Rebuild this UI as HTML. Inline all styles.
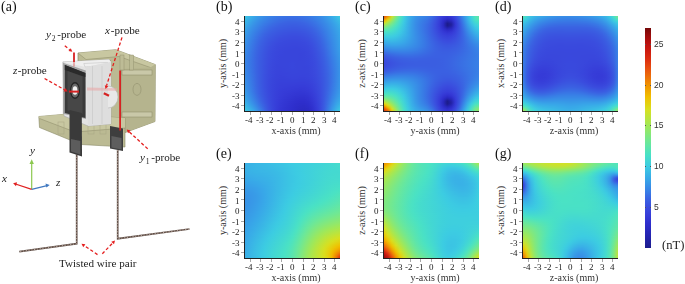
<!DOCTYPE html>
<html><head><meta charset="utf-8">
<style>
*{margin:0;padding:0;box-sizing:border-box}
html,body{width:685px;height:284px;background:#fff;overflow:hidden}
body{position:relative;font-family:"Liberation Serif",serif;color:#222}
.a{position:absolute}
.pl,.tl,.tt,.cbl,.tx{will-change:transform}
.hm{position:absolute;width:95px;height:95px;overflow:hidden}
.hm i{display:block;height:1px}
.pl{position:absolute;font-size:14px;line-height:14px;color:#111}
.axl{position:absolute;width:1px;background:#222}
.axb{position:absolute;height:1px;background:#222}
.tl{position:absolute;font-size:9px;line-height:9px;color:#222;white-space:nowrap}
.tt{position:absolute;font-size:10px;line-height:10px;color:#333;white-space:nowrap}
.tv{position:absolute;width:60px;height:11px;font-size:10px;line-height:11px;color:#333;white-space:nowrap;text-align:center;transform:rotate(-90deg)}
.cb{position:absolute;left:645px;top:28px;width:6px;height:220px}
.cbl{position:absolute;font-family:"Liberation Sans",sans-serif;font-size:8.5px;line-height:9px;color:#333}
</style></head><body>
<!-- panel labels -->
<div class="pl" style="left:0.5px;top:0px">(a)</div>
<div class="pl" style="left:215.5px;top:0px">(b)</div>
<div class="pl" style="left:355px;top:0px">(c)</div>
<div class="pl" style="left:494.5px;top:0px">(d)</div>
<div class="pl" style="left:215.5px;top:147px">(e)</div>
<div class="pl" style="left:355px;top:147px">(f)</div>
<div class="pl" style="left:494.5px;top:147px">(g)</div>

<div class="hm" style="left:245px;top:16px"><i style="background:linear-gradient(90deg,#3bc5e3,#3ab7e6,#38aae8,#389ee8,#3894e7,#388be7,#3884e6,#387ee6,#3879e5,#3975e5,#3972e4,#3970e4,#3970e4,#3970e4,#3972e4,#3975e5,#3879e5,#387ee6,#3884e6,#388be7,#3894e7,#389fe8,#38ace7,#3abae5,#3ccae2)"></i><i style="background:linear-gradient(90deg,#3bc2e4,#39b4e6,#38a7e8,#389be7,#3891e7,#3889e6,#3882e6,#387ce5,#3976e5,#3972e4,#3970e4,#396ee4,#396de4,#396ee4,#3970e4,#3972e4,#3976e5,#387ce5,#3882e6,#3889e6,#3892e7,#389de7,#38a9e8,#3ab7e6,#3bc6e3)"></i><i style="background:linear-gradient(90deg,#3bbfe4,#39b1e7,#38a4e8,#3899e7,#388fe7,#3886e6,#387fe6,#3879e5,#3974e4,#3970e4,#396de4,#396ce3,#396be3,#396be3,#396de3,#3970e4,#3974e4,#3879e5,#3880e6,#3887e6,#3890e7,#389be7,#38a7e8,#39b4e6,#3bc3e4)"></i><i style="background:linear-gradient(90deg,#3abce5,#39aee7,#38a1e8,#3896e7,#388ce7,#3884e6,#387de6,#3977e5,#3972e4,#396ee4,#396be3,#3a69e3,#3a69e3,#3a69e3,#396be3,#396ee4,#3972e4,#3977e5,#387ee6,#3885e6,#388ee7,#3899e7,#38a5e8,#39b1e6,#3bbfe4)"></i><i style="background:linear-gradient(90deg,#3ab9e5,#38abe7,#389fe8,#3893e7,#388ae6,#3882e6,#387ae5,#3974e4,#396fe4,#396be3,#3a69e3,#3a67e3,#3a66e3,#3a67e3,#3a68e3,#396be3,#396fe4,#3975e4,#387ce5,#3883e6,#388ce7,#3897e7,#38a2e8,#39afe7,#3abce5)"></i><i style="background:linear-gradient(90deg,#3ab6e6,#38a9e8,#389ce7,#3891e7,#3887e6,#387fe6,#3978e5,#3972e4,#396de3,#3a69e3,#3a66e3,#3a64e2,#3a64e2,#3a64e2,#3a66e3,#3a69e3,#396de3,#3972e4,#3879e5,#3882e6,#388ae7,#3895e7,#38a0e8,#39ade7,#3ab9e5)"></i><i style="background:linear-gradient(90deg,#39b4e6,#38a6e8,#3899e7,#388ee7,#3885e6,#387de6,#3976e5,#3970e4,#396be3,#3a67e3,#3a64e2,#3a62e2,#3a62e2,#3a62e2,#3a63e2,#3a66e3,#396be3,#3970e4,#3977e5,#3880e6,#3889e6,#3893e7,#389ee8,#38aae8,#3ab7e6)"></i><i style="background:linear-gradient(90deg,#39b1e6,#38a4e8,#3897e7,#388ce7,#3883e6,#387ae5,#3973e4,#396de3,#3a68e3,#3a64e2,#3a62e2,#3a60e2,#3a60e2,#3a60e2,#3a61e2,#3a64e2,#3a68e3,#396ee4,#3975e5,#387ee6,#3887e6,#3891e7,#389ce7,#38a9e8,#39b5e6)"></i><i style="background:linear-gradient(90deg,#39afe7,#38a1e8,#3895e7,#388ae6,#3881e6,#3978e5,#3971e4,#396be3,#3a66e3,#3a62e2,#3a60e2,#3a5fe1,#3a5ee1,#3a5ee1,#3a60e2,#3a62e2,#3a66e3,#396ce3,#3973e4,#387ce5,#3885e6,#388fe7,#389ae7,#38a7e8,#39b2e6)"></i><i style="background:linear-gradient(90deg,#39ade7,#389fe8,#3892e7,#3888e6,#387ee6,#3976e5,#396ee4,#3a69e3,#3a64e2,#3a60e2,#3a5ee1,#3a5de1,#3a5ce1,#3a5de1,#3a5ee1,#3a60e2,#3a64e2,#396ae3,#3971e4,#387ae5,#3884e6,#388ee7,#3899e7,#38a5e8,#39b0e7)"></i><i style="background:linear-gradient(90deg,#38aae8,#389de7,#3890e7,#3886e6,#387ce5,#3973e4,#396ce3,#3a66e3,#3a62e2,#3a5fe1,#3a5de1,#3a5be1,#3a5be1,#3a5be1,#3a5ce1,#3a5ee1,#3a62e2,#3a67e3,#396fe4,#3978e5,#3882e6,#388ce7,#3897e7,#38a3e8,#39afe7)"></i><i style="background:linear-gradient(90deg,#38a8e8,#389ae7,#388ee7,#3884e6,#387ae5,#3971e4,#396ae3,#3a64e2,#3a60e2,#3a5de1,#3a5be1,#3a5ae1,#3a59e0,#3a59e0,#3a5be1,#3a5de1,#3a60e2,#3a65e2,#396de3,#3976e5,#3881e6,#388be7,#3896e7,#38a2e8,#39ade7)"></i><i style="background:linear-gradient(90deg,#38a6e8,#3898e7,#388ce7,#3882e6,#3978e5,#396fe4,#3a68e3,#3a62e2,#3a5ee1,#3a5ce1,#3a5ae0,#3a58e0,#3a58e0,#3a58e0,#3a59e0,#3a5be1,#3a5ee1,#3a63e2,#396be3,#3974e4,#387fe6,#3889e6,#3895e7,#38a0e8,#38ace7)"></i><i style="background:linear-gradient(90deg,#38a4e8,#3896e7,#388ae7,#3880e6,#3976e5,#396de3,#3a66e2,#3a60e2,#3a5de1,#3a5ae1,#3a58e0,#3a57e0,#3a56e0,#3a56e0,#3a57e0,#3a59e0,#3a5de1,#3a61e2,#3a69e3,#3973e4,#387de6,#3888e6,#3893e7,#389fe8,#38aae8)"></i><i style="background:linear-gradient(90deg,#38a2e8,#3895e7,#3889e6,#387ee6,#3974e4,#396be3,#3a64e2,#3a5fe1,#3a5be1,#3a58e0,#3a56e0,#3a55e0,#3a55e0,#3a55e0,#3a56e0,#3a58e0,#3a5be1,#3a60e2,#3a67e3,#3971e4,#387ce5,#3887e6,#3892e7,#389ee7,#38a9e8)"></i><i style="background:linear-gradient(90deg,#38a1e8,#3893e7,#3887e6,#387ce5,#3972e4,#3a69e3,#3a62e2,#3a5de1,#3a5ae0,#3a57e0,#3a55e0,#3a54df,#3a53df,#3a53df,#3a54df,#3a56e0,#3a5ae0,#3a5fe1,#3a66e2,#396fe4,#387ae5,#3886e6,#3891e7,#389de7,#38a8e8)"></i><i style="background:linear-gradient(90deg,#389fe8,#3891e7,#3885e6,#387ae5,#3970e4,#3a67e3,#3a60e2,#3a5ce1,#3a58e0,#3a55e0,#3a53df,#3a52df,#3a52df,#3a52df,#3a53df,#3a55e0,#3a58e0,#3a5de1,#3a64e2,#396ee4,#3879e5,#3885e6,#3890e7,#389ce7,#38a7e8)"></i><i style="background:linear-gradient(90deg,#389de7,#3890e7,#3884e6,#3978e5,#396ee4,#3a65e2,#3a5fe1,#3a5ae1,#3a57e0,#3a54df,#3a52df,#3a51df,#3a50df,#3a50df,#3a51df,#3a53df,#3a57e0,#3a5ce1,#3a62e2,#396ce3,#3978e5,#3884e6,#388fe7,#389be7,#38a7e8)"></i><i style="background:linear-gradient(90deg,#389ce7,#388ee7,#3882e6,#3977e5,#396ce3,#3a63e2,#3a5de1,#3a59e0,#3a55e0,#3a53df,#3a51df,#3a4fdf,#3a4fdf,#3a4fdf,#3a50df,#3a52df,#3a55e0,#3a5ae1,#3a61e2,#396be3,#3976e5,#3883e6,#388ee7,#389ae7,#38a6e8)"></i><i style="background:linear-gradient(90deg,#389ae7,#388de7,#3881e6,#3975e5,#396be3,#3a62e2,#3a5ce1,#3a58e0,#3a54df,#3a51df,#3a4fdf,#3a4ede,#3a4ede,#3a4ede,#3a4fde,#3a51df,#3a54df,#3a59e0,#3a60e2,#3a69e3,#3975e5,#3882e6,#388de7,#3899e7,#38a5e8)"></i><i style="background:linear-gradient(90deg,#3899e7,#388ce7,#387fe6,#3973e4,#3a69e3,#3a60e2,#3a5be1,#3a56e0,#3a53df,#3a50df,#3a4ede,#3a4dde,#3a4cde,#3a4cde,#3a4dde,#3a4fdf,#3a53df,#3a58e0,#3a5ee1,#3a68e3,#3974e4,#3881e6,#388de7,#3899e7,#38a5e8)"></i><i style="background:linear-gradient(90deg,#3898e7,#388ae7,#387ee6,#3972e4,#3a67e3,#3a5fe2,#3a5ae0,#3a55e0,#3a51df,#3a4fde,#3a4dde,#3a4cde,#3a4bde,#3a4bde,#3a4cde,#3a4ede,#3a51df,#3a57e0,#3a5de1,#3a66e3,#3973e4,#3880e6,#388ce7,#3898e7,#38a4e8)"></i><i style="background:linear-gradient(90deg,#3896e7,#3889e6,#387de6,#3971e4,#3a66e3,#3a5ee1,#3a58e0,#3a54df,#3a50df,#3a4dde,#3a4cde,#3a4bde,#3a4bdd,#3a4bdd,#3a4bde,#3a4dde,#3a50df,#3a55e0,#3a5ce1,#3a65e2,#3971e4,#387fe6,#388be7,#3897e7,#38a4e8)"></i><i style="background:linear-gradient(90deg,#3895e7,#3888e6,#387be5,#396fe4,#3a65e2,#3a5de1,#3a57e0,#3a53df,#3a4fdf,#3a4cde,#3a4bde,#3a4add,#394add,#394add,#3a4add,#3a4cde,#3a4fdf,#3a54e0,#3a5be1,#3a64e2,#3970e4,#387ee6,#388ae7,#3897e7,#38a3e8)"></i><i style="background:linear-gradient(90deg,#3894e7,#3887e6,#387ae5,#396ee4,#3a63e2,#3a5ce1,#3a56e0,#3a52df,#3a4ede,#3a4bde,#3a4add,#3949dd,#3949dd,#3949dd,#394add,#3a4bde,#3a4ede,#3a53df,#3a5ae1,#3a62e2,#396fe4,#387de6,#388ae6,#3896e7,#38a3e8)"></i><i style="background:linear-gradient(90deg,#3893e7,#3886e6,#3879e5,#396de3,#3a62e2,#3a5be1,#3a55e0,#3a50df,#3a4dde,#3a4bde,#3949dd,#3949dd,#3948dd,#3948dd,#3949dd,#3a4add,#3a4dde,#3a52df,#3a59e0,#3a61e2,#396ee4,#387ce5,#3889e6,#3896e7,#38a2e8)"></i><i style="background:linear-gradient(90deg,#3892e7,#3885e6,#3978e5,#396ce3,#3a61e2,#3a5ae1,#3a54e0,#3a4fdf,#3a4cde,#394add,#3949dd,#3948dd,#3948dc,#3948dc,#3948dd,#3949dd,#3a4cde,#3a51df,#3a58e0,#3a61e2,#396de3,#387be5,#3888e6,#3895e7,#38a2e8)"></i><i style="background:linear-gradient(90deg,#3891e7,#3884e6,#3977e5,#396be3,#3a60e2,#3a59e0,#3a53df,#3a4fde,#3a4bde,#3949dd,#3948dd,#3948dc,#3947dc,#3947dc,#3948dc,#3949dd,#3a4bde,#3a50df,#3a57e0,#3a60e2,#396ce3,#387ae5,#3888e6,#3895e7,#38a2e8)"></i><i style="background:linear-gradient(90deg,#3890e7,#3883e6,#3976e5,#396ae3,#3a60e2,#3a59e0,#3a53df,#3a4ede,#3a4add,#3949dd,#3948dc,#3947dc,#3947dc,#3947dc,#3947dc,#3948dd,#3a4bdd,#3a4fdf,#3a56e0,#3a5fe1,#396be3,#3879e5,#3887e6,#3894e7,#38a1e8)"></i><i style="background:linear-gradient(90deg,#388fe7,#3882e6,#3975e5,#3a69e3,#3a5fe1,#3a58e0,#3a52df,#3a4dde,#394add,#3948dd,#3947dc,#3947dc,#3946dc,#3946dc,#3947dc,#3948dc,#394add,#3a4ede,#3a56e0,#3a5ee1,#396ae3,#3978e5,#3887e6,#3894e7,#38a1e8)"></i><i style="background:linear-gradient(90deg,#388ee7,#3882e6,#3974e4,#3a68e3,#3a5ee1,#3a57e0,#3a51df,#3a4cde,#3949dd,#3948dc,#3947dc,#3946dc,#3846dc,#3846dc,#3946dc,#3947dc,#3949dd,#3a4ede,#3a55e0,#3a5de1,#3a69e3,#3978e5,#3886e6,#3893e7,#38a1e8)"></i><i style="background:linear-gradient(90deg,#388de7,#3881e6,#3974e4,#3a67e3,#3a5ee1,#3a56e0,#3a50df,#3a4cde,#3949dd,#3947dc,#3946dc,#3846dc,#3846dc,#3845dc,#3846dc,#3947dc,#3949dd,#3a4dde,#3a54df,#3a5de1,#3a68e3,#3977e5,#3885e6,#3893e7,#38a0e8)"></i><i style="background:linear-gradient(90deg,#388de7,#3880e6,#3973e4,#3a67e3,#3a5de1,#3a56e0,#3a50df,#3a4bde,#3948dd,#3947dc,#3846dc,#3846dc,#3845dc,#3845db,#3845dc,#3946dc,#3948dd,#3a4cde,#3a53df,#3a5ce1,#3a67e3,#3976e5,#3885e6,#3892e7,#38a0e8)"></i><i style="background:linear-gradient(90deg,#388ce7,#387fe6,#3972e4,#3a66e3,#3a5de1,#3a55e0,#3a4fdf,#3a4bde,#3948dd,#3946dc,#3846dc,#3845dc,#3845db,#3845db,#3845db,#3846dc,#3948dd,#3a4cde,#3a53df,#3a5be1,#3a66e3,#3975e5,#3884e6,#3892e7,#389fe8)"></i><i style="background:linear-gradient(90deg,#388be7,#387fe6,#3972e4,#3a65e2,#3a5ce1,#3a55e0,#3a4fde,#3a4add,#3948dc,#3946dc,#3845dc,#3845db,#3845db,#3845db,#3845db,#3846dc,#3948dc,#3a4bde,#3a52df,#3a5be1,#3a65e2,#3974e4,#3883e6,#3891e7,#389ee8)"></i><i style="background:linear-gradient(90deg,#388ae7,#387ee6,#3971e4,#3a65e2,#3a5ce1,#3a54e0,#3a4ede,#394add,#3947dc,#3846dc,#3845db,#3845db,#3845db,#3845db,#3845db,#3845dc,#3947dc,#3a4bde,#3a51df,#3a5ae1,#3a65e2,#3973e4,#3882e6,#3890e7,#389ee7)"></i><i style="background:linear-gradient(90deg,#388ae6,#387de6,#3970e4,#3a64e2,#3a5be1,#3a54df,#3a4ede,#394add,#3947dc,#3846dc,#3845db,#3845db,#3845db,#3845db,#3845db,#3845db,#3947dc,#3a4bdd,#3a51df,#3a59e0,#3a64e2,#3972e4,#3882e6,#388fe7,#389de7)"></i><i style="background:linear-gradient(90deg,#3889e6,#387de6,#3970e4,#3a64e2,#3a5be1,#3a54df,#3a4dde,#3949dd,#3947dc,#3846dc,#3845db,#3845db,#3845db,#3845db,#3844db,#3845db,#3947dc,#3a4add,#3a50df,#3a59e0,#3a63e2,#3972e4,#3881e6,#388fe7,#389ce7)"></i><i style="background:linear-gradient(90deg,#3888e6,#387ce5,#396fe4,#3a63e2,#3a5be1,#3a53df,#3a4dde,#3949dd,#3947dc,#3845dc,#3845db,#3845db,#3845db,#3845db,#3844db,#3845db,#3947dc,#394add,#3a50df,#3a58e0,#3a62e2,#3971e4,#3880e6,#388ee7,#389be7)"></i><i style="background:linear-gradient(90deg,#3888e6,#387ce5,#396fe4,#3a63e2,#3a5ae1,#3a53df,#3a4dde,#3949dd,#3947dc,#3845dc,#3845db,#3845db,#3845db,#3845db,#3844db,#3845db,#3946dc,#394add,#3a50df,#3a58e0,#3a62e2,#3970e4,#387fe6,#388de7,#389be7)"></i><i style="background:linear-gradient(90deg,#3887e6,#387be5,#396fe4,#3a63e2,#3a5ae1,#3a53df,#3a4dde,#3949dd,#3946dc,#3845db,#3845db,#3845db,#3845db,#3845db,#3844db,#3845db,#3946dc,#3949dd,#3a4fdf,#3a57e0,#3a61e2,#396fe4,#387ee6,#388ce7,#389ae7)"></i><i style="background:linear-gradient(90deg,#3887e6,#387be5,#396ee4,#3a62e2,#3a5ae1,#3a53df,#3a4cde,#3949dd,#3946dc,#3845db,#3845db,#3845db,#3845db,#3845db,#3844db,#3845db,#3946dc,#3949dd,#3a4fde,#3a57e0,#3a60e2,#396ee4,#387de6,#388be7,#3899e7)"></i><i style="background:linear-gradient(90deg,#3886e6,#387be5,#396ee4,#3a62e2,#3a5ae1,#3a52df,#3a4cde,#3949dd,#3946dc,#3845db,#3845db,#3845db,#3845db,#3845db,#3844db,#3845db,#3846dc,#3949dd,#3a4ede,#3a56e0,#3a60e2,#396de4,#387de6,#388be7,#3898e7)"></i><i style="background:linear-gradient(90deg,#3886e6,#387ae5,#396ee4,#3a62e2,#3a5ae0,#3a52df,#3a4cde,#3948dd,#3946dc,#3845db,#3845db,#3845db,#3845db,#3845db,#3844db,#3845db,#3846dc,#3949dd,#3a4ede,#3a56e0,#3a5fe2,#396de3,#387ce5,#388ae7,#3898e7)"></i><i style="background:linear-gradient(90deg,#3886e6,#387ae5,#396ee4,#3a62e2,#3a59e0,#3a52df,#3a4cde,#3948dd,#3846dc,#3845db,#3845db,#3845db,#3845dc,#3845db,#3844db,#3845db,#3846dc,#3949dd,#3a4ede,#3a56e0,#3a5fe1,#396ce3,#387be5,#3889e6,#3897e7)"></i><i style="background:linear-gradient(90deg,#3885e6,#387ae5,#396ee4,#3a62e2,#3a59e0,#3a52df,#3a4cde,#3948dd,#3846dc,#3845db,#3845db,#3845db,#3845dc,#3845db,#3845db,#3845db,#3846dc,#3949dd,#3a4dde,#3a55e0,#3a5ee1,#396be3,#387ae5,#3889e6,#3896e7)"></i><i style="background:linear-gradient(90deg,#3885e6,#387ae5,#396ee4,#3a62e2,#3a59e0,#3a52df,#3a4cde,#3948dc,#3846dc,#3845db,#3845db,#3845db,#3846dc,#3845db,#3845db,#3845db,#3846dc,#3948dd,#3a4dde,#3a55e0,#3a5ee1,#396be3,#387ae5,#3888e6,#3896e7)"></i><i style="background:linear-gradient(90deg,#3885e6,#387ae5,#396ee4,#3a62e2,#3a59e0,#3a52df,#3a4bde,#3948dc,#3846dc,#3845db,#3845db,#3845dc,#3846dc,#3845db,#3845db,#3845db,#3846dc,#3948dd,#3a4dde,#3a54e0,#3a5ee1,#396ae3,#3879e5,#3887e6,#3895e7)"></i><i style="background:linear-gradient(90deg,#3885e6,#387ae5,#396ee4,#3a62e2,#3a59e0,#3a52df,#3a4bde,#3948dc,#3845dc,#3845db,#3845db,#3845dc,#3846dc,#3845db,#3845db,#3845db,#3846dc,#3948dd,#3a4dde,#3a54df,#3a5de1,#3a69e3,#3978e5,#3887e6,#3895e7)"></i><i style="background:linear-gradient(90deg,#3886e6,#387ae5,#396ee4,#3a62e2,#3a59e0,#3a51df,#3a4bde,#3948dc,#3845db,#3845db,#3845db,#3845dc,#3846dc,#3845db,#3845db,#3845db,#3845dc,#3948dd,#3a4cde,#3a54df,#3a5de1,#3a69e3,#3978e5,#3887e6,#3895e7)"></i><i style="background:linear-gradient(90deg,#3886e6,#387ae5,#396ee4,#3a62e2,#3a59e0,#3a51df,#3a4bde,#3947dc,#3845db,#3844db,#3845db,#3845db,#3846dc,#3845db,#3845db,#3844db,#3845dc,#3948dc,#3a4cde,#3a53df,#3a5ce1,#3a68e3,#3977e5,#3886e6,#3894e7)"></i><i style="background:linear-gradient(90deg,#3886e6,#387be5,#396ee4,#3a62e2,#3a59e0,#3a51df,#3a4bde,#3947dc,#3845db,#3844db,#3845db,#3845db,#3846dc,#3845db,#3845db,#3844db,#3845db,#3948dc,#3a4cde,#3a53df,#3a5ce1,#3a68e3,#3977e5,#3886e6,#3894e7)"></i><i style="background:linear-gradient(90deg,#3886e6,#387be5,#396ee4,#3a62e2,#3a59e0,#3a51df,#3a4bde,#3947dc,#3845db,#3844db,#3844db,#3845db,#3846dc,#3845db,#3845db,#3844db,#3845db,#3948dc,#3a4cde,#3a53df,#3a5ce1,#3a67e3,#3976e5,#3885e6,#3894e7)"></i><i style="background:linear-gradient(90deg,#3887e6,#387be5,#396fe4,#3a62e2,#3a59e0,#3a51df,#3a4bdd,#3947dc,#3845db,#3844db,#3844db,#3845db,#3845dc,#3845db,#3845db,#3844db,#3845db,#3948dc,#3a4bde,#3a53df,#3a5be1,#3a67e3,#3976e5,#3885e6,#3894e7)"></i><i style="background:linear-gradient(90deg,#3887e6,#387ce5,#396fe4,#3a62e2,#3a59e0,#3a51df,#3a4add,#3947dc,#3844db,#3844db,#3844db,#3845db,#3845dc,#3845db,#3844db,#3844db,#3845db,#3947dc,#3a4bde,#3a52df,#3a5be1,#3a66e3,#3976e5,#3885e6,#3894e7)"></i><i style="background:linear-gradient(90deg,#3888e6,#387ce5,#396fe4,#3a62e2,#3a59e0,#3a51df,#3a4add,#3946dc,#3844db,#3843db,#3844db,#3845db,#3845db,#3845db,#3844db,#3844db,#3845db,#3947dc,#3a4bde,#3a52df,#3a5be1,#3a66e3,#3975e5,#3885e6,#3894e7)"></i><i style="background:linear-gradient(90deg,#3888e6,#387de6,#396fe4,#3a62e2,#3a59e0,#3a51df,#3a4add,#3946dc,#3844db,#3843db,#3844db,#3844db,#3845db,#3845db,#3844db,#3844db,#3845db,#3947dc,#3a4bde,#3a52df,#3a5be1,#3a66e2,#3975e5,#3885e6,#3894e7)"></i><i style="background:linear-gradient(90deg,#3889e6,#387de6,#3970e4,#3a62e2,#3a59e0,#3a51df,#3a4add,#3946dc,#3844db,#3843db,#3843db,#3844db,#3845db,#3844db,#3844db,#3844db,#3844db,#3947dc,#3a4bde,#3a51df,#3a5ae1,#3a65e2,#3975e5,#3885e6,#3894e7)"></i><i style="background:linear-gradient(90deg,#388ae6,#387ee6,#3970e4,#3a63e2,#3a59e0,#3a50df,#394add,#3846dc,#3843db,#3843db,#3843db,#3844db,#3844db,#3844db,#3844db,#3843db,#3844db,#3947dc,#3a4add,#3a51df,#3a5ae1,#3a65e2,#3975e4,#3885e6,#3894e7)"></i><i style="background:linear-gradient(90deg,#388ae7,#387ee6,#3971e4,#3a63e2,#3a59e0,#3a50df,#394add,#3846dc,#3843db,#3842da,#3843db,#3844db,#3844db,#3844db,#3843db,#3843db,#3844db,#3946dc,#3a4add,#3a51df,#3a5ae1,#3a65e2,#3975e4,#3885e6,#3894e7)"></i><i style="background:linear-gradient(90deg,#388be7,#387fe6,#3971e4,#3a63e2,#3a59e0,#3a50df,#394add,#3846dc,#3843db,#3842da,#3842da,#3843db,#3844db,#3843db,#3843db,#3843db,#3844db,#3946dc,#3a4add,#3a51df,#3a5ae0,#3a65e2,#3975e4,#3885e6,#3895e7)"></i><i style="background:linear-gradient(90deg,#388ce7,#3880e6,#3971e4,#3a63e2,#3a59e0,#3a50df,#394add,#3845dc,#3843db,#3742da,#3842da,#3843db,#3843db,#3843db,#3842da,#3842da,#3843db,#3846dc,#394add,#3a50df,#3a59e0,#3a65e2,#3975e4,#3885e6,#3895e7)"></i><i style="background:linear-gradient(90deg,#388de7,#3880e6,#3972e4,#3a63e2,#3a59e0,#3a50df,#394add,#3845db,#3843da,#3742da,#3742da,#3842da,#3843db,#3843da,#3742da,#3742da,#3843db,#3845dc,#3949dd,#3a50df,#3a59e0,#3a65e2,#3975e4,#3885e6,#3895e7)"></i><i style="background:linear-gradient(90deg,#388de7,#3881e6,#3972e4,#3a64e2,#3a59e0,#3a50df,#3949dd,#3845db,#3842da,#3741da,#3741da,#3742da,#3842da,#3742da,#3741da,#3741da,#3842da,#3845db,#3949dd,#3a50df,#3a59e0,#3a65e2,#3975e4,#3885e6,#3895e7)"></i><i style="background:linear-gradient(90deg,#388ee7,#3881e6,#3972e4,#3a64e2,#3a59e0,#3a50df,#3949dd,#3845db,#3842da,#3741da,#3741da,#3741da,#3742da,#3741da,#3741da,#3741da,#3742da,#3845db,#3949dd,#3a50df,#3a59e0,#3a65e2,#3975e5,#3886e6,#3896e7)"></i><i style="background:linear-gradient(90deg,#388fe7,#3882e6,#3973e4,#3a64e2,#3a59e0,#3a50df,#3949dd,#3845db,#3742da,#3741da,#3741da,#3741da,#3741da,#3741da,#3740da,#3740da,#3741da,#3844db,#3949dd,#3a4fdf,#3a59e0,#3a65e2,#3975e5,#3886e6,#3896e7)"></i><i style="background:linear-gradient(90deg,#3890e7,#3882e6,#3973e4,#3a64e2,#3a59e0,#3a50df,#3949dd,#3845db,#3742da,#3740da,#3740da,#3740da,#3740da,#3740d9,#373fd9,#373fd9,#3741da,#3844db,#3948dd,#3a4fdf,#3a59e0,#3a65e2,#3975e5,#3886e6,#3896e7)"></i><i style="background:linear-gradient(90deg,#3891e7,#3883e6,#3974e4,#3a65e2,#3a59e0,#3a50df,#3949dd,#3845db,#3742da,#3740d9,#3740d9,#3740d9,#3740d9,#373fd9,#373fd9,#373fd9,#3740d9,#3843db,#3948dc,#3a4fde,#3a59e0,#3a65e2,#3976e5,#3887e6,#3897e7)"></i><i style="background:linear-gradient(90deg,#3892e7,#3884e6,#3974e4,#3a65e2,#3a5ae0,#3a50df,#3949dd,#3844db,#3741da,#3740d9,#373fd9,#373fd9,#373fd9,#373ed9,#363ed9,#363ed9,#373fd9,#3842da,#3947dc,#3a4ede,#3a59e0,#3a65e2,#3976e5,#3887e6,#3897e7)"></i><i style="background:linear-gradient(90deg,#3893e7,#3884e6,#3975e4,#3a65e2,#3a5ae0,#3a50df,#3949dd,#3844db,#3741da,#373fd9,#373fd9,#373ed9,#373ed9,#363dd9,#363dd8,#363dd8,#373ed9,#3742da,#3947dc,#3a4ede,#3a59e0,#3a65e2,#3977e5,#3888e6,#3897e7)"></i><i style="background:linear-gradient(90deg,#3894e7,#3885e6,#3975e5,#3a65e2,#3a5ae1,#3a50df,#3949dd,#3844db,#3741da,#373fd9,#373ed9,#363ed9,#363dd8,#363dd8,#363cd8,#363cd8,#363ed9,#3741da,#3946dc,#3a4ede,#3a59e0,#3a66e2,#3977e5,#3888e6,#3898e7)"></i><i style="background:linear-gradient(90deg,#3895e7,#3886e6,#3976e5,#3a66e3,#3a5ae1,#3a50df,#3949dd,#3844db,#3741da,#373fd9,#363ed9,#363dd8,#363cd8,#363cd8,#353bd7,#363bd7,#363dd8,#3741da,#3946dc,#3a4dde,#3a59e0,#3a66e3,#3978e5,#3889e6,#3898e7)"></i><i style="background:linear-gradient(90deg,#3896e7,#3887e6,#3976e5,#3a66e3,#3a5ae1,#3a51df,#3949dd,#3844db,#3740da,#373ed9,#363dd8,#363cd8,#363cd8,#353bd7,#353ad6,#353ad7,#363cd8,#3740d9,#3846dc,#3a4dde,#3a59e0,#3a66e3,#3978e5,#3889e6,#3899e7)"></i><i style="background:linear-gradient(90deg,#3897e7,#3887e6,#3977e5,#3a67e3,#3a5be1,#3a51df,#3949dd,#3844db,#3740da,#363ed9,#363cd8,#363cd8,#353bd7,#353ad6,#3439d6,#353ad6,#363bd7,#373fd9,#3845db,#3a4dde,#3a59e0,#3a67e3,#3879e5,#388ae7,#389ae7)"></i><i style="background:linear-gradient(90deg,#3899e7,#3889e6,#3978e5,#3a68e3,#3a5be1,#3a51df,#3949dd,#3844db,#3740da,#363dd9,#363cd8,#353bd7,#353ad6,#3439d6,#3438d5,#3439d5,#353ad7,#373ed9,#3845db,#3a4cde,#3a59e0,#3a67e3,#387ae5,#388be7,#389be7)"></i><i style="background:linear-gradient(90deg,#389ae7,#388ae6,#3879e5,#3a68e3,#3a5be1,#3a51df,#3949dd,#3844db,#3740d9,#363dd8,#363bd7,#353ad7,#3439d6,#3438d5,#3337d4,#3438d4,#353ad6,#363ed9,#3844db,#3a4cde,#3a59e0,#3a68e3,#387be5,#388ce7,#389ce7)"></i><i style="background:linear-gradient(90deg,#389ce7,#388be7,#387ae5,#3a69e3,#3a5ce1,#3a52df,#3949dd,#3844db,#3740d9,#363dd8,#353bd7,#353ad6,#3438d5,#3337d4,#3337d3,#3337d4,#3439d5,#363dd8,#3844db,#3a4cde,#3a59e0,#3a69e3,#387ce5,#388de7,#389de7)"></i><i style="background:linear-gradient(90deg,#389de7,#388ce7,#387ce5,#396ae3,#3a5ce1,#3a52df,#394add,#3844db,#3740d9,#363cd8,#353ad7,#3439d5,#3438d4,#3336d3,#3236d3,#3236d3,#3438d4,#363cd8,#3843db,#3a4cde,#3a59e0,#3a69e3,#387de6,#388ee7,#389ee7)"></i><i style="background:linear-gradient(90deg,#389fe8,#388ee7,#387de6,#396ce3,#3a5de1,#3a52df,#394add,#3844db,#373fd9,#363cd8,#353ad6,#3438d5,#3337d4,#3236d2,#3235d2,#3235d2,#3337d4,#363bd7,#3842da,#3a4bde,#3a59e0,#396ae3,#387ee6,#3890e7,#389fe8)"></i><i style="background:linear-gradient(90deg,#38a1e8,#388fe7,#387fe6,#396de3,#3a5ee1,#3a53df,#394add,#3844db,#373fd9,#363cd8,#3539d6,#3438d4,#3336d3,#3235d2,#3134d1,#3134d1,#3336d3,#353bd7,#3742da,#3a4bde,#3a59e0,#396be3,#387fe6,#3891e7,#38a1e8)"></i><i style="background:linear-gradient(90deg,#38a3e8,#3891e7,#3880e6,#396ee4,#3a5fe1,#3a53df,#3a4add,#3844db,#373fd9,#363bd7,#3439d5,#3337d4,#3235d2,#3134d1,#3133d0,#3133d0,#3235d2,#353ad6,#3741da,#3a4bde,#3a59e0,#396ce3,#3881e6,#3892e7,#38a2e8)"></i><i style="background:linear-gradient(90deg,#38a5e8,#3893e7,#3882e6,#3970e4,#3a60e2,#3a54df,#3a4add,#3844db,#373fd9,#353bd7,#3438d5,#3336d3,#3235d2,#3133d0,#3032cf,#3032cf,#3234d1,#3439d6,#3741da,#3a4bde,#3a5ae0,#396ce3,#3882e6,#3894e7,#38a4e8)"></i><i style="background:linear-gradient(90deg,#38a7e8,#3895e7,#3884e6,#3972e4,#3a61e2,#3a55e0,#3a4bdd,#3844db,#373fd9,#353bd7,#3438d5,#3236d3,#3134d1,#3032cf,#3031ce,#3031cf,#3133d1,#3438d5,#3740da,#3a4add,#3a5ae1,#396de4,#3883e6,#3896e7,#38a6e8)"></i><i style="background:linear-gradient(90deg,#38a9e8,#3897e7,#3886e6,#3974e4,#3a62e2,#3a55e0,#3a4bde,#3844db,#373ed9,#353ad7,#3337d4,#3235d2,#3133d0,#3031cf,#2f30ce,#2f30ce,#3132d0,#3438d4,#3740d9,#3a4add,#3a5ae1,#396ee4,#3885e6,#3898e7,#38a8e8)"></i><i style="background:linear-gradient(90deg,#38abe7,#389ae7,#3888e6,#3976e5,#3a63e2,#3a56e0,#3a4bde,#3844db,#373ed9,#353ad6,#3337d4,#3235d2,#3133d0,#2f30ce,#2f2fcd,#2f2fcd,#3032cf,#3337d4,#373fd9,#3a4add,#3a5ae1,#396fe4,#3886e6,#389ae7,#38aae8)"></i><i style="background:linear-gradient(90deg,#39aee7,#389ce7,#388be7,#3978e5,#3a65e2,#3a57e0,#3a4cde,#3844db,#363ed9,#353ad6,#3337d3,#3134d1,#3032cf,#2f30cd,#2e2ecc,#2e2ecc,#2f31ce,#3336d3,#373ed9,#394add,#3a5ae1,#3971e4,#3888e6,#389ce7,#38ace7)"></i><i style="background:linear-gradient(90deg,#39b0e7,#389fe8,#388de7,#387be5,#3a67e3,#3a58e0,#3a4cde,#3844db,#363ed9,#3439d6,#3336d3,#3134d1,#3031cf,#2f2fcd,#2e2ecb,#2e2ecb,#2f30cd,#3235d2,#363ed9,#394add,#3a5be1,#3972e4,#388ae6,#389ee8,#39afe7)"></i><i style="background:linear-gradient(90deg,#39b3e6,#38a2e8,#3890e7,#387de6,#3a69e3,#3a59e0,#3a4dde,#3844db,#363ed9,#3439d5,#3236d3,#3133d0,#3031ce,#2e2ecc,#2d2dca,#2d2dca,#2e2fcd,#3235d2,#363dd8,#3949dd,#3a5be1,#3973e4,#388be7,#38a1e8,#39b1e6)"></i><i style="background:linear-gradient(90deg,#3ab6e6,#38a6e8,#3893e7,#3880e6,#396ce3,#3a5be1,#3a4dde,#3844db,#363dd9,#3439d5,#3235d2,#3133d0,#2f30ce,#2e2ecb,#2d2dc9,#2d2dc9,#2e2ecc,#3134d1,#363dd8,#3949dd,#3a5be1,#3974e4,#388de7,#38a3e8,#39b4e6)"></i><i style="background:linear-gradient(90deg,#3ab9e5,#38a9e8,#3897e7,#3883e6,#396ee4,#3a5ce1,#3a4ede,#3844db,#363dd8,#3438d5,#3235d2,#3032d0,#2f30cd,#2e2ecb,#2d2dc8,#2c2cc7,#2e2ecb,#3133d0,#363cd8,#3949dd,#3a5ce1,#3976e5,#388fe7,#38a6e8,#3ab7e5)"></i><i style="background:linear-gradient(90deg,#3abce5,#38ace7,#389ae7,#3886e6,#3971e4,#3a5de1,#3a4fde,#3845db,#363dd8,#3438d5,#3235d2,#3032cf,#2f2fcd,#2d2dca,#2c2cc7,#2c2cc6,#2d2dca,#3032d0,#363cd8,#3949dd,#3a5ce1,#3977e5,#3891e7,#38a9e8,#3abae5)"></i><i style="background:linear-gradient(90deg,#3bbfe4,#39b0e7,#389ee7,#388ae6,#3974e4,#3a5fe1,#3a4fdf,#3845db,#363dd8,#3438d4,#3234d1,#3032cf,#2e2fcd,#2d2dc9,#2c2cc6,#2c2cc5,#2d2dc8,#3031cf,#353bd7,#3948dd,#3a5ce1,#3978e5,#3894e7,#38abe7,#3abee4)"></i><i style="background:linear-gradient(90deg,#3bc2e4,#39b4e6,#38a2e8,#388de7,#3977e5,#3a60e2,#3a50df,#3845db,#363dd8,#3337d4,#3134d1,#3031cf,#2e2fcc,#2d2dc9,#2c2cc5,#2b2bc4,#2c2cc7,#3031ce,#353ad7,#3948dd,#3a5de1,#387ae5,#3896e7,#39aee7,#3bc2e4)"></i><i style="background:linear-gradient(90deg,#3bc6e3,#3ab8e5,#38a6e8,#3891e7,#387ae5,#3a62e2,#3a51df,#3845db,#363cd8,#3337d4,#3134d1,#3031cf,#2e2ecc,#2d2dc8,#2b2bc4,#2b2bc3,#2c2cc6,#2f30ce,#353ad6,#3948dd,#3a5de1,#387be5,#3898e7,#39b1e6,#3bc6e3)"></i><i style="background:linear-gradient(90deg,#3ccae2,#3abce5,#38abe8,#3895e7,#387ee6,#3a64e2,#3a52df,#3845db,#363cd8,#3337d4,#3133d1,#3031ce,#2e2ecc,#2c2cc8,#2b2bc4,#2b2bc2,#2c2cc5,#2f2fcd,#3539d6,#3948dc,#3a5de1,#387de6,#389be7,#39b5e6,#3ccae2)"></i></div>
<div class="hm" style="left:384px;top:16px"><i style="background:linear-gradient(90deg,#e8530f,#f09400,#d1e127,#86e877,#54e4b7,#40d2da,#3ab9e5,#38a4e8,#3895e7,#388be7,#3885e6,#387de6,#396fe4,#3a5be1,#3949dd,#363bd7,#3235d2,#3439d6,#3949dd,#3a65e2,#388ce7,#39b0e7,#3ecfdd,#4fe3be,#5ee6aa)"></i><i style="background:linear-gradient(90deg,#ea600d,#f0aa00,#c2e336,#7fe881,#51e3bb,#3fd1dc,#3ab8e5,#38a3e8,#3893e7,#3889e6,#3882e6,#387ae5,#396be3,#3a58e0,#3946dc,#3438d5,#2f30ce,#3235d2,#3946dc,#3a61e2,#388ae6,#39aee7,#3ecfde,#4ee3bf,#5ee6aa)"></i><i style="background:linear-gradient(90deg,#ed7509,#efc101,#b3e545,#77e88b,#4de3c0,#3ecfdd,#3ab7e6,#38a2e8,#3891e7,#3887e6,#3880e6,#3977e5,#3a68e3,#3a56e0,#3844db,#3235d2,#2d2dc9,#3031ce,#3843db,#3a5fe1,#3887e6,#38ace7,#3dcedf,#4ce2c2,#5be5ae)"></i><i style="background:linear-gradient(90deg,#f09100,#e3d212,#a5e753,#6fe894,#4ae2c4,#3dcedf,#3ab6e6,#38a0e8,#3890e7,#3885e6,#387de6,#3974e4,#3a65e2,#3a53df,#3842da,#3032d0,#2a2ac1,#2d2dc9,#3740da,#3a5ce1,#3884e6,#38aae8,#3ccce1,#49e1c6,#56e4b4)"></i><i style="background:linear-gradient(90deg,#f0ad00,#d5e023,#98e862,#69e79d,#48e0c7,#3dcde0,#39b5e6,#38a0e8,#388fe7,#3884e6,#387be5,#3971e4,#3a62e2,#3a52df,#3740da,#2f2fcd,#2626b7,#2a2ac1,#363dd9,#3a5ae1,#3882e6,#38a8e8,#3ccae2,#47deca,#50e3bc)"></i><i style="background:linear-gradient(90deg,#ebc707,#c1e337,#8ce871,#63e6a4,#47deca,#3ccce2,#39b4e6,#389fe8,#388ee7,#3883e6,#3879e5,#396fe4,#3a61e2,#3a50df,#373fd9,#2d2dca,#2323aa,#2727b7,#353bd7,#3a58e0,#387fe6,#38a5e8,#3bc6e3,#45dace,#4ae2c4)"></i><i style="background:linear-gradient(90deg,#dcda1a,#afe649,#81e87e,#5de5ab,#46dccd,#3ccae2,#39b3e6,#389ee8,#388de7,#3882e6,#3978e5,#396ee4,#3a5fe2,#3a4fde,#363ed9,#2c2cc6,#1f1f9b,#2323ad,#3439d5,#3a56e0,#387ce6,#38a2e8,#3bc3e4,#43d7d3,#48dfc9)"></i><i style="background:linear-gradient(90deg,#c7e231,#9ee85b,#77e88a,#58e4b2,#45dacf,#3cc9e3,#39b2e6,#389ee7,#388de7,#3881e6,#3977e5,#396ce3,#3a5ee1,#3a4ede,#363dd8,#2b2bc4,#1c1c8d,#2121a3,#3337d4,#3a54df,#387ae5,#389fe8,#3bbfe4,#41d4d7,#46dbcd)"></i><i style="background:linear-gradient(90deg,#b0e648,#8fe86d,#6ee896,#53e4b8,#44d8d2,#3bc7e3,#39b1e6,#389de7,#388ce7,#3880e6,#3976e5,#396be3,#3a5de1,#3a4dde,#363dd8,#2b2bc3,#1c1c8c,#20209e,#3337d3,#3a53df,#3977e5,#389ce7,#3abbe5,#3fd1dc,#44d8d2)"></i><i style="background:linear-gradient(90deg,#9ce85d,#82e87e,#66e7a0,#4ee3be,#43d6d4,#3bc6e3,#39b1e7,#389de7,#388ce7,#3880e6,#3975e5,#396ae3,#3a5de1,#3a4dde,#363dd8,#2b2bc4,#1c1c8c,#2121a1,#3337d3,#3a52df,#3975e5,#3899e7,#3ab7e5,#3dcee0,#42d5d6)"></i><i style="background:linear-gradient(90deg,#8ae873,#75e88d,#5fe6a9,#4ae2c4,#41d5d6,#3bc4e3,#39b0e7,#389de7,#388ce7,#3880e6,#3975e5,#396ae3,#3a5de1,#3a4dde,#363dd8,#2c2cc6,#1e1e97,#2323aa,#3337d4,#3a52df,#3973e4,#3896e7,#39b3e6,#3ccae2,#40d2d9)"></i><i style="background:linear-gradient(90deg,#7ae886,#6ae89a,#58e5b1,#48dfc8,#40d3d9,#3bc3e4,#39afe7,#389ce7,#388ce7,#3880e6,#3975e5,#3a69e3,#3a5ce1,#3a4dde,#373ed9,#2d2dc9,#2222a7,#2626b5,#3439d5,#3a51df,#3971e4,#3893e7,#39afe7,#3bc5e3,#3ed0dd)"></i><i style="background:linear-gradient(90deg,#6ce898,#61e6a6,#52e3b9,#47ddcb,#3fd1db,#3bc2e4,#39afe7,#389ce7,#388ce7,#3880e6,#3975e5,#3a69e3,#3a5ce1,#3a4dde,#373fd9,#2f2fcd,#2626b5,#2929be,#353bd7,#3a51df,#396fe4,#3890e7,#38ace7,#3bc1e4,#3dcde1)"></i><i style="background:linear-gradient(90deg,#61e6a7,#59e5b1,#4de2c1,#45dacf,#3ed0dd,#3bc0e4,#39aee7,#389ce7,#388de7,#3880e6,#3975e5,#3a69e3,#3a5de1,#3a4ede,#3740da,#3032d0,#2a2ac0,#2c2cc7,#363dd8,#3a52df,#396ee4,#388de7,#38a8e8,#3abde5,#3cc9e2)"></i><i style="background:linear-gradient(90deg,#56e4b4,#51e3bb,#49e0c7,#43d8d2,#3dcedf,#3bbfe4,#39aee7,#389ce7,#388de7,#3881e6,#3975e5,#396ae3,#3a5de1,#3a4fdf,#3742da,#3235d2,#2d2dc9,#2f30cd,#373fd9,#3a52df,#396de3,#388be7,#38a4e8,#3ab8e5,#3bc5e3)"></i><i style="background:linear-gradient(90deg,#4de3c0,#4ae2c4,#47ddcb,#42d5d5,#3ccde1,#3abde4,#39ade7,#389ce7,#388de7,#3881e6,#3976e5,#396ae3,#3a5de1,#3a50df,#3843db,#3438d5,#3031ce,#3234d1,#3741da,#3a53df,#396be3,#3888e6,#38a1e8,#39b4e6,#3bc1e4)"></i><i style="background:linear-gradient(90deg,#48dec9,#47deca,#45d9d0,#40d3d9,#3ccae2,#3abce5,#38ace7,#389ce7,#388ee7,#3882e6,#3976e5,#396be3,#3a5ee1,#3a51df,#3845db,#353bd7,#3235d2,#3438d5,#3843db,#3a54df,#396ae3,#3886e6,#389de7,#39b0e7,#3abde4)"></i><i style="background:linear-gradient(90deg,#44d9d0,#45dacf,#42d6d4,#3fd1dc,#3cc8e3,#3abae5,#38abe7,#389ce7,#388ee7,#3882e6,#3977e5,#396be3,#3a5fe1,#3a52df,#3947dc,#363dd9,#3439d5,#363bd7,#3845db,#3a54e0,#3a69e3,#3883e6,#389ae7,#39ade7,#3ab9e5)"></i><i style="background:linear-gradient(90deg,#42d5d6,#42d6d5,#41d3d8,#3dcedf,#3bc5e3,#3ab8e5,#38abe8,#389ce7,#388ee7,#3883e6,#3978e5,#396ce3,#3a5fe2,#3a54df,#3948dd,#3740da,#363cd8,#373ed9,#3947dc,#3a55e0,#3a69e3,#3881e6,#3896e7,#38a9e8,#39b5e6)"></i><i style="background:linear-gradient(90deg,#3fd0dc,#40d2da,#3fd0dc,#3ccce2,#3bc2e4,#3ab6e6,#38aae8,#389ce7,#388ee7,#3883e6,#3978e5,#396de3,#3a60e2,#3a55e0,#394add,#3843da,#373fd9,#3741da,#3949dd,#3a56e0,#3a68e3,#387fe6,#3893e7,#38a5e8,#39b2e6)"></i><i style="background:linear-gradient(90deg,#3ccce2,#3ecedf,#3dcde0,#3cc8e3,#3bbfe4,#39b4e6,#38a9e8,#389be7,#388fe7,#3884e6,#3879e5,#396de4,#3a61e2,#3a56e0,#3a4bde,#3845db,#3742da,#3844db,#3a4add,#3a57e0,#3a67e3,#387de6,#3890e7,#38a1e8,#39aee7)"></i><i style="background:linear-gradient(90deg,#3bc6e3,#3ccae2,#3cc9e2,#3bc4e3,#3abce5,#39b2e6,#38a7e8,#389be7,#388fe7,#3884e6,#3879e5,#396ee4,#3a62e2,#3a58e0,#3a4dde,#3947dc,#3844db,#3846dc,#3a4cde,#3a58e0,#3a67e3,#387be5,#388de7,#389de7,#38aae8)"></i><i style="background:linear-gradient(90deg,#3bc0e4,#3bc5e3,#3bc4e3,#3bc0e4,#3ab9e5,#39b0e7,#38a6e8,#389ae7,#388fe7,#3884e6,#387ae5,#396fe4,#3a63e2,#3a59e0,#3a4fdf,#3949dd,#3946dc,#3948dd,#3a4ede,#3a59e0,#3a67e3,#3879e5,#388be7,#389ae7,#38a6e8)"></i><i style="background:linear-gradient(90deg,#3abbe5,#3bc0e4,#3bbfe4,#3abce5,#3ab6e6,#39aee7,#38a4e8,#3899e7,#388fe7,#3884e6,#387ae5,#396fe4,#3a64e2,#3a5ae1,#3a51df,#3a4bde,#3949dd,#3a4add,#3a50df,#3a5ae0,#3a67e3,#3978e5,#3888e6,#3896e7,#38a2e8)"></i><i style="background:linear-gradient(90deg,#39b5e6,#3abae5,#3abbe5,#3ab8e5,#39b3e6,#38abe7,#38a2e8,#3898e7,#388ee7,#3885e6,#387be5,#3970e4,#3a65e2,#3a5be1,#3a53df,#3a4dde,#3a4bdd,#3a4cde,#3a52df,#3a5ae1,#3a66e3,#3976e5,#3886e6,#3893e7,#389ee8)"></i><i style="background:linear-gradient(90deg,#39b0e7,#39b5e6,#3ab6e6,#39b4e6,#39afe7,#38a9e8,#38a0e8,#3897e7,#388ee7,#3884e6,#387be5,#3970e4,#3a66e2,#3a5de1,#3a55e0,#3a4fdf,#3a4dde,#3a4ede,#3a53df,#3a5be1,#3a66e3,#3975e5,#3883e6,#3890e7,#389ae7)"></i><i style="background:linear-gradient(90deg,#38abe8,#39b0e7,#39b1e6,#39afe7,#38ace7,#38a6e8,#389ee8,#3896e7,#388de7,#3884e6,#387be5,#3971e4,#3a66e3,#3a5ee1,#3a57e0,#3a51df,#3a4fdf,#3a50df,#3a55e0,#3a5ce1,#3a66e3,#3974e4,#3881e6,#388de7,#3897e7)"></i><i style="background:linear-gradient(90deg,#38a6e8,#38abe8,#38ace7,#38abe7,#38a8e8,#38a3e8,#389ce7,#3894e7,#388ce7,#3884e6,#387be5,#3971e4,#3a67e3,#3a5fe1,#3a58e0,#3a54df,#3a51df,#3a53df,#3a57e0,#3a5de1,#3a67e3,#3973e4,#387fe6,#388ae6,#3893e7)"></i><i style="background:linear-gradient(90deg,#38a0e8,#38a5e8,#38a7e8,#38a7e8,#38a4e8,#389fe8,#3899e7,#3892e7,#388be7,#3883e6,#387ae5,#3971e4,#3a68e3,#3a5fe2,#3a5ae0,#3a55e0,#3a54df,#3a55e0,#3a58e0,#3a5ee1,#3a67e3,#3972e4,#387de6,#3887e6,#3890e7)"></i><i style="background:linear-gradient(90deg,#389ae7,#38a0e8,#38a2e8,#38a2e8,#389fe8,#389ce7,#3897e7,#3890e7,#3889e6,#3882e6,#387ae5,#3971e4,#3a68e3,#3a60e2,#3a5be1,#3a57e0,#3a56e0,#3a57e0,#3a5ae1,#3a5fe1,#3a67e3,#3971e4,#387ce5,#3885e6,#388de7)"></i><i style="background:linear-gradient(90deg,#3894e7,#389ae7,#389ce7,#389ce7,#389be7,#3898e7,#3893e7,#388ee7,#3888e6,#3881e6,#3879e5,#3970e4,#3a68e3,#3a61e2,#3a5ce1,#3a59e0,#3a57e0,#3a58e0,#3a5be1,#3a60e2,#3a67e3,#3971e4,#387ae5,#3883e6,#388be7)"></i><i style="background:linear-gradient(90deg,#388ee7,#3894e7,#3896e7,#3897e7,#3896e7,#3894e7,#3890e7,#388be7,#3886e6,#387fe6,#3978e5,#3970e4,#3a68e3,#3a61e2,#3a5de1,#3a5ae1,#3a59e0,#3a5ae1,#3a5de1,#3a61e2,#3a68e3,#3970e4,#3879e5,#3881e6,#3888e6)"></i><i style="background:linear-gradient(90deg,#3888e6,#388ee7,#3891e7,#3892e7,#3891e7,#3890e7,#388de7,#3888e6,#3883e6,#387de6,#3976e5,#396fe4,#3a68e3,#3a62e2,#3a5ee1,#3a5be1,#3a5ae1,#3a5be1,#3a5ee1,#3a62e2,#3a68e3,#3970e4,#3978e5,#3880e6,#3886e6)"></i><i style="background:linear-gradient(90deg,#3882e6,#3888e6,#388be7,#388ce7,#388ce7,#388be7,#3889e6,#3885e6,#3881e6,#387be5,#3974e4,#396ee4,#3a67e3,#3a62e2,#3a5ee1,#3a5ce1,#3a5ce1,#3a5de1,#3a5fe1,#3a63e2,#3a69e3,#3970e4,#3977e5,#387ee6,#3885e6)"></i><i style="background:linear-gradient(90deg,#387be5,#3881e6,#3885e6,#3887e6,#3887e6,#3887e6,#3885e6,#3882e6,#387ee6,#3978e5,#3972e4,#396ce3,#3a67e3,#3a62e2,#3a5fe1,#3a5de1,#3a5de1,#3a5ee1,#3a60e2,#3a64e2,#396ae3,#3970e4,#3977e5,#387de6,#3883e6)"></i><i style="background:linear-gradient(90deg,#3974e4,#387be5,#387fe6,#3881e6,#3882e6,#3882e6,#3881e6,#387ee6,#387ae5,#3976e5,#3970e4,#396be3,#3a66e2,#3a62e2,#3a5fe2,#3a5ee1,#3a5ee1,#3a5fe1,#3a61e2,#3a65e2,#396ae3,#3970e4,#3976e5,#387de6,#3882e6)"></i><i style="background:linear-gradient(90deg,#396de4,#3974e4,#3879e5,#387be5,#387de6,#387de6,#387ce5,#387ae5,#3977e5,#3973e4,#396ee4,#3a69e3,#3a65e2,#3a61e2,#3a60e2,#3a5fe1,#3a5fe1,#3a60e2,#3a62e2,#3a66e3,#396be3,#3971e4,#3976e5,#387ce5,#3881e6)"></i><i style="background:linear-gradient(90deg,#3a67e3,#396ee4,#3972e4,#3975e5,#3977e5,#3978e5,#3978e5,#3976e5,#3973e4,#3970e4,#396ce3,#3a68e3,#3a64e2,#3a61e2,#3a60e2,#3a5fe1,#3a5fe2,#3a61e2,#3a63e2,#3a67e3,#396ce3,#3971e4,#3976e5,#387ce5,#3881e6)"></i><i style="background:linear-gradient(90deg,#3a61e2,#3a67e3,#396ce3,#3970e4,#3972e4,#3973e4,#3973e4,#3972e4,#3970e4,#396de3,#3a69e3,#3a66e3,#3a63e2,#3a61e2,#3a60e2,#3a5fe2,#3a60e2,#3a61e2,#3a64e2,#3a68e3,#396de3,#3972e4,#3977e5,#387be5,#3880e6)"></i><i style="background:linear-gradient(90deg,#3a5ce1,#3a62e2,#3a67e3,#396be3,#396de3,#396ee4,#396fe4,#396ee4,#396ce3,#396ae3,#3a67e3,#3a64e2,#3a62e2,#3a60e2,#3a60e2,#3a60e2,#3a60e2,#3a62e2,#3a65e2,#3a69e3,#396de4,#3972e4,#3977e5,#387be5,#3880e6)"></i><i style="background:linear-gradient(90deg,#3a58e0,#3a5ee1,#3a62e2,#3a66e2,#3a68e3,#396ae3,#396be3,#396ae3,#3a69e3,#3a67e3,#3a65e2,#3a63e2,#3a61e2,#3a60e2,#3a60e2,#3a60e2,#3a61e2,#3a63e2,#3a66e3,#396ae3,#396ee4,#3973e4,#3977e5,#387be5,#3880e6)"></i><i style="background:linear-gradient(90deg,#3a54df,#3a5ae1,#3a5ee1,#3a61e2,#3a64e2,#3a66e3,#3a67e3,#3a67e3,#3a66e3,#3a65e2,#3a63e2,#3a61e2,#3a60e2,#3a60e2,#3a60e2,#3a60e2,#3a61e2,#3a63e2,#3a67e3,#396be3,#396fe4,#3973e4,#3977e5,#387ce5,#387fe6)"></i><i style="background:linear-gradient(90deg,#3a50df,#3a57e0,#3a5be1,#3a5ee1,#3a61e2,#3a62e2,#3a63e2,#3a64e2,#3a63e2,#3a62e2,#3a61e2,#3a60e2,#3a5fe2,#3a5fe1,#3a5fe2,#3a60e2,#3a62e2,#3a64e2,#3a67e3,#396be3,#396fe4,#3974e4,#3978e5,#387ce5,#387fe6)"></i><i style="background:linear-gradient(90deg,#3a4dde,#3a54df,#3a58e0,#3a5ce1,#3a5ee1,#3a60e2,#3a61e2,#3a61e2,#3a61e2,#3a61e2,#3a60e2,#3a5fe2,#3a5fe1,#3a5fe1,#3a5fe1,#3a60e2,#3a62e2,#3a64e2,#3a68e3,#396ce3,#3970e4,#3974e4,#3978e5,#387ce5,#3880e6)"></i><i style="background:linear-gradient(90deg,#3a4bde,#3a51df,#3a56e0,#3a5ae0,#3a5ce1,#3a5ee1,#3a5fe1,#3a60e2,#3a60e2,#3a5fe2,#3a5fe1,#3a5fe1,#3a5ee1,#3a5ee1,#3a5fe1,#3a60e2,#3a62e2,#3a65e2,#3a68e3,#396ce3,#3970e4,#3975e4,#3879e5,#387ce6,#3880e6)"></i><i style="background:linear-gradient(90deg,#394add,#3a50df,#3a54e0,#3a58e0,#3a5be1,#3a5de1,#3a5ee1,#3a5ee1,#3a5fe1,#3a5ee1,#3a5ee1,#3a5ee1,#3a5ee1,#3a5ee1,#3a5fe1,#3a60e2,#3a62e2,#3a65e2,#3a69e3,#396ce3,#3971e4,#3975e5,#3879e5,#387de6,#3880e6)"></i><i style="background:linear-gradient(90deg,#3949dd,#3a4fde,#3a53df,#3a57e0,#3a5ae0,#3a5ce1,#3a5de1,#3a5ee1,#3a5ee1,#3a5ee1,#3a5ee1,#3a5ee1,#3a5ee1,#3a5ee1,#3a5fe1,#3a60e2,#3a62e2,#3a65e2,#3a69e3,#396de3,#3971e4,#3975e5,#3879e5,#387de6,#3880e6)"></i><i style="background:linear-gradient(90deg,#3949dd,#3a4ede,#3a53df,#3a56e0,#3a59e0,#3a5be1,#3a5ce1,#3a5de1,#3a5ee1,#3a5ee1,#3a5ee1,#3a5de1,#3a5ee1,#3a5ee1,#3a5fe1,#3a60e2,#3a62e2,#3a65e2,#3a69e3,#396de3,#3971e4,#3975e5,#3879e5,#387de6,#3880e6)"></i><i style="background:linear-gradient(90deg,#3949dd,#3a4ede,#3a53df,#3a57e0,#3a59e0,#3a5be1,#3a5de1,#3a5de1,#3a5ee1,#3a5ee1,#3a5ee1,#3a5ee1,#3a5ee1,#3a5ee1,#3a5fe1,#3a60e2,#3a62e2,#3a65e2,#3a69e3,#396de3,#3971e4,#3975e5,#3879e5,#387de6,#3880e6)"></i><i style="background:linear-gradient(90deg,#394add,#3a4fdf,#3a54df,#3a57e0,#3a5ae1,#3a5ce1,#3a5de1,#3a5ee1,#3a5ee1,#3a5ee1,#3a5ee1,#3a5ee1,#3a5ee1,#3a5ee1,#3a5fe1,#3a60e2,#3a62e2,#3a65e2,#3a69e3,#396de3,#3971e4,#3975e5,#3879e5,#387de6,#3880e6)"></i><i style="background:linear-gradient(90deg,#3a4bde,#3a51df,#3a55e0,#3a59e0,#3a5ce1,#3a5de1,#3a5fe1,#3a5fe2,#3a5fe2,#3a5fe2,#3a5fe1,#3a5fe1,#3a5ee1,#3a5fe1,#3a5fe1,#3a60e2,#3a62e2,#3a65e2,#3a68e3,#396ce3,#3971e4,#3975e5,#3879e5,#387de6,#3880e6)"></i><i style="background:linear-gradient(90deg,#3a4dde,#3a53df,#3a57e0,#3a5be1,#3a5de1,#3a5fe1,#3a60e2,#3a61e2,#3a61e2,#3a61e2,#3a60e2,#3a5fe2,#3a5fe1,#3a5fe1,#3a5fe2,#3a60e2,#3a62e2,#3a64e2,#3a68e3,#396ce3,#3970e4,#3974e4,#3879e5,#387de6,#3880e6)"></i><i style="background:linear-gradient(90deg,#3a50df,#3a56e0,#3a5ae1,#3a5de1,#3a60e2,#3a61e2,#3a62e2,#3a63e2,#3a63e2,#3a62e2,#3a61e2,#3a60e2,#3a60e2,#3a5fe2,#3a5fe2,#3a60e2,#3a62e2,#3a64e2,#3a68e3,#396be3,#3970e4,#3974e4,#3978e5,#387ce6,#3880e6)"></i><i style="background:linear-gradient(90deg,#3a53df,#3a59e0,#3a5de1,#3a60e2,#3a62e2,#3a65e2,#3a66e2,#3a66e3,#3a66e2,#3a64e2,#3a63e2,#3a61e2,#3a60e2,#3a60e2,#3a60e2,#3a60e2,#3a61e2,#3a64e2,#3a67e3,#396be3,#396fe4,#3974e4,#3978e5,#387ce6,#3880e6)"></i><i style="background:linear-gradient(90deg,#3a57e0,#3a5ce1,#3a60e2,#3a64e2,#3a67e3,#3a68e3,#3a69e3,#3a69e3,#3a69e3,#3a67e3,#3a65e2,#3a63e2,#3a61e2,#3a60e2,#3a60e2,#3a60e2,#3a61e2,#3a63e2,#3a66e3,#396ae3,#396fe4,#3973e4,#3978e5,#387ce5,#3880e6)"></i><i style="background:linear-gradient(90deg,#3a5be1,#3a60e2,#3a65e2,#3a69e3,#396be3,#396de3,#396de4,#396de3,#396ce3,#396ae3,#3a67e3,#3a64e2,#3a62e2,#3a61e2,#3a60e2,#3a60e2,#3a61e2,#3a62e2,#3a65e2,#3a69e3,#396ee4,#3973e4,#3977e5,#387ce5,#3880e6)"></i><i style="background:linear-gradient(90deg,#3a60e2,#3a66e2,#396ae3,#396ee4,#3970e4,#3971e4,#3972e4,#3971e4,#396fe4,#396de3,#3a69e3,#3a66e3,#3a63e2,#3a61e2,#3a60e2,#3a60e2,#3a60e2,#3a62e2,#3a65e2,#3a68e3,#396de3,#3972e4,#3977e5,#387ce5,#3881e6)"></i><i style="background:linear-gradient(90deg,#3a65e2,#396ce3,#3970e4,#3974e4,#3976e5,#3976e5,#3976e5,#3975e5,#3973e4,#396fe4,#396ce3,#3a68e3,#3a64e2,#3a61e2,#3a60e2,#3a5fe1,#3a5fe2,#3a61e2,#3a63e2,#3a68e3,#396ce3,#3972e4,#3977e5,#387ce6,#3881e6)"></i><i style="background:linear-gradient(90deg,#396ce3,#3973e4,#3977e5,#387ae5,#387be5,#387ce5,#387be5,#3879e5,#3976e5,#3972e4,#396ee4,#3a69e3,#3a65e2,#3a62e2,#3a60e2,#3a5fe1,#3a5fe1,#3a60e2,#3a62e2,#3a67e3,#396ce3,#3971e4,#3977e5,#387de6,#3882e6)"></i><i style="background:linear-gradient(90deg,#3973e4,#3879e5,#387de6,#3880e6,#3881e6,#3881e6,#3880e6,#387de6,#387ae5,#3975e5,#3970e4,#396be3,#3a66e3,#3a62e2,#3a5fe2,#3a5ee1,#3a5ee1,#3a5fe1,#3a61e2,#3a65e2,#396be3,#3971e4,#3977e5,#387de6,#3883e6)"></i><i style="background:linear-gradient(90deg,#387ae5,#3880e6,#3884e6,#3886e6,#3886e6,#3886e6,#3884e6,#3881e6,#387de6,#3978e5,#3972e4,#396ce3,#3a67e3,#3a62e2,#3a5fe1,#3a5de1,#3a5de1,#3a5ee1,#3a60e2,#3a64e2,#396ae3,#3970e4,#3977e5,#387ee6,#3884e6)"></i><i style="background:linear-gradient(90deg,#3882e6,#3887e6,#388ae6,#388be7,#388be7,#388ae7,#3888e6,#3885e6,#3880e6,#387be5,#3974e4,#396ee4,#3a67e3,#3a62e2,#3a5fe1,#3a5ce1,#3a5ce1,#3a5de1,#3a5fe1,#3a63e2,#3a69e3,#3970e4,#3978e5,#387fe6,#3885e6)"></i><i style="background:linear-gradient(90deg,#3888e6,#388de7,#3890e7,#3891e7,#3891e7,#388fe7,#388ce7,#3888e6,#3883e6,#387de6,#3976e5,#396fe4,#3a68e3,#3a62e2,#3a5ee1,#3a5be1,#3a5ae1,#3a5be1,#3a5ee1,#3a62e2,#3a69e3,#3970e4,#3978e5,#3880e6,#3887e6)"></i><i style="background:linear-gradient(90deg,#388ee7,#3894e7,#3897e7,#3897e7,#3896e7,#3894e7,#3890e7,#388be7,#3886e6,#387fe6,#3978e5,#3970e4,#3a68e3,#3a61e2,#3a5de1,#3a5ae1,#3a59e0,#3a5ae1,#3a5de1,#3a61e2,#3a68e3,#3970e4,#3879e5,#3881e6,#3888e6)"></i><i style="background:linear-gradient(90deg,#3895e7,#389ae7,#389de7,#389de7,#389ce7,#3898e7,#3894e7,#388ee7,#3888e6,#3881e6,#3879e5,#3970e4,#3a68e3,#3a61e2,#3a5ce1,#3a59e0,#3a57e0,#3a58e0,#3a5be1,#3a60e2,#3a67e3,#3970e4,#387ae5,#3883e6,#388ae7)"></i><i style="background:linear-gradient(90deg,#389be7,#38a1e8,#38a3e8,#38a3e8,#38a1e8,#389de7,#3898e7,#3891e7,#388ae6,#3882e6,#387ae5,#3971e4,#3a68e3,#3a60e2,#3a5be1,#3a57e0,#3a55e0,#3a56e0,#3a5ae1,#3a5fe1,#3a67e3,#3971e4,#387be5,#3885e6,#388de7)"></i><i style="background:linear-gradient(90deg,#38a1e8,#38a7e8,#38a9e8,#38a9e8,#38a6e8,#38a1e8,#389be7,#3894e7,#388ce7,#3883e6,#387ae5,#3971e4,#3a67e3,#3a5fe1,#3a59e0,#3a55e0,#3a53df,#3a54e0,#3a58e0,#3a5ee1,#3a66e3,#3971e4,#387ce6,#3887e6,#388fe7)"></i><i style="background:linear-gradient(90deg,#38a7e8,#39ade7,#39afe7,#39aee7,#38abe8,#38a5e8,#389ee8,#3896e7,#388de7,#3884e6,#387be5,#3971e4,#3a67e3,#3a5ee1,#3a58e0,#3a53df,#3a51df,#3a52df,#3a57e0,#3a5de1,#3a66e3,#3972e4,#387ee6,#3889e6,#3892e7)"></i><i style="background:linear-gradient(90deg,#39ade7,#39b3e6,#39b5e6,#39b3e6,#39afe7,#38a9e8,#38a1e8,#3898e7,#388fe7,#3885e6,#387be5,#3971e4,#3a66e3,#3a5de1,#3a56e0,#3a51df,#3a4fdf,#3a50df,#3a55e0,#3a5ce1,#3a66e2,#3973e4,#3880e6,#388be7,#3895e7)"></i><i style="background:linear-gradient(90deg,#39b3e6,#3ab9e5,#3abbe5,#3ab9e5,#39b4e6,#39ade7,#38a4e8,#389ae7,#3890e7,#3886e6,#387be5,#3970e4,#3a65e2,#3a5ce1,#3a55e0,#3a4fdf,#3a4cde,#3a4ede,#3a53df,#3a5be1,#3a65e2,#3974e4,#3882e6,#388ee7,#3899e7)"></i><i style="background:linear-gradient(90deg,#3ab9e5,#3bbfe4,#3bc0e4,#3abee4,#3ab8e5,#39b0e7,#38a7e8,#389ce7,#3891e7,#3886e6,#387be5,#3970e4,#3a64e2,#3a5be1,#3a53df,#3a4dde,#3a4add,#3a4cde,#3a51df,#3a5ae1,#3a65e2,#3975e5,#3884e6,#3891e7,#389ce7)"></i><i style="background:linear-gradient(90deg,#3bbfe4,#3bc6e3,#3bc6e3,#3bc3e4,#3abce5,#39b4e6,#38a9e8,#389de7,#3891e7,#3886e6,#387be5,#396fe4,#3a63e2,#3a59e0,#3a51df,#3a4bdd,#3948dd,#394add,#3a4fdf,#3a59e0,#3a65e2,#3976e5,#3886e6,#3894e7,#38a0e8)"></i><i style="background:linear-gradient(90deg,#3bc6e3,#3ccce2,#3ccce2,#3cc8e3,#3bc1e4,#3ab7e6,#38ace7,#389fe8,#3892e7,#3886e6,#387be5,#396fe4,#3a62e2,#3a58e0,#3a4fde,#3949dd,#3946dc,#3948dc,#3a4dde,#3a58e0,#3a65e2,#3978e5,#3889e6,#3898e7,#38a4e8)"></i><i style="background:linear-gradient(90deg,#3ccce2,#3ed0dd,#3ed0dd,#3ccde1,#3bc5e3,#3abae5,#39aee7,#38a0e8,#3893e7,#3887e6,#387be5,#396ee4,#3a61e2,#3a57e0,#3a4dde,#3947dc,#3844db,#3846dc,#3a4cde,#3a57e0,#3a66e3,#387ae5,#388ce7,#389be7,#38a8e8)"></i><i style="background:linear-gradient(90deg,#3fd1dc,#41d4d7,#41d3d8,#3ed0dd,#3cc9e3,#3abde5,#39b0e7,#38a2e8,#3893e7,#3887e6,#387ae5,#396ee4,#3a60e2,#3a55e0,#3a4bde,#3844db,#3741da,#3843db,#3a4add,#3a56e0,#3a66e3,#387ce5,#388fe7,#389fe8,#38ace7)"></i><i style="background:linear-gradient(90deg,#42d5d6,#44d8d1,#43d7d3,#40d3d9,#3ccce2,#3bc0e4,#39b2e6,#38a3e8,#3894e7,#3887e6,#387ae5,#396de3,#3a60e2,#3a54df,#3949dd,#3842da,#373fd9,#3741da,#3949dd,#3a55e0,#3a67e3,#387ee6,#3892e7,#38a3e8,#39b0e7)"></i><i style="background:linear-gradient(90deg,#45dacf,#47ddcb,#45dbce,#42d6d5,#3ecfde,#3bc3e4,#39b3e6,#38a4e8,#3894e7,#3887e6,#387ae5,#396de3,#3a5fe1,#3a53df,#3948dc,#3740d9,#363cd8,#373ed9,#3947dc,#3a55e0,#3a68e3,#3880e6,#3895e7,#38a8e8,#39b4e6)"></i><i style="background:linear-gradient(90deg,#48dfc7,#49e1c5,#48dec9,#44d9d1,#3fd1db,#3bc5e3,#39b5e6,#38a5e8,#3895e7,#3887e6,#387ae5,#396ce3,#3a5ee1,#3a51df,#3846dc,#363dd8,#3438d5,#363bd7,#3845db,#3a54df,#3a69e3,#3883e6,#3899e7,#38ace7,#3ab8e5)"></i><i style="background:linear-gradient(90deg,#4fe3be,#50e3bc,#4ae2c3,#46dccc,#41d3d8,#3cc8e3,#3ab7e6,#38a6e8,#3895e7,#3887e6,#387ae5,#396ce3,#3a5ee1,#3a50df,#3844db,#353ad6,#3235d2,#3438d5,#3843db,#3a54df,#396ae3,#3885e6,#389de7,#39b0e7,#3abde5)"></i><i style="background:linear-gradient(90deg,#59e5b1,#58e4b2,#51e3bb,#48dfc8,#42d6d5,#3ccae2,#3ab8e5,#38a7e8,#3895e7,#3887e6,#387ae5,#396ce3,#3a5de1,#3a4fdf,#3843da,#3337d4,#3031ce,#3235d2,#3742da,#3a53df,#396ce3,#3888e6,#38a1e8,#39b5e6,#3bc2e4)"></i><i style="background:linear-gradient(90deg,#63e6a3,#60e6a7,#57e4b3,#4ae2c4,#43d8d2,#3ccde1,#3abae5,#38a8e8,#3896e7,#3887e6,#387ae5,#396ce3,#3a5de1,#3a4ede,#3741da,#3234d1,#2d2dc9,#3031ce,#3740d9,#3a53df,#396de4,#388ce7,#38a6e8,#3abae5,#3bc7e3)"></i><i style="background:linear-gradient(90deg,#6fe894,#69e89c,#5ee5ab,#4fe3be,#45dacf,#3dcedf,#3abce5,#38a9e8,#3897e7,#3888e6,#387be5,#396ce3,#3a5de1,#3a4ede,#3740d9,#3031cf,#2a2ac0,#2d2dc9,#363ed9,#3a53df,#396fe4,#388fe7,#38abe8,#3bc0e4,#3ccce2)"></i><i style="background:linear-gradient(90deg,#7ee882,#74e88e,#64e7a2,#53e4b8,#46dccc,#3ecfdd,#3abde4,#38aae8,#3897e7,#3888e6,#387be5,#396de3,#3a5de1,#3a4dde,#373ed9,#2e2ecc,#2626b6,#2a2ac2,#363cd8,#3a53df,#3972e4,#3893e7,#39afe7,#3bc5e3,#3ecfdd)"></i><i style="background:linear-gradient(90deg,#8ee86f,#80e880,#6ce898,#58e5b1,#48dec9,#3fd1db,#3bbfe4,#38abe8,#3898e7,#3889e6,#387ce5,#396ee4,#3a5ee1,#3a4dde,#363dd8,#2c2cc7,#2222a7,#2727b9,#353bd7,#3a53df,#3974e4,#3897e7,#39b4e6,#3ccbe2,#41d3d8)"></i><i style="background:linear-gradient(90deg,#9fe859,#8ce870,#74e88e,#5ee5ab,#49e0c6,#40d2da,#3bc0e4,#38ace7,#3899e7,#388ae7,#387de6,#396fe4,#3a5ee1,#3a4dde,#363cd8,#2b2bc3,#1e1e96,#2424b1,#3539d6,#3a54df,#3977e5,#389be7,#3abae5,#3ed0dd,#43d7d3)"></i><i style="background:linear-gradient(90deg,#b3e545,#9ae860,#7de882,#63e6a4,#4be2c3,#41d4d8,#3bc1e4,#39ade7,#389ae7,#388be7,#387fe6,#3970e4,#3a5fe1,#3a4dde,#363cd8,#2a2ac0,#1c1c8c,#2323a9,#3439d5,#3a55e0,#387ae5,#389fe8,#3bbfe4,#41d4d7,#46dccd)"></i><i style="background:linear-gradient(90deg,#cae22e,#a9e74f,#87e876,#68e79d,#4ee3bf,#42d5d6,#3bc3e4,#39aee7,#389be7,#388de7,#3880e6,#3972e4,#3a60e2,#3a4ede,#363cd8,#2929bf,#1c1c8c,#2222a6,#3439d5,#3a56e0,#387ee6,#38a4e8,#3bc5e3,#44d9d1,#49e0c6)"></i><i style="background:linear-gradient(90deg,#ddd919,#bae43e,#92e86a,#6ee895,#52e3ba,#43d6d4,#3bc5e3,#39afe7,#389de7,#388ee7,#3882e6,#3974e4,#3a62e2,#3a4fdf,#363cd8,#2a2ac0,#1c1c8c,#2222a9,#353ad6,#3a58e0,#3881e6,#38a9e8,#3ccbe2,#47deca,#50e3bd)"></i><i style="background:linear-gradient(90deg,#ecc505,#cde22b,#9de85c,#75e88d,#55e4b6,#43d8d2,#3bc6e3,#39b1e7,#389fe8,#3890e7,#3885e6,#3977e5,#3a64e2,#3a50df,#363dd9,#2b2bc3,#1e1e93,#2424b1,#363bd7,#3a5ae1,#3885e6,#39ade7,#3ecfde,#4ce2c2,#59e5b1)"></i><i style="background:linear-gradient(90deg,#f0ab00,#ddda1a,#a9e74f,#7ce885,#59e5b1,#44d9d0,#3cc8e3,#39b2e6,#38a1e8,#3893e7,#3887e6,#387ae5,#3a67e3,#3a52df,#373fd9,#2c2cc7,#2121a4,#2727b9,#363dd9,#3a5de1,#3889e6,#39b1e6,#41d3d8,#54e4b7,#62e6a4)"></i><i style="background:linear-gradient(90deg,#ef8d01,#e8ca0a,#b7e541,#83e87b,#5ce5ac,#45dbce,#3cc9e2,#39b4e6,#38a3e8,#3895e7,#388ae7,#387ee6,#396be3,#3a55e0,#3741da,#2e2ecb,#2525b3,#2a2ac2,#3740da,#3a60e2,#388de7,#3ab6e6,#43d7d3,#5de5ab,#6de896)"></i><i style="background:linear-gradient(90deg,#ec6e0a,#f0b700,#c5e333,#8be872,#60e6a7,#46dccc,#3ccbe2,#3ab6e6,#38a6e8,#3899e7,#388ee7,#3881e6,#396fe4,#3a57e0,#3843db,#3031cf,#2929be,#2d2dca,#3843db,#3a63e2,#3891e7,#3abae5,#45dace,#66e7a0,#7ae887)"></i><i style="background:linear-gradient(90deg,#e9550f,#f0a000,#d3e125,#93e868,#64e7a3,#47ddca,#3ccde1,#3ab8e5,#38a8e8,#389ce7,#3891e7,#3885e6,#3973e4,#3a5ae1,#3845db,#3235d2,#2c2cc7,#3032cf,#3946dc,#3a68e3,#3895e7,#3bbfe4,#47deca,#6ee896,#86e878)"></i><i style="background:linear-gradient(90deg,#e34110,#ef8903,#ded818,#9be85e,#68e79e,#48dfc8,#3dcee0,#3abae5,#38abe7,#38a0e8,#3896e7,#388ae6,#3978e5,#3a5ee1,#3948dc,#3438d5,#2f30cd,#3336d3,#394add,#396de3,#3899e7,#3bc3e4,#49e0c6,#75e88d,#8fe86d)"></i><i style="background:linear-gradient(90deg,#df3510,#ec7309,#e6cd0d,#a3e855,#6be899,#49e0c7,#3ecfde,#3abce5,#39aee7,#38a4e8,#389ae7,#388fe7,#387de6,#3a62e2,#3a4bde,#363bd7,#3234d1,#353bd7,#3a4dde,#3972e4,#389ee7,#3bc7e3,#4be2c3,#79e888,#93e868)"></i></div>
<div class="hm" style="left:523px;top:16px"><i style="background:linear-gradient(90deg,#55e4b6,#41d5d6,#3bc2e4,#39b5e6,#39ade7,#38a5e8,#389ee7,#3898e7,#3893e7,#388fe7,#388de7,#388ce7,#388be7,#388ce7,#388de7,#388fe7,#3893e7,#3897e7,#389de7,#38a4e8,#39ade7,#3ab8e5,#3ccae2,#49e0c6,#77e88b)"></i><i style="background:linear-gradient(90deg,#4ee3bf,#40d2d9,#3abee4,#39b1e7,#38a7e8,#389fe8,#3898e7,#3892e7,#388ee7,#388ae7,#3888e6,#3887e6,#3887e6,#3888e6,#3889e6,#388be7,#388ee7,#3892e7,#3897e7,#389ee8,#38a7e8,#39b3e6,#3bc6e3,#47ddcb,#6be899)"></i><i style="background:linear-gradient(90deg,#47dec9,#3ecfde,#3abae5,#38ace7,#38a2e8,#3899e7,#3893e7,#388de7,#3889e6,#3886e6,#3884e6,#3883e6,#3883e6,#3884e6,#3885e6,#3886e6,#3889e6,#388de7,#3892e7,#3898e7,#38a2e8,#39aee7,#3bc1e4,#44d8d1,#5ce5ac)"></i><i style="background:linear-gradient(90deg,#43d8d2,#3ccbe2,#39b5e6,#38a7e8,#389ce7,#3894e7,#388de7,#3888e6,#3884e6,#3882e6,#3880e6,#387fe6,#387fe6,#3880e6,#3881e6,#3882e6,#3884e6,#3888e6,#388ce7,#3893e7,#389ce7,#38aae8,#3abce5,#41d3d8,#4ee3bf)"></i><i style="background:linear-gradient(90deg,#40d2da,#3bc5e3,#39b1e7,#38a2e8,#3897e7,#388fe7,#3888e6,#3883e6,#3880e6,#387de6,#387ce5,#387be5,#387be5,#387be5,#387ce5,#387ee6,#3880e6,#3883e6,#3888e6,#388ee7,#3897e7,#38a4e8,#3ab6e6,#3dcedf,#47ddcb)"></i><i style="background:linear-gradient(90deg,#3dcee0,#3bbfe4,#38ace7,#389de7,#3892e7,#388ae6,#3883e6,#387fe6,#387be5,#3879e5,#3978e5,#3977e5,#3977e5,#3977e5,#3978e5,#3879e5,#387be5,#387ee6,#3883e6,#3889e6,#3892e7,#389fe8,#39b1e6,#3cc8e3,#43d6d4)"></i><i style="background:linear-gradient(90deg,#3cc8e3,#3ab9e5,#38a8e8,#3899e7,#388de7,#3885e6,#387fe6,#387ae5,#3977e5,#3975e4,#3974e4,#3973e4,#3973e4,#3973e4,#3974e4,#3975e5,#3977e5,#387ae5,#387ee6,#3885e6,#388ee7,#389ae7,#38ace7,#3bc1e4,#3fd1db)"></i><i style="background:linear-gradient(90deg,#3bc3e3,#39b4e6,#38a3e8,#3894e7,#3889e6,#3880e6,#387ae5,#3975e5,#3972e4,#3971e4,#3970e4,#3970e4,#3970e4,#3970e4,#3970e4,#3971e4,#3972e4,#3975e5,#3879e5,#3880e6,#3889e6,#3895e7,#38a7e8,#3abae5,#3ccce1)"></i><i style="background:linear-gradient(90deg,#3bbfe4,#39afe7,#389ee8,#3890e7,#3884e6,#387ce5,#3975e5,#3971e4,#396ee4,#396de3,#396ce3,#396ce3,#396ce3,#396ce3,#396ce3,#396de3,#396ee4,#3971e4,#3975e5,#387be5,#3885e6,#3891e7,#38a1e8,#39b4e6,#3bc6e3)"></i><i style="background:linear-gradient(90deg,#3abbe5,#38abe8,#389ae7,#388be7,#3880e6,#3977e5,#3971e4,#396de3,#396ae3,#3a69e3,#3a69e3,#3a69e3,#3a69e3,#3a69e3,#3a69e3,#3a69e3,#396ae3,#396de3,#3971e4,#3977e5,#3880e6,#388ce7,#389ce7,#39afe7,#3bc1e4)"></i><i style="background:linear-gradient(90deg,#3ab8e5,#38a7e8,#3896e7,#3887e6,#387ce5,#3973e4,#396de3,#3a69e3,#3a67e3,#3a65e2,#3a65e2,#3a65e2,#3a65e2,#3a65e2,#3a65e2,#3a66e2,#3a67e3,#3a69e3,#396de3,#3973e4,#387ce5,#3888e6,#3898e7,#38aae8,#3abce5)"></i><i style="background:linear-gradient(90deg,#39b4e6,#38a3e8,#3892e7,#3883e6,#3978e5,#396fe4,#3a69e3,#3a65e2,#3a63e2,#3a62e2,#3a62e2,#3a62e2,#3a62e2,#3a62e2,#3a62e2,#3a62e2,#3a63e2,#3a65e2,#3a69e3,#396fe4,#3978e5,#3884e6,#3893e7,#38a5e8,#3ab8e5)"></i><i style="background:linear-gradient(90deg,#39b1e6,#389fe8,#388ee7,#3880e6,#3974e4,#396be3,#3a65e2,#3a62e2,#3a60e2,#3a60e2,#3a60e2,#3a60e2,#3a60e2,#3a60e2,#3a60e2,#3a60e2,#3a60e2,#3a62e2,#3a65e2,#396be3,#3974e4,#3880e6,#388fe7,#38a1e8,#39b3e6)"></i><i style="background:linear-gradient(90deg,#39aee7,#389be7,#388ae7,#387ce5,#3970e4,#3a67e3,#3a62e2,#3a5fe2,#3a5ee1,#3a5ee1,#3a5de1,#3a5ee1,#3a5ee1,#3a5ee1,#3a5ee1,#3a5ee1,#3a5ee1,#3a5fe2,#3a62e2,#3a67e3,#3970e4,#387ce5,#388be7,#389ce7,#39b0e7)"></i><i style="background:linear-gradient(90deg,#38ace7,#3898e7,#3887e6,#3978e5,#396ce3,#3a64e2,#3a5fe2,#3a5de1,#3a5ce1,#3a5be1,#3a5be1,#3a5ce1,#3a5ce1,#3a5ce1,#3a5be1,#3a5be1,#3a5ce1,#3a5de1,#3a5fe2,#3a64e2,#396ce3,#3978e5,#3887e6,#3899e7,#38ace7)"></i><i style="background:linear-gradient(90deg,#38a9e8,#3895e7,#3883e6,#3975e4,#3a69e3,#3a61e2,#3a5de1,#3a5be1,#3a5ae1,#3a59e0,#3a59e0,#3a5ae0,#3a5ae1,#3a5ae0,#3a5ae0,#3a59e0,#3a5ae1,#3a5be1,#3a5de1,#3a61e2,#3a69e3,#3975e4,#3884e6,#3895e7,#38a9e8)"></i><i style="background:linear-gradient(90deg,#38a6e8,#3891e7,#3880e6,#3971e4,#3a66e3,#3a5fe1,#3a5be1,#3a59e0,#3a58e0,#3a58e0,#3a58e0,#3a58e0,#3a58e0,#3a58e0,#3a58e0,#3a58e0,#3a58e0,#3a59e0,#3a5be1,#3a5fe1,#3a66e3,#3971e4,#3881e6,#3891e7,#38a6e8)"></i><i style="background:linear-gradient(90deg,#38a3e8,#388fe7,#387de6,#396ee4,#3a63e2,#3a5de1,#3a59e0,#3a57e0,#3a56e0,#3a56e0,#3a56e0,#3a56e0,#3a56e0,#3a56e0,#3a56e0,#3a56e0,#3a56e0,#3a57e0,#3a59e0,#3a5de1,#3a63e2,#396ee4,#387de6,#388ee7,#38a3e8)"></i><i style="background:linear-gradient(90deg,#38a1e8,#388ce7,#387ae5,#396be3,#3a61e2,#3a5be1,#3a57e0,#3a55e0,#3a54e0,#3a54df,#3a54e0,#3a54e0,#3a55e0,#3a54e0,#3a54e0,#3a54df,#3a54e0,#3a55e0,#3a57e0,#3a5be1,#3a61e2,#396be3,#387ae5,#388be7,#38a0e8)"></i><i style="background:linear-gradient(90deg,#389ee7,#3889e6,#3977e5,#3a69e3,#3a5fe1,#3a59e0,#3a56e0,#3a54df,#3a53df,#3a53df,#3a53df,#3a53df,#3a53df,#3a53df,#3a53df,#3a53df,#3a53df,#3a54df,#3a56e0,#3a59e0,#3a5fe1,#3a69e3,#3977e5,#3888e6,#389de7)"></i><i style="background:linear-gradient(90deg,#389be7,#3887e6,#3975e4,#3a66e3,#3a5de1,#3a58e0,#3a54e0,#3a52df,#3a51df,#3a51df,#3a51df,#3a52df,#3a52df,#3a52df,#3a51df,#3a51df,#3a51df,#3a52df,#3a54e0,#3a58e0,#3a5de1,#3a66e3,#3974e4,#3886e6,#389ae7)"></i><i style="background:linear-gradient(90deg,#3899e7,#3884e6,#3972e4,#3a64e2,#3a5ce1,#3a56e0,#3a53df,#3a51df,#3a50df,#3a50df,#3a50df,#3a50df,#3a50df,#3a50df,#3a50df,#3a50df,#3a50df,#3a51df,#3a53df,#3a56e0,#3a5ce1,#3a64e2,#3972e4,#3883e6,#3897e7)"></i><i style="background:linear-gradient(90deg,#3896e7,#3882e6,#3970e4,#3a62e2,#3a5ae1,#3a55e0,#3a52df,#3a50df,#3a4fdf,#3a4fde,#3a4fde,#3a4fdf,#3a4fdf,#3a4fdf,#3a4fde,#3a4fde,#3a4fdf,#3a50df,#3a52df,#3a55e0,#3a5ae1,#3a62e2,#396fe4,#3881e6,#3895e7)"></i><i style="background:linear-gradient(90deg,#3894e7,#3880e6,#396de4,#3a60e2,#3a59e0,#3a54df,#3a50df,#3a4fde,#3a4ede,#3a4dde,#3a4ede,#3a4ede,#3a4ede,#3a4ede,#3a4ede,#3a4dde,#3a4ede,#3a4fde,#3a50df,#3a54df,#3a59e0,#3a60e2,#396de3,#387fe6,#3893e7)"></i><i style="background:linear-gradient(90deg,#3892e7,#387de6,#396be3,#3a5fe1,#3a57e0,#3a52df,#3a4fdf,#3a4dde,#3a4dde,#3a4cde,#3a4cde,#3a4dde,#3a4dde,#3a4dde,#3a4cde,#3a4cde,#3a4dde,#3a4dde,#3a4fdf,#3a52df,#3a57e0,#3a5fe1,#396be3,#387ce6,#3891e7)"></i><i style="background:linear-gradient(90deg,#3890e7,#387be5,#3a69e3,#3a5de1,#3a56e0,#3a51df,#3a4ede,#3a4cde,#3a4cde,#3a4cde,#3a4cde,#3a4cde,#3a4cde,#3a4cde,#3a4cde,#3a4cde,#3a4cde,#3a4cde,#3a4ede,#3a51df,#3a56e0,#3a5de1,#3a69e3,#387ae5,#388fe7)"></i><i style="background:linear-gradient(90deg,#388ee7,#3879e5,#3a67e3,#3a5ce1,#3a55e0,#3a50df,#3a4dde,#3a4cde,#3a4bde,#3a4bde,#3a4bde,#3a4bde,#3a4bde,#3a4bde,#3a4bde,#3a4bde,#3a4bde,#3a4cde,#3a4dde,#3a50df,#3a55e0,#3a5ce1,#3a67e3,#3978e5,#388de7)"></i><i style="background:linear-gradient(90deg,#388ce7,#3977e5,#3a66e2,#3a5be1,#3a54df,#3a4fdf,#3a4cde,#3a4bde,#3a4bdd,#3a4add,#3a4add,#3a4bdd,#3a4bdd,#3a4bdd,#3a4add,#3a4add,#3a4bdd,#3a4bde,#3a4cde,#3a4fdf,#3a54df,#3a5be1,#3a65e2,#3976e5,#388be7)"></i><i style="background:linear-gradient(90deg,#388ae6,#3975e5,#3a64e2,#3a5ae1,#3a53df,#3a4ede,#3a4cde,#3a4bdd,#3a4add,#394add,#394add,#3a4add,#3a4add,#394add,#394add,#394add,#3a4add,#3a4bdd,#3a4cde,#3a4ede,#3a53df,#3a5ae1,#3a64e2,#3975e5,#3889e6)"></i><i style="background:linear-gradient(90deg,#3888e6,#3973e4,#3a62e2,#3a59e0,#3a52df,#3a4ede,#3a4bde,#3a4add,#394add,#3949dd,#3949dd,#394add,#394add,#394add,#3949dd,#3949dd,#394add,#3a4add,#3a4bde,#3a4ede,#3a52df,#3a59e0,#3a62e2,#3973e4,#3888e6)"></i><i style="background:linear-gradient(90deg,#3887e6,#3972e4,#3a61e2,#3a58e0,#3a51df,#3a4dde,#3a4bde,#394add,#3949dd,#3949dd,#3949dd,#3949dd,#3949dd,#3949dd,#3949dd,#3949dd,#3949dd,#394add,#3a4bde,#3a4dde,#3a51df,#3a58e0,#3a61e2,#3972e4,#3887e6)"></i><i style="background:linear-gradient(90deg,#3886e6,#3971e4,#3a60e2,#3a57e0,#3a51df,#3a4cde,#3a4add,#3949dd,#3949dd,#3949dd,#3949dd,#3949dd,#3949dd,#3949dd,#3949dd,#3949dd,#3949dd,#3949dd,#3a4add,#3a4cde,#3a51df,#3a57e0,#3a60e2,#3970e4,#3886e6)"></i><i style="background:linear-gradient(90deg,#3884e6,#396fe4,#3a5fe2,#3a56e0,#3a50df,#3a4cde,#394add,#3949dd,#3949dd,#3948dd,#3948dd,#3949dd,#3949dd,#3949dd,#3948dd,#3948dd,#3949dd,#3949dd,#394add,#3a4cde,#3a50df,#3a56e0,#3a5fe2,#396fe4,#3885e6)"></i><i style="background:linear-gradient(90deg,#3884e6,#396ee4,#3a5fe1,#3a55e0,#3a4fdf,#3a4bde,#3949dd,#3949dd,#3948dd,#3948dd,#3948dd,#3948dd,#3948dd,#3948dd,#3948dd,#3948dd,#3948dd,#3949dd,#3949dd,#3a4bde,#3a4fdf,#3a55e0,#3a5fe1,#396ee4,#3884e6)"></i><i style="background:linear-gradient(90deg,#3883e6,#396de3,#3a5ee1,#3a55e0,#3a4ede,#3a4bde,#3949dd,#3948dd,#3948dd,#3948dd,#3948dd,#3948dd,#3948dd,#3948dd,#3948dd,#3948dd,#3948dd,#3948dd,#3949dd,#3a4bde,#3a4ede,#3a55e0,#3a5ee1,#396de4,#3883e6)"></i><i style="background:linear-gradient(90deg,#3882e6,#396ce3,#3a5de1,#3a54df,#3a4ede,#3a4add,#3949dd,#3948dd,#3948dc,#3948dc,#3948dc,#3948dd,#3948dd,#3948dd,#3948dc,#3948dc,#3948dc,#3948dd,#3949dd,#3a4add,#3a4ede,#3a54df,#3a5de1,#396ce3,#3882e6)"></i><i style="background:linear-gradient(90deg,#3882e6,#396be3,#3a5ce1,#3a53df,#3a4dde,#394add,#3948dd,#3948dc,#3948dc,#3948dc,#3948dc,#3948dc,#3948dd,#3948dc,#3948dc,#3948dc,#3948dc,#3948dc,#3948dd,#394add,#3a4dde,#3a53df,#3a5ce1,#396ce3,#3882e6)"></i><i style="background:linear-gradient(90deg,#3881e6,#396be3,#3a5ce1,#3a53df,#3a4cde,#394add,#3948dd,#3948dc,#3948dc,#3948dc,#3948dc,#3948dc,#3948dc,#3948dc,#3948dc,#3948dc,#3948dc,#3948dc,#3948dd,#394add,#3a4cde,#3a53df,#3a5ce1,#396be3,#3882e6)"></i><i style="background:linear-gradient(90deg,#3881e6,#396ae3,#3a5be1,#3a52df,#3a4cde,#3949dd,#3948dc,#3947dc,#3947dc,#3948dc,#3948dc,#3948dc,#3948dc,#3948dc,#3948dc,#3948dc,#3947dc,#3947dc,#3948dc,#3949dd,#3a4cde,#3a52df,#3a5be1,#396ae3,#3881e6)"></i><i style="background:linear-gradient(90deg,#3881e6,#3a69e3,#3a5ae1,#3a51df,#3a4bde,#3949dd,#3947dc,#3947dc,#3947dc,#3947dc,#3948dc,#3948dc,#3948dd,#3948dc,#3948dc,#3947dc,#3947dc,#3947dc,#3947dc,#3949dd,#3a4bde,#3a51df,#3a5ae1,#3a69e3,#3881e6)"></i><i style="background:linear-gradient(90deg,#3881e6,#3a69e3,#3a5ae0,#3a50df,#3a4bde,#3948dd,#3947dc,#3947dc,#3947dc,#3947dc,#3948dc,#3948dc,#3948dd,#3948dc,#3948dc,#3947dc,#3947dc,#3947dc,#3947dc,#3948dd,#3a4bde,#3a50df,#3a5ae0,#3a69e3,#3881e6)"></i><i style="background:linear-gradient(90deg,#3880e6,#3a68e3,#3a59e0,#3a50df,#3a4add,#3948dc,#3947dc,#3947dc,#3947dc,#3947dc,#3948dc,#3948dd,#3948dd,#3948dd,#3948dc,#3947dc,#3947dc,#3947dc,#3947dc,#3948dc,#3a4add,#3a50df,#3a59e0,#3a68e3,#3881e6)"></i><i style="background:linear-gradient(90deg,#3880e6,#3a67e3,#3a58e0,#3a4fde,#394add,#3947dc,#3946dc,#3946dc,#3947dc,#3947dc,#3948dc,#3948dd,#3948dd,#3948dd,#3948dc,#3947dc,#3947dc,#3946dc,#3946dc,#3947dc,#394add,#3a4fde,#3a58e0,#3a67e3,#3881e6)"></i><i style="background:linear-gradient(90deg,#3880e6,#3a67e3,#3a57e0,#3a4ede,#3949dd,#3947dc,#3846dc,#3846dc,#3947dc,#3947dc,#3948dc,#3948dd,#3948dd,#3948dd,#3948dc,#3947dc,#3947dc,#3846dc,#3846dc,#3947dc,#3949dd,#3a4ede,#3a57e0,#3a67e3,#3881e6)"></i><i style="background:linear-gradient(90deg,#3880e6,#3a66e2,#3a57e0,#3a4dde,#3948dd,#3846dc,#3845db,#3846dc,#3946dc,#3947dc,#3948dc,#3948dd,#3948dd,#3948dd,#3948dc,#3947dc,#3946dc,#3846dc,#3845db,#3846dc,#3948dd,#3a4dde,#3a57e0,#3a66e3,#3880e6)"></i><i style="background:linear-gradient(90deg,#3880e6,#3a65e2,#3a56e0,#3a4cde,#3947dc,#3845db,#3845db,#3845db,#3946dc,#3947dc,#3948dc,#3948dd,#3949dd,#3948dd,#3948dc,#3947dc,#3946dc,#3845db,#3845db,#3845db,#3947dc,#3a4cde,#3a56e0,#3a65e2,#3880e6)"></i><i style="background:linear-gradient(90deg,#3880e6,#3a64e2,#3a55e0,#3a4bde,#3947dc,#3844db,#3844db,#3845db,#3846dc,#3947dc,#3948dc,#3948dd,#3949dd,#3948dd,#3948dc,#3947dc,#3846dc,#3845db,#3844db,#3844db,#3947dc,#3a4bde,#3a55e0,#3a64e2,#3880e6)"></i><i style="background:linear-gradient(90deg,#3880e6,#3a63e2,#3a53df,#394add,#3846dc,#3844db,#3843db,#3844db,#3846dc,#3947dc,#3948dc,#3949dd,#3949dd,#3949dd,#3948dc,#3947dc,#3846dc,#3844db,#3843db,#3844db,#3846dc,#394add,#3a53df,#3a63e2,#3880e6)"></i><i style="background:linear-gradient(90deg,#3880e6,#3a62e2,#3a52df,#3949dd,#3845db,#3843db,#3843da,#3844db,#3845db,#3947dc,#3948dc,#3949dd,#3949dd,#3949dd,#3948dc,#3947dc,#3845db,#3844db,#3843da,#3843db,#3845db,#3949dd,#3a52df,#3a62e2,#3880e6)"></i><i style="background:linear-gradient(90deg,#3880e6,#3a61e2,#3a51df,#3948dc,#3844db,#3742da,#3742da,#3843db,#3845db,#3947dc,#3948dc,#3949dd,#3949dd,#3949dd,#3948dc,#3947dc,#3845db,#3843db,#3742da,#3742da,#3844db,#3948dc,#3a51df,#3a61e2,#387fe6)"></i><i style="background:linear-gradient(90deg,#387fe6,#3a60e2,#3a50df,#3947dc,#3842da,#3741da,#3741da,#3843da,#3844db,#3946dc,#3948dc,#3949dd,#3949dd,#3949dd,#3948dc,#3946dc,#3844db,#3843da,#3741da,#3741da,#3842da,#3947dc,#3a50df,#3a60e2,#387fe6)"></i><i style="background:linear-gradient(90deg,#387fe6,#3a5fe2,#3a4ede,#3846dc,#3741da,#3740d9,#3740da,#3742da,#3844db,#3946dc,#3948dc,#3949dd,#3949dd,#3949dd,#3948dc,#3946dc,#3844db,#3742da,#3740da,#3740d9,#3741da,#3846dc,#3a4ede,#3a5fe1,#387fe6)"></i><i style="background:linear-gradient(90deg,#387fe6,#3a5ee1,#3a4dde,#3845db,#3740da,#373fd9,#373fd9,#3741da,#3844db,#3846dc,#3948dc,#3949dd,#3949dd,#3949dd,#3948dc,#3846dc,#3844db,#3741da,#373fd9,#373fd9,#3740da,#3845db,#3a4dde,#3a5ee1,#387ee6)"></i><i style="background:linear-gradient(90deg,#387ee6,#3a5de1,#3a4cde,#3844db,#373fd9,#363ed9,#373fd9,#3741da,#3843db,#3846dc,#3948dc,#3949dd,#394add,#3949dd,#3948dc,#3846dc,#3843db,#3741da,#373fd9,#363ed9,#373fd9,#3844db,#3a4cde,#3a5de1,#387ee6)"></i><i style="background:linear-gradient(90deg,#387ee6,#3a5de1,#3a4bde,#3843da,#373ed9,#363dd8,#363ed9,#3740da,#3843db,#3846dc,#3948dc,#3949dd,#394add,#3949dd,#3948dc,#3846dc,#3843db,#3740da,#363ed9,#363dd8,#373ed9,#3843da,#3a4bde,#3a5de1,#387ee6)"></i><i style="background:linear-gradient(90deg,#387ee6,#3a5ce1,#3a4add,#3742da,#363dd9,#363cd8,#363dd8,#3740d9,#3843db,#3846dc,#3948dd,#394add,#3a4add,#394add,#3948dd,#3846dc,#3843db,#3740d9,#363dd8,#363cd8,#363dd9,#3742da,#3a4add,#3a5ce1,#387de6)"></i><i style="background:linear-gradient(90deg,#387ee6,#3a5be1,#3949dd,#3741da,#363dd8,#363cd8,#363dd8,#3740d9,#3843db,#3846dc,#3948dd,#394add,#3a4add,#394add,#3948dd,#3846dc,#3843db,#3740d9,#363dd8,#363cd8,#363dd8,#3741da,#3949dd,#3a5be1,#387de6)"></i><i style="background:linear-gradient(90deg,#387ee6,#3a5be1,#3949dd,#3740da,#363cd8,#353bd7,#363cd8,#373fd9,#3843db,#3846dc,#3949dd,#3a4add,#3a4bde,#3a4add,#3949dd,#3846dc,#3843db,#373fd9,#363cd8,#353bd7,#363cd8,#3740da,#3949dd,#3a5be1,#387de6)"></i><i style="background:linear-gradient(90deg,#387ee6,#3a5ae1,#3948dd,#3740d9,#363bd8,#353bd7,#363cd8,#373fd9,#3843db,#3946dc,#3949dd,#3a4bde,#3a4bde,#3a4bde,#3949dd,#3946dc,#3843db,#373fd9,#363cd8,#353bd7,#363bd8,#3740d9,#3948dd,#3a5ae1,#387de6)"></i><i style="background:linear-gradient(90deg,#387ee6,#3a5ae1,#3948dd,#373fd9,#363bd7,#353bd7,#363cd8,#373fd9,#3843db,#3947dc,#3949dd,#3a4bde,#3a4cde,#3a4bde,#3949dd,#3947dc,#3843db,#373fd9,#363cd8,#353bd7,#363bd7,#373fd9,#3948dd,#3a5ae1,#387ee6)"></i><i style="background:linear-gradient(90deg,#387ee6,#3a5ae1,#3948dc,#373fd9,#353bd7,#353bd7,#363cd8,#3740d9,#3844db,#3947dc,#394add,#3a4cde,#3a4dde,#3a4cde,#394add,#3947dc,#3844db,#3740d9,#363cd8,#353bd7,#353bd7,#373fd9,#3948dc,#3a5ae1,#387ee6)"></i><i style="background:linear-gradient(90deg,#387fe6,#3a5ae1,#3948dd,#373fd9,#363bd7,#353bd7,#363cd8,#3740da,#3844db,#3948dc,#3a4bde,#3a4dde,#3a4ede,#3a4dde,#3a4bde,#3948dc,#3844db,#3740da,#363cd8,#353bd7,#363bd7,#373fd9,#3948dc,#3a5ae1,#387ee6)"></i><i style="background:linear-gradient(90deg,#387fe6,#3a5be1,#3948dd,#3740d9,#363cd8,#353bd7,#363dd8,#3741da,#3845db,#3949dd,#3a4cde,#3a4ede,#3a4fdf,#3a4ede,#3a4cde,#3949dd,#3845db,#3741da,#363dd8,#353bd7,#363cd8,#3740d9,#3948dd,#3a5be1,#387fe6)"></i><i style="background:linear-gradient(90deg,#3880e6,#3a5be1,#3949dd,#3740da,#363cd8,#363cd8,#363ed9,#3742da,#3846dc,#394add,#3a4dde,#3a50df,#3a51df,#3a50df,#3a4dde,#394add,#3846dc,#3742da,#363ed9,#363cd8,#363cd8,#3740da,#3949dd,#3a5be1,#3880e6)"></i><i style="background:linear-gradient(90deg,#3881e6,#3a5ce1,#394add,#3741da,#363dd8,#363dd8,#373fd9,#3843db,#3947dc,#3a4bde,#3a4fde,#3a51df,#3a52df,#3a51df,#3a4fde,#3a4bde,#3947dc,#3843db,#373fd9,#363dd8,#363dd8,#3741da,#394add,#3a5ce1,#3881e6)"></i><i style="background:linear-gradient(90deg,#3882e6,#3a5de1,#3a4bdd,#3842da,#373ed9,#363ed9,#3740da,#3844db,#3948dd,#3a4cde,#3a50df,#3a53df,#3a54df,#3a53df,#3a50df,#3a4cde,#3948dd,#3844db,#3740da,#363ed9,#373ed9,#3842da,#3a4bde,#3a5ee1,#3883e6)"></i><i style="background:linear-gradient(90deg,#3884e6,#3a5fe1,#3a4cde,#3844db,#3740d9,#3740d9,#3742da,#3846dc,#394add,#3a4ede,#3a52df,#3a55e0,#3a56e0,#3a55e0,#3a52df,#3a4ede,#394add,#3846dc,#3742da,#3740d9,#3740d9,#3844db,#3a4cde,#3a5fe1,#3884e6)"></i><i style="background:linear-gradient(90deg,#3885e6,#3a61e2,#3a4ede,#3845db,#3742da,#3741da,#3844db,#3947dc,#3a4cde,#3a51df,#3a55e0,#3a57e0,#3a58e0,#3a57e0,#3a55e0,#3a51df,#3a4cde,#3947dc,#3844db,#3741da,#3742da,#3845db,#3a4ede,#3a61e2,#3886e6)"></i><i style="background:linear-gradient(90deg,#3887e6,#3a63e2,#3a50df,#3947dc,#3844db,#3843db,#3846dc,#3949dd,#3a4ede,#3a53df,#3a57e0,#3a5ae0,#3a5ae1,#3a5ae0,#3a57e0,#3a53df,#3a4ede,#3949dd,#3846dc,#3843db,#3844db,#3947dc,#3a50df,#3a63e2,#3888e6)"></i><i style="background:linear-gradient(90deg,#3889e6,#3a66e3,#3a53df,#3949dd,#3846dc,#3846dc,#3948dc,#3a4cde,#3a51df,#3a56e0,#3a5ae0,#3a5ce1,#3a5de1,#3a5ce1,#3a5ae0,#3a56e0,#3a51df,#3a4cde,#3948dc,#3846dc,#3846dc,#3949dd,#3a53df,#3a66e3,#388ae6)"></i><i style="background:linear-gradient(90deg,#388be7,#3a69e3,#3a56e0,#3a4cde,#3948dd,#3948dd,#3a4add,#3a4fde,#3a54df,#3a59e0,#3a5ce1,#3a5ee1,#3a5fe2,#3a5ee1,#3a5ce1,#3a59e0,#3a54df,#3a4ede,#3a4add,#3948dd,#3948dd,#3a4cde,#3a56e0,#396ae3,#388ce7)"></i><i style="background:linear-gradient(90deg,#388de7,#396de3,#3a59e0,#3a4fdf,#3a4bde,#3a4bde,#3a4dde,#3a52df,#3a57e0,#3a5ce1,#3a5fe1,#3a61e2,#3a62e2,#3a61e2,#3a5fe1,#3a5ce1,#3a57e0,#3a52df,#3a4dde,#3a4bdd,#3a4bde,#3a4fdf,#3a59e0,#396ee4,#388ee7)"></i><i style="background:linear-gradient(90deg,#3890e7,#3971e4,#3a5ce1,#3a53df,#3a4ede,#3a4ede,#3a51df,#3a55e0,#3a5ae1,#3a5fe1,#3a62e2,#3a65e2,#3a66e2,#3a65e2,#3a62e2,#3a5fe1,#3a5ae1,#3a55e0,#3a51df,#3a4ede,#3a4ede,#3a53df,#3a5de1,#3972e4,#3891e7)"></i><i style="background:linear-gradient(90deg,#3893e7,#3975e5,#3a60e2,#3a57e0,#3a52df,#3a52df,#3a55e0,#3a59e0,#3a5ee1,#3a62e2,#3a66e3,#3a68e3,#3a69e3,#3a68e3,#3a66e3,#3a62e2,#3a5ee1,#3a59e0,#3a55e0,#3a52df,#3a52df,#3a57e0,#3a60e2,#3976e5,#3894e7)"></i><i style="background:linear-gradient(90deg,#3896e7,#387ae5,#3a65e2,#3a5be1,#3a57e0,#3a56e0,#3a59e0,#3a5de1,#3a62e2,#3a66e3,#396ae3,#396ce3,#396de3,#396ce3,#396ae3,#3a66e3,#3a62e2,#3a5de1,#3a59e0,#3a56e0,#3a57e0,#3a5be1,#3a65e2,#387be5,#3897e7)"></i><i style="background:linear-gradient(90deg,#3899e7,#387fe6,#396be3,#3a5fe2,#3a5be1,#3a5be1,#3a5de1,#3a61e2,#3a66e3,#396be3,#396ee4,#3970e4,#3971e4,#3970e4,#396ee4,#396be3,#3a66e3,#3a61e2,#3a5de1,#3a5be1,#3a5be1,#3a5fe2,#396be3,#387fe6,#389ae7)"></i><i style="background:linear-gradient(90deg,#389de7,#3884e6,#3971e4,#3a65e2,#3a60e2,#3a5fe2,#3a62e2,#3a66e3,#396ce3,#3970e4,#3973e4,#3975e4,#3975e5,#3975e4,#3973e4,#3970e4,#396ce3,#3a66e3,#3a62e2,#3a5fe2,#3a60e2,#3a65e2,#3971e4,#3884e6,#389ee7)"></i><i style="background:linear-gradient(90deg,#38a1e8,#3889e6,#3977e5,#396be3,#3a66e2,#3a65e2,#3a68e3,#396ce3,#3971e4,#3975e5,#3977e5,#3879e5,#3879e5,#3879e5,#3977e5,#3975e5,#3971e4,#396ce3,#3a68e3,#3a65e2,#3a66e2,#396be3,#3977e5,#3889e6,#38a1e8)"></i><i style="background:linear-gradient(90deg,#38a5e8,#388ee7,#387de6,#3972e4,#396ce3,#396be3,#396ee4,#3972e4,#3976e5,#387ae5,#387ce5,#387de6,#387de6,#387de6,#387ce5,#387ae5,#3976e5,#3972e4,#396ee4,#396be3,#396ce3,#3972e4,#387ee6,#388ee7,#38a5e8)"></i><i style="background:linear-gradient(90deg,#38a9e8,#3894e7,#3884e6,#3879e5,#3973e4,#3972e4,#3974e4,#3978e5,#387ce5,#387fe6,#3880e6,#3881e6,#3881e6,#3881e6,#3880e6,#387fe6,#387ce5,#3978e5,#3974e4,#3972e4,#3973e4,#3879e5,#3884e6,#3894e7,#38a9e8)"></i><i style="background:linear-gradient(90deg,#39aee7,#389ae7,#388ae7,#3880e6,#387ae5,#3879e5,#387be5,#387ee6,#3881e6,#3883e6,#3884e6,#3885e6,#3885e6,#3885e6,#3884e6,#3883e6,#3881e6,#387ee6,#387be5,#3879e5,#387ae5,#3880e6,#388ae7,#3899e7,#39ade7)"></i><i style="background:linear-gradient(90deg,#39b3e6,#38a0e8,#3891e7,#3887e6,#3881e6,#3880e6,#3881e6,#3883e6,#3886e6,#3888e6,#3888e6,#3888e6,#3888e6,#3888e6,#3888e6,#3888e6,#3886e6,#3883e6,#3881e6,#3880e6,#3881e6,#3887e6,#3890e7,#389fe8,#39b2e6)"></i><i style="background:linear-gradient(90deg,#3ab8e5,#38a7e8,#3898e7,#388de7,#3888e6,#3886e6,#3887e6,#3889e6,#388be7,#388ce7,#388ce7,#388ce7,#388ce7,#388ce7,#388ce7,#388ce7,#388be7,#3889e6,#3887e6,#3886e6,#3888e6,#388de7,#3897e7,#38a6e8,#3ab6e6)"></i><i style="background:linear-gradient(90deg,#3abee4,#39ade7,#389fe8,#3894e7,#388ee7,#388ce7,#388de7,#388ee7,#3890e7,#3890e7,#3890e7,#3890e7,#3890e7,#3890e7,#3890e7,#3890e7,#3890e7,#388ee7,#388de7,#388ce7,#388ee7,#3894e7,#389ee7,#38ace7,#3abce5)"></i><i style="background:linear-gradient(90deg,#3bc4e3,#39b4e6,#38a6e8,#389be7,#3895e7,#3892e7,#3892e7,#3893e7,#3894e7,#3895e7,#3894e7,#3893e7,#3893e7,#3893e7,#3894e7,#3895e7,#3894e7,#3893e7,#3892e7,#3892e7,#3895e7,#389be7,#38a5e8,#39b2e6,#3bc1e4)"></i><i style="background:linear-gradient(90deg,#3ccbe2,#3abbe5,#39ade7,#38a2e8,#389be7,#3898e7,#3898e7,#3898e7,#3899e7,#3899e7,#3898e7,#3897e7,#3896e7,#3897e7,#3898e7,#3899e7,#3899e7,#3899e7,#3898e7,#3899e7,#389be7,#38a1e8,#38ace7,#3ab9e5,#3bc7e3)"></i><i style="background:linear-gradient(90deg,#3fd0dc,#3bc3e3,#39b4e6,#38a9e8,#38a2e8,#389ee8,#389de7,#389ee7,#389ee7,#389de7,#389ce7,#389ae7,#389ae7,#389ae7,#389be7,#389de7,#389ee7,#389ee7,#389ee7,#389fe8,#38a2e8,#38a8e8,#39b2e6,#3bc0e4,#3dcde0)"></i><i style="background:linear-gradient(90deg,#42d6d5,#3ccce2,#3abbe5,#39afe7,#38a8e8,#38a4e8,#38a3e8,#38a2e8,#38a2e8,#38a1e8,#389fe8,#389ee7,#389de7,#389ee7,#389fe8,#38a1e8,#38a2e8,#38a3e8,#38a3e8,#38a4e8,#38a8e8,#39aee7,#3ab9e5,#3cc8e3,#40d2d9)"></i><i style="background:linear-gradient(90deg,#46dccc,#3fd1db,#3bc2e4,#39b5e6,#39ade7,#38aae8,#38a8e8,#38a7e8,#38a6e8,#38a5e8,#38a3e8,#38a1e8,#38a0e8,#38a1e8,#38a2e8,#38a5e8,#38a6e8,#38a7e8,#38a8e8,#38aae8,#39ade7,#39b4e6,#3bc0e4,#3ecfde,#44d8d1)"></i><i style="background:linear-gradient(90deg,#4de2c1,#43d7d3,#3cc9e3,#3abbe5,#39b3e6,#39afe7,#39ade7,#38abe7,#38aae8,#38a8e8,#38a6e8,#38a4e8,#38a3e8,#38a4e8,#38a6e8,#38a8e8,#38aae8,#38ace7,#39ade7,#39afe7,#39b3e6,#3abae5,#3bc6e3,#41d5d6,#48dfc8)"></i><i style="background:linear-gradient(90deg,#5ae5af,#47deca,#3dcedf,#3bc0e4,#3ab8e5,#39b3e6,#39b1e7,#39afe7,#39aee7,#38abe7,#38a9e8,#38a7e8,#38a6e8,#38a7e8,#38a9e8,#38abe7,#39aee7,#39b0e7,#39b1e6,#39b4e6,#3ab8e5,#3bbfe4,#3ccde1,#45dace,#52e3ba)"></i><i style="background:linear-gradient(90deg,#6be899,#4ee3bf,#40d2d9,#3bc6e3,#3abde5,#3ab8e5,#39b5e6,#39b3e6,#39b1e6,#39aee7,#38ace7,#38a9e8,#38a8e8,#38a9e8,#38abe7,#39aee7,#39b1e6,#39b3e6,#3ab6e6,#3ab8e5,#3abde5,#3bc5e3,#3fd0dc,#49e1c6,#61e6a6)"></i><i style="background:linear-gradient(90deg,#81e87f,#58e4b2,#43d6d4,#3ccbe2,#3bc2e4,#3abce5,#3ab9e5,#3ab7e6,#39b4e6,#39b1e6,#39aee7,#38ace7,#38aae8,#38abe7,#39aee7,#39b1e6,#39b4e6,#3ab7e5,#3abae5,#3abde5,#3bc2e4,#3ccae2,#41d4d7,#51e3ba,#73e88f)"></i><i style="background:linear-gradient(90deg,#97e863,#61e6a6,#45dacf,#3ecedf,#3bc6e3,#3bc0e4,#3abde5,#3abae5,#3ab7e5,#39b4e6,#39b0e7,#39aee7,#39ade7,#39aee7,#39b0e7,#39b4e6,#3ab7e5,#3abae5,#3abde4,#3bc1e4,#3bc6e3,#3dcde0,#43d7d3,#5ae5b0,#88e875)"></i><i style="background:linear-gradient(90deg,#aae74e,#68e79d,#47ddcb,#3fd1db,#3ccae2,#3bc4e3,#3bc0e4,#3abde4,#3abae5,#3ab6e6,#39b2e6,#39b0e7,#39aee7,#39afe7,#39b2e6,#3ab6e6,#3abae5,#3abde4,#3bc1e4,#3bc5e3,#3ccae2,#3fd0dc,#45dacf,#60e6a8,#98e862)"></i></div>
<div class="hm" style="left:245px;top:163px"><i style="background:linear-gradient(90deg,#39afe7,#39b2e6,#39b4e6,#3ab7e6,#3ab9e5,#3abbe5,#3abde4,#3bc0e4,#3bc2e4,#3bc4e3,#3bc7e3,#3cc9e2,#3ccce2,#3dcde0,#3dcedf,#3ecfdd,#3fd0dc,#3fd1db,#40d2d9,#41d4d8,#42d5d6,#43d6d4,#44d8d1,#45dbce,#47ddcb)"></i><i style="background:linear-gradient(90deg,#39b0e7,#39b2e6,#39b5e6,#3ab7e6,#3ab9e5,#3abbe5,#3abde5,#3bbfe4,#3bc1e4,#3bc3e3,#3bc6e3,#3cc9e3,#3ccbe2,#3dcde1,#3dcedf,#3ecfde,#3fd0dc,#3fd1db,#40d3d9,#41d4d7,#42d5d5,#43d7d3,#44d8d1,#45dacf,#46dccc)"></i><i style="background:linear-gradient(90deg,#39b0e7,#39b3e6,#39b5e6,#3ab7e6,#3ab9e5,#3abae5,#3abce5,#3abee4,#3bc0e4,#3bc3e4,#3bc5e3,#3cc8e3,#3ccbe2,#3ccde1,#3dcedf,#3ecfde,#3fd0dc,#40d2da,#40d3d9,#41d4d7,#42d5d5,#43d7d3,#44d8d1,#45dacf,#46dccd)"></i><i style="background:linear-gradient(90deg,#39b0e7,#39b3e6,#39b5e6,#3ab7e6,#3ab8e5,#3abae5,#3abbe5,#3abde4,#3bbfe4,#3bc2e4,#3bc5e3,#3bc7e3,#3ccae2,#3ccce1,#3dcee0,#3ecfde,#3fd0dc,#40d2da,#40d3d9,#41d4d7,#42d6d5,#43d7d3,#44d8d1,#45dacf,#46dbce)"></i><i style="background:linear-gradient(90deg,#39b0e7,#39b3e6,#39b5e6,#3ab6e6,#3ab8e5,#3ab9e5,#3abbe5,#3abce5,#3bbfe4,#3bc1e4,#3bc4e3,#3bc7e3,#3ccae2,#3ccce2,#3dcee0,#3ecfde,#3fd0dc,#40d2da,#41d3d8,#41d4d6,#42d6d5,#43d7d3,#44d8d1,#45d9d0,#45dbce)"></i><i style="background:linear-gradient(90deg,#39b0e7,#39b2e6,#39b4e6,#3ab6e6,#3ab7e5,#3ab9e5,#3abae5,#3abce5,#3abee4,#3bc0e4,#3bc3e3,#3bc6e3,#3cc9e2,#3ccce2,#3dcde0,#3ecfde,#3fd0dc,#40d2da,#41d3d8,#41d5d6,#42d6d4,#43d7d3,#44d8d1,#45d9d0,#45dacf)"></i><i style="background:linear-gradient(90deg,#39b0e7,#39b2e6,#39b4e6,#3ab6e6,#3ab7e6,#3ab8e5,#3ab9e5,#3abbe5,#3abde4,#3bc0e4,#3bc3e4,#3bc6e3,#3cc9e3,#3ccce2,#3dcde0,#3ecfde,#3fd0dc,#40d2da,#41d3d8,#42d5d6,#42d6d4,#43d7d2,#44d8d1,#44d9d0,#45dacf)"></i><i style="background:linear-gradient(90deg,#39afe7,#39b2e6,#39b4e6,#39b5e6,#3ab6e6,#3ab7e5,#3ab9e5,#3abae5,#3abde5,#3bbfe4,#3bc2e4,#3bc5e3,#3cc9e3,#3ccbe2,#3dcde0,#3ecfde,#3fd0dc,#40d2da,#41d3d8,#42d5d6,#43d6d4,#43d8d2,#44d9d1,#44d9d0,#45dad0)"></i><i style="background:linear-gradient(90deg,#39afe7,#39b1e6,#39b3e6,#39b4e6,#3ab6e6,#3ab7e6,#3ab8e5,#3abae5,#3abce5,#3bbfe4,#3bc2e4,#3bc5e3,#3cc8e3,#3ccbe2,#3dcde0,#3ecfde,#3fd0dc,#40d2da,#41d4d8,#42d5d6,#43d7d4,#43d8d2,#44d9d1,#44d9d0,#45d9d0)"></i><i style="background:linear-gradient(90deg,#39aee7,#39b0e7,#39b2e6,#39b4e6,#39b5e6,#3ab6e6,#3ab7e5,#3ab9e5,#3abbe5,#3abee4,#3bc1e4,#3bc5e3,#3cc8e3,#3ccbe2,#3dcde1,#3ecfde,#3fd0dc,#40d2da,#41d4d8,#42d5d5,#43d7d3,#44d8d2,#44d9d1,#44d9d0,#44d9d0)"></i><i style="background:linear-gradient(90deg,#39ade7,#39b0e7,#39b1e6,#39b3e6,#39b4e6,#39b5e6,#3ab7e6,#3ab9e5,#3abbe5,#3abee4,#3bc1e4,#3bc4e3,#3cc8e3,#3ccbe2,#3dcde1,#3ecfde,#3fd0dc,#40d2da,#41d4d8,#42d5d5,#43d7d3,#44d8d2,#44d9d0,#45d9d0,#45d9d0)"></i><i style="background:linear-gradient(90deg,#38ace7,#39afe7,#39b0e7,#39b2e6,#39b3e6,#39b5e6,#3ab6e6,#3ab8e5,#3abae5,#3abde4,#3bc1e4,#3bc4e3,#3cc8e3,#3ccbe2,#3dcde1,#3ecfdf,#3fd0dc,#40d2da,#41d4d7,#42d5d5,#43d7d3,#44d8d1,#44d9d0,#45dacf,#45d9d0)"></i><i style="background:linear-gradient(90deg,#38abe7,#39aee7,#39afe7,#39b1e7,#39b2e6,#39b4e6,#39b5e6,#3ab7e5,#3abae5,#3abde4,#3bc0e4,#3bc4e3,#3bc7e3,#3ccbe2,#3dcde1,#3ecfdf,#3fd0dc,#40d2da,#41d4d7,#42d6d5,#43d7d3,#44d8d1,#44d9d0,#45dacf,#45dacf)"></i><i style="background:linear-gradient(90deg,#38abe8,#39ade7,#39aee7,#39b0e7,#39b1e6,#39b3e6,#39b5e6,#3ab7e6,#3abae5,#3abde5,#3bc0e4,#3bc4e3,#3bc7e3,#3ccae2,#3dcde1,#3ecfdf,#3fd0dc,#40d2da,#41d4d7,#42d6d5,#43d7d3,#44d9d1,#45dad0,#45dacf,#45dacf)"></i><i style="background:linear-gradient(90deg,#38a9e8,#38abe7,#39ade7,#39afe7,#39b0e7,#39b2e6,#39b4e6,#3ab6e6,#3ab9e5,#3abce5,#3bc0e4,#3bc4e3,#3bc7e3,#3ccae2,#3dcde1,#3ecfdf,#3fd0dc,#40d2da,#41d4d7,#42d6d5,#43d7d2,#44d9d0,#45dacf,#45dacf,#45dacf)"></i><i style="background:linear-gradient(90deg,#38a8e8,#38aae8,#38ace7,#39aee7,#39b0e7,#39b1e6,#39b4e6,#3ab6e6,#3ab9e5,#3abce5,#3bc0e4,#3bc4e3,#3bc7e3,#3ccae2,#3dcde1,#3ecfde,#3fd0dc,#40d2d9,#41d4d7,#42d6d4,#43d8d2,#44d9d0,#45dacf,#45dbce,#45dbce)"></i><i style="background:linear-gradient(90deg,#38a7e8,#38a9e8,#38abe8,#39ade7,#39afe7,#39b1e7,#39b3e6,#3ab6e6,#3ab9e5,#3abce5,#3bc0e4,#3bc4e3,#3bc7e3,#3ccae2,#3dcde1,#3ecfde,#3fd0dc,#40d2d9,#41d4d7,#42d6d4,#44d8d2,#44d9d0,#45dace,#46dbce,#46dbce)"></i><i style="background:linear-gradient(90deg,#38a6e8,#38a8e8,#38aae8,#38ace7,#39aee7,#39b0e7,#39b2e6,#39b5e6,#3ab8e5,#3abce5,#3bc0e4,#3bc4e3,#3bc7e3,#3ccbe2,#3dcde1,#3ecfde,#3fd1dc,#40d2d9,#41d4d7,#43d6d4,#44d8d2,#45dad0,#45dbce,#46dbcd,#46dbcd)"></i><i style="background:linear-gradient(90deg,#38a5e8,#38a6e8,#38a8e8,#38aae8,#39ade7,#39afe7,#39b2e6,#39b5e6,#3ab8e5,#3abce5,#3bc0e4,#3bc4e3,#3bc7e3,#3ccbe2,#3dcde1,#3ecfde,#3fd1dc,#40d3d9,#41d5d6,#43d7d4,#44d8d1,#45dacf,#46dbce,#46dccd,#46dccc)"></i><i style="background:linear-gradient(90deg,#38a3e8,#38a5e8,#38a7e8,#38a9e8,#38ace7,#39aee7,#39b1e6,#39b4e6,#3ab8e5,#3abce5,#3bc0e4,#3bc4e3,#3bc7e3,#3ccbe2,#3dcde0,#3ecfde,#3fd1db,#40d3d9,#42d5d6,#43d7d3,#44d9d1,#45dacf,#46dbcd,#46dccc,#47ddcb)"></i><i style="background:linear-gradient(90deg,#38a2e8,#38a4e8,#38a6e8,#38a8e8,#38abe8,#39aee7,#39b1e7,#39b4e6,#3ab8e5,#3abce5,#3bc0e4,#3bc4e3,#3cc8e3,#3ccbe2,#3dcde0,#3ecfde,#3fd1db,#40d3d9,#42d5d6,#43d7d3,#44d9d1,#45dace,#46dccd,#47ddcb,#47ddcb)"></i><i style="background:linear-gradient(90deg,#38a1e8,#38a2e8,#38a4e8,#38a7e8,#38aae8,#39ade7,#39b0e7,#39b4e6,#3ab8e5,#3abce5,#3bc0e4,#3bc4e3,#3cc8e3,#3ccbe2,#3dcde0,#3ecfde,#3fd1db,#41d3d8,#42d5d6,#43d7d3,#44d9d0,#45dbce,#46dccc,#47ddca,#47deca)"></i><i style="background:linear-gradient(90deg,#389fe8,#38a1e8,#38a3e8,#38a6e8,#38a9e8,#38ace7,#39b0e7,#39b4e6,#3ab8e5,#3abce5,#3bc0e4,#3bc4e3,#3cc8e3,#3ccbe2,#3dcee0,#3ecfdd,#3fd1db,#41d3d8,#42d5d5,#43d7d2,#45d9d0,#46dbcd,#47ddcb,#47deca,#48dfc9)"></i><i style="background:linear-gradient(90deg,#389ee7,#389fe8,#38a2e8,#38a5e8,#38a8e8,#38ace7,#39afe7,#39b3e6,#3ab8e5,#3abce5,#3bc0e4,#3bc4e3,#3cc8e3,#3ccce2,#3dcee0,#3ed0dd,#40d2da,#41d4d8,#42d6d5,#43d8d2,#45dacf,#46dccd,#47ddcb,#48dec9,#48dfc8)"></i><i style="background:linear-gradient(90deg,#389de7,#389ee8,#38a0e8,#38a3e8,#38a7e8,#38abe8,#39afe7,#39b3e6,#3ab8e5,#3abce5,#3bc1e4,#3bc5e3,#3cc9e3,#3ccce2,#3dcedf,#3fd0dd,#40d2da,#41d4d7,#42d6d4,#44d8d2,#45dacf,#46dccc,#47deca,#48dfc8,#49e0c7)"></i><i style="background:linear-gradient(90deg,#389be7,#389de7,#389fe8,#38a2e8,#38a6e8,#38aae8,#39afe7,#39b3e6,#3ab8e5,#3abce5,#3bc1e4,#3bc5e3,#3cc9e3,#3ccce2,#3dcedf,#3fd0dc,#40d2da,#41d4d7,#43d6d4,#44d8d1,#45dace,#46dccc,#48dec9,#49e0c7,#49e1c5)"></i><i style="background:linear-gradient(90deg,#389ae7,#389ce7,#389ee8,#38a1e8,#38a5e8,#38aae8,#39aee7,#39b3e6,#3ab8e5,#3abde5,#3bc1e4,#3bc5e3,#3cc9e2,#3ccde1,#3ecfde,#3fd1dc,#40d2d9,#41d5d6,#43d7d3,#44d9d1,#45dbce,#47ddcb,#48dfc9,#49e0c6,#4ae2c4)"></i><i style="background:linear-gradient(90deg,#3899e7,#389ae7,#389de7,#38a0e8,#38a5e8,#38a9e8,#39aee7,#39b3e6,#3ab8e5,#3abde5,#3bc1e4,#3bc6e3,#3ccae2,#3dcde1,#3ecfde,#3fd1db,#40d3d9,#42d5d6,#43d7d3,#44d9d0,#46dbcd,#47ddca,#48dfc8,#49e1c5,#4be2c3)"></i><i style="background:linear-gradient(90deg,#3898e7,#3899e7,#389ce7,#38a0e8,#38a4e8,#38a9e8,#39aee7,#39b3e6,#3ab8e5,#3abde4,#3bc2e4,#3bc6e3,#3ccae2,#3dcde0,#3ecfde,#3fd1db,#41d3d8,#42d5d5,#43d7d2,#45dacf,#46dccc,#47deca,#49e0c7,#4ae2c4,#4ce2c1)"></i><i style="background:linear-gradient(90deg,#3897e7,#3898e7,#389be7,#389fe8,#38a4e8,#38a9e8,#39aee7,#39b3e6,#3ab8e5,#3abde4,#3bc2e4,#3bc7e3,#3ccbe2,#3dcee0,#3ed0dd,#40d2da,#41d4d7,#42d6d5,#44d8d2,#45dacf,#46dccc,#48dec9,#49e1c6,#4be2c3,#4ee3bf)"></i><i style="background:linear-gradient(90deg,#3896e7,#3898e7,#389ae7,#389ee8,#38a3e8,#38a8e8,#39aee7,#39b3e6,#3ab9e5,#3abee4,#3bc3e4,#3bc7e3,#3ccbe2,#3dcedf,#3fd0dc,#40d2da,#41d4d7,#43d6d4,#44d8d1,#45dbce,#47ddcb,#48dfc8,#4ae1c5,#4ce2c1,#4fe3bd)"></i><i style="background:linear-gradient(90deg,#3895e7,#3897e7,#389ae7,#389ee7,#38a3e8,#38a8e8,#39aee7,#39b3e6,#3ab9e5,#3abee4,#3bc3e3,#3cc8e3,#3ccce2,#3dcedf,#3fd1dc,#40d3d9,#42d5d6,#43d7d3,#44d9d0,#46dbcd,#47ddca,#49e0c7,#4ae2c4,#4de3c0,#51e3bc)"></i><i style="background:linear-gradient(90deg,#3895e7,#3896e7,#3899e7,#389de7,#38a2e8,#38a8e8,#39aee7,#39b3e6,#3ab9e5,#3abee4,#3bc3e3,#3cc8e3,#3ccce2,#3ecfde,#3fd1db,#41d3d8,#42d5d5,#43d7d2,#45dacf,#46dccc,#48dec9,#49e0c6,#4be2c3,#4fe3be,#52e3ba)"></i><i style="background:linear-gradient(90deg,#3894e7,#3896e7,#3899e7,#389de7,#38a2e8,#38a8e8,#39aee7,#39b4e6,#3ab9e5,#3bbfe4,#3bc4e3,#3cc9e3,#3ccde1,#3ecfde,#40d2da,#41d4d7,#42d6d5,#44d8d2,#45dace,#47ddcb,#48dfc8,#49e1c5,#4ce2c1,#50e3bc,#53e4b8)"></i><i style="background:linear-gradient(90deg,#3894e7,#3896e7,#3899e7,#389de7,#38a2e8,#38a8e8,#39aee7,#39b4e6,#3abae5,#3bbfe4,#3bc4e3,#3cc9e2,#3dcde0,#3ed0dd,#40d2da,#41d4d7,#43d7d4,#44d9d1,#46dbce,#47ddca,#48e0c7,#4ae2c4,#4ee3bf,#51e3bb,#55e4b6)"></i><i style="background:linear-gradient(90deg,#3893e7,#3895e7,#3899e7,#389de7,#38a2e8,#38a8e8,#39aee7,#39b4e6,#3abae5,#3bc0e4,#3bc5e3,#3ccae2,#3dcee0,#3fd0dc,#40d3d9,#42d5d6,#43d7d3,#45d9d0,#46dccd,#47dec9,#49e0c6,#4be2c3,#4fe3be,#53e4b9,#56e4b4)"></i><i style="background:linear-gradient(90deg,#3893e7,#3895e7,#3899e7,#389de7,#38a2e8,#38a9e8,#39aee7,#39b4e6,#3abae5,#3bc0e4,#3bc6e3,#3ccbe2,#3dcedf,#3fd1dc,#41d3d8,#42d6d5,#44d8d2,#45dacf,#47ddcb,#48dfc8,#4ae1c5,#4ce2c1,#50e3bc,#54e4b7,#58e4b2)"></i><i style="background:linear-gradient(90deg,#3893e7,#3895e7,#3899e7,#389de7,#38a3e8,#38a9e8,#39afe7,#39b5e6,#3abbe5,#3bc1e4,#3bc6e3,#3ccbe2,#3ecfdf,#3fd1db,#41d4d7,#43d6d4,#44d9d1,#46dbcd,#47ddca,#49e0c7,#4ae2c4,#4ee3bf,#52e3ba,#56e4b5,#5ae5b0)"></i><i style="background:linear-gradient(90deg,#3893e7,#3895e7,#3899e7,#389de7,#38a3e8,#38a9e8,#39afe7,#39b5e6,#3abbe5,#3bc1e4,#3bc7e3,#3ccce2,#3ecfde,#40d2da,#41d4d6,#43d7d3,#45d9d0,#46dccc,#48dec9,#49e1c6,#4ce2c2,#4fe3bd,#53e4b8,#57e4b3,#5be5ae)"></i><i style="background:linear-gradient(90deg,#3893e7,#3895e7,#3899e7,#389ee7,#38a3e8,#38a9e8,#39afe7,#3ab6e6,#3abce5,#3bc2e4,#3bc7e3,#3ccce2,#3ecfdd,#40d2d9,#42d5d6,#44d8d2,#45dace,#47ddcb,#48dfc8,#4ae2c5,#4de3c0,#51e3bb,#55e4b6,#59e5b1,#5de5ac)"></i><i style="background:linear-gradient(90deg,#3893e7,#3896e7,#3899e7,#389ee8,#38a4e8,#38aae8,#39b0e7,#3ab6e6,#3abce5,#3bc2e4,#3cc8e3,#3ccde1,#3fd0dd,#40d3d8,#42d6d5,#44d9d1,#46dbcd,#47deca,#49e0c6,#4be2c3,#4fe3be,#53e4b9,#56e4b4,#5ae5af,#5ee6aa)"></i><i style="background:linear-gradient(90deg,#3893e7,#3896e7,#389ae7,#389fe8,#38a4e8,#38aae8,#39b0e7,#3ab6e6,#3abde5,#3bc3e4,#3cc8e3,#3dcde0,#3fd0dc,#41d4d8,#43d7d4,#45d9d0,#46dccc,#48dfc9,#49e1c5,#4de2c1,#50e3bc,#54e4b7,#58e4b2,#5ce5ad,#60e6a7)"></i><i style="background:linear-gradient(90deg,#3893e7,#3896e7,#389ae7,#389fe8,#38a5e8,#38abe8,#39b1e7,#3ab7e6,#3abde4,#3bc3e3,#3cc9e3,#3dcee0,#3fd1db,#41d4d7,#43d7d3,#45dacf,#47ddcb,#49e0c7,#4ae2c3,#4ee3be,#52e3b9,#56e4b4,#5ae5af,#5ee6aa,#62e6a5)"></i><i style="background:linear-gradient(90deg,#3894e7,#3897e7,#389be7,#38a0e8,#38a5e8,#38abe7,#39b1e6,#3ab7e5,#3abee4,#3bc4e3,#3ccae2,#3dcedf,#3fd1db,#42d5d6,#44d8d2,#46dbce,#47deca,#49e1c6,#4ce2c1,#50e3bc,#54e4b7,#58e4b2,#5ce5ad,#60e6a8,#64e7a3)"></i><i style="background:linear-gradient(90deg,#3894e7,#3897e7,#389be7,#38a0e8,#38a6e8,#38ace7,#39b2e6,#3ab8e5,#3abee4,#3bc4e3,#3ccae2,#3ecedf,#40d2da,#42d5d5,#44d9d1,#46dccc,#48dfc8,#4ae2c4,#4ee3bf,#52e3ba,#56e4b5,#5ae5b0,#5ee5aa,#62e6a5,#66e7a0)"></i><i style="background:linear-gradient(90deg,#3894e7,#3898e7,#389ce7,#38a1e8,#38a7e8,#38ace7,#39b2e6,#3ab9e5,#3bbfe4,#3bc5e3,#3ccbe2,#3ecfde,#40d2d9,#42d6d4,#45d9d0,#47ddcb,#49e0c7,#4be2c2,#50e3bd,#54e4b7,#58e4b2,#5ce5ad,#60e6a8,#64e7a3,#68e79d)"></i><i style="background:linear-gradient(90deg,#3895e7,#3898e7,#389ce7,#38a1e8,#38a7e8,#39ade7,#39b3e6,#3ab9e5,#3bbfe4,#3bc5e3,#3ccbe2,#3ecfde,#40d3d9,#43d7d4,#45dacf,#47deca,#49e1c5,#4de3c0,#52e3ba,#56e4b5,#5ae5af,#5ee6aa,#62e6a5,#66e7a0,#6ae89b)"></i><i style="background:linear-gradient(90deg,#3895e7,#3899e7,#389de7,#38a2e8,#38a8e8,#39aee7,#39b4e6,#3abae5,#3bc0e4,#3bc6e3,#3ccce2,#3ed0dd,#41d3d8,#43d7d3,#45dbce,#48dfc9,#4ae2c4,#4fe3be,#54e4b8,#58e4b2,#5ce5ad,#60e6a7,#64e7a2,#68e79d,#6ce898)"></i><i style="background:linear-gradient(90deg,#3896e7,#3899e7,#389ee7,#38a3e8,#38a9e8,#39aee7,#39b4e6,#3abbe5,#3bc1e4,#3bc7e3,#3ccce2,#3fd0dd,#41d4d7,#43d8d2,#46dccd,#48dfc8,#4ce2c2,#51e3bb,#56e4b5,#5ae5af,#5ee6aa,#62e6a4,#66e79f,#6ae89a,#6fe895)"></i><i style="background:linear-gradient(90deg,#3896e7,#389ae7,#389ee8,#38a4e8,#38a9e8,#39afe7,#39b5e6,#3abbe5,#3bc1e4,#3bc7e3,#3ccde1,#3fd0dc,#41d4d7,#44d8d1,#46dccc,#49e0c6,#4de3c0,#53e4b9,#58e4b2,#5ce5ac,#61e6a7,#65e7a1,#69e79c,#6de897,#71e892)"></i><i style="background:linear-gradient(90deg,#3897e7,#389be7,#389fe8,#38a4e8,#38aae8,#39b0e7,#3ab6e6,#3abce5,#3bc2e4,#3cc8e3,#3dcde1,#3fd1dc,#41d5d6,#44d9d1,#47ddcb,#4ae1c5,#4fe3bd,#55e4b6,#5ae5af,#5fe6a9,#63e6a4,#67e79e,#6be899,#70e894,#74e88e)"></i><i style="background:linear-gradient(90deg,#3898e7,#389be7,#38a0e8,#38a5e8,#38abe8,#39b0e7,#3ab6e6,#3abde5,#3bc3e4,#3cc9e3,#3dcde0,#3fd1db,#42d5d6,#44d9d0,#47deca,#4ae2c4,#51e3bb,#57e4b4,#5ce5ad,#61e6a6,#66e7a0,#6ae89b,#6ee895,#72e890,#77e88b)"></i><i style="background:linear-gradient(90deg,#3898e7,#389ce7,#38a0e8,#38a6e8,#38abe7,#39b1e6,#3ab7e5,#3abde4,#3bc3e3,#3cc9e2,#3dcee0,#3fd1db,#42d5d5,#45dacf,#48dec9,#4ce2c2,#53e4b9,#59e5b1,#5ee6aa,#63e6a3,#68e79d,#6ce897,#71e892,#75e88c,#7ae887)"></i><i style="background:linear-gradient(90deg,#3899e7,#389de7,#38a1e8,#38a6e8,#38ace7,#39b2e6,#3ab8e5,#3abee4,#3bc4e3,#3ccae2,#3dcedf,#40d2da,#42d6d5,#45dace,#48dfc8,#4de3c0,#54e4b7,#5be5ae,#61e6a7,#66e7a0,#6be89a,#70e894,#74e88e,#79e888,#7de883)"></i><i style="background:linear-gradient(90deg,#389ae7,#389de7,#38a2e8,#38a7e8,#39ade7,#39b3e6,#3ab9e5,#3bbfe4,#3bc5e3,#3ccae2,#3ecfdf,#40d2da,#43d6d4,#46dbce,#49e0c7,#4fe3be,#56e4b4,#5de5ab,#63e6a4,#68e79d,#6ee896,#73e890,#77e88a,#7ce885,#80e87f)"></i><i style="background:linear-gradient(90deg,#389ae7,#389ee7,#38a3e8,#38a8e8,#39aee7,#39b3e6,#3abae5,#3bc0e4,#3bc6e3,#3ccbe2,#3ecfde,#40d3d9,#43d7d3,#46dccd,#49e1c6,#50e3bc,#58e4b2,#5fe6a9,#65e7a0,#6be899,#71e892,#76e88c,#7be886,#7fe880,#83e87b)"></i><i style="background:linear-gradient(90deg,#389be7,#389fe8,#38a3e8,#38a9e8,#39aee7,#39b4e6,#3abae5,#3bc0e4,#3bc6e3,#3ccce2,#3ecfde,#40d3d9,#43d7d3,#46dccc,#4ae2c5,#52e3ba,#5ae5af,#61e6a6,#68e79d,#6ee896,#74e88e,#79e888,#7ee882,#82e87c,#87e877)"></i><i style="background:linear-gradient(90deg,#389ce7,#389fe8,#38a4e8,#38a9e8,#39afe7,#39b5e6,#3abbe5,#3bc1e4,#3bc7e3,#3ccce2,#3ed0dd,#41d3d8,#43d8d2,#47ddcb,#4ae2c3,#53e4b8,#5ce5ad,#64e7a3,#6ae89a,#71e892,#77e88a,#7de884,#82e87e,#86e878,#8ae873)"></i><i style="background:linear-gradient(90deg,#389de7,#38a0e8,#38a5e8,#38aae8,#39b0e7,#3ab6e6,#3abce5,#3bc2e4,#3cc8e3,#3dcde1,#3fd0dc,#41d4d7,#44d8d2,#47ddca,#4ce2c2,#55e4b6,#5ee5aa,#66e7a0,#6de897,#74e88e,#7ae886,#80e87f,#85e879,#8ae874,#8ee86f)"></i><i style="background:linear-gradient(90deg,#389de7,#38a1e8,#38a6e8,#38abe7,#39b1e7,#3ab7e6,#3abde5,#3bc3e4,#3cc9e3,#3dcde0,#3fd1dc,#41d4d7,#44d9d1,#47deca,#4de3c0,#57e4b4,#60e6a8,#68e79d,#70e893,#77e88a,#7ee882,#84e87b,#89e875,#8de86f,#91e86a)"></i><i style="background:linear-gradient(90deg,#389ee8,#38a2e8,#38a7e8,#38ace7,#39b2e6,#3ab8e5,#3abee4,#3bc4e3,#3ccae2,#3dcee0,#3fd1db,#41d5d6,#44d9d0,#48dfc9,#4ee3be,#58e5b2,#62e6a5,#6ae89a,#73e890,#7be886,#81e87e,#87e877,#8ce870,#91e86b,#95e866)"></i><i style="background:linear-gradient(90deg,#389fe8,#38a2e8,#38a7e8,#39ade7,#39b2e6,#3ab8e5,#3bbfe4,#3bc5e3,#3ccae2,#3dcedf,#3fd1db,#42d5d6,#45dacf,#48dfc8,#50e3bd,#5ae5af,#64e7a3,#6de897,#76e88c,#7ee882,#85e87a,#8be872,#90e86c,#95e866,#99e861)"></i><i style="background:linear-gradient(90deg,#389fe8,#38a3e8,#38a8e8,#39ade7,#39b3e6,#3ab9e5,#3bc0e4,#3bc6e3,#3ccbe2,#3ecfde,#40d2da,#42d6d5,#45dacf,#49e0c7,#51e3bb,#5ce5ad,#66e7a0,#6fe894,#79e888,#81e87e,#88e875,#8fe86d,#94e867,#99e861,#9de85c)"></i><i style="background:linear-gradient(90deg,#38a0e8,#38a4e8,#38a9e8,#39aee7,#39b4e6,#3abae5,#3bc0e4,#3bc7e3,#3ccce2,#3ecfde,#40d2d9,#42d6d4,#45dbce,#49e1c6,#52e3b9,#5de5ab,#68e79d,#72e890,#7ce885,#84e87a,#8ce871,#92e869,#98e862,#9de85c,#a1e857)"></i><i style="background:linear-gradient(90deg,#38a1e8,#38a5e8,#38aae8,#39afe7,#39b5e6,#3abbe5,#3bc1e4,#3bc7e3,#3ccde1,#3ed0dd,#40d3d9,#43d7d3,#46dbcd,#4ae1c5,#54e4b7,#5fe6a9,#6ae89b,#75e88d,#7fe881,#88e876,#8fe86c,#96e864,#9ce85d,#a1e857,#a5e753)"></i><i style="background:linear-gradient(90deg,#38a1e8,#38a6e8,#38abe8,#39b0e7,#3ab6e6,#3abce5,#3bc2e4,#3cc8e3,#3dcde0,#3fd0dc,#41d3d8,#43d7d3,#46dccc,#4ae2c4,#55e4b5,#61e6a7,#6ce898,#78e88a,#82e87d,#8be872,#93e868,#9ae85f,#a0e858,#a5e753,#aae74e)"></i><i style="background:linear-gradient(90deg,#38a2e8,#38a6e8,#38abe7,#39b1e7,#3ab7e6,#3abde4,#3bc3e3,#3cc9e2,#3dcee0,#3fd1db,#41d4d7,#44d8d2,#47ddcb,#4ce2c2,#57e4b4,#63e6a4,#6ee895,#7ae886,#85e879,#8ee86e,#97e864,#9ee85b,#a4e754,#aae74e,#aee64a)"></i><i style="background:linear-gradient(90deg,#38a2e8,#38a7e8,#38ace7,#39b2e6,#3ab8e5,#3abee4,#3bc4e3,#3ccae2,#3dcedf,#3fd1db,#42d5d6,#44d8d1,#47ddca,#4de3c0,#58e5b2,#64e7a2,#71e892,#7de883,#88e876,#92e86a,#9ae85f,#a2e856,#a9e74f,#aee64a,#b3e545)"></i><i style="background:linear-gradient(90deg,#38a3e8,#38a8e8,#39ade7,#39b3e6,#3ab9e5,#3bbfe4,#3bc5e3,#3ccbe2,#3ecfde,#40d2da,#42d5d5,#44d9d0,#48dec9,#4ee3bf,#5ae5b0,#66e7a0,#73e88f,#80e880,#8be872,#95e865,#9ee85b,#a6e752,#ade64b,#b3e545,#b8e540)"></i><i style="background:linear-gradient(90deg,#38a4e8,#38a9e8,#39aee7,#39b4e6,#3abae5,#3bc0e4,#3bc6e3,#3ccce2,#3ecfdd,#40d3d9,#42d6d5,#45dacf,#48dfc8,#4fe3bd,#5be5ae,#68e79d,#75e88c,#82e87c,#8ee86e,#98e861,#a2e856,#aae74e,#b2e546,#b8e540,#bde43b)"></i><i style="background:linear-gradient(90deg,#38a4e8,#38a9e8,#39afe7,#39b5e6,#3abbe5,#3bc1e4,#3bc7e3,#3ccde1,#3fd0dd,#41d3d8,#43d6d4,#45dace,#49e0c7,#51e3bb,#5de5ab,#6ae89b,#78e889,#85e879,#91e86b,#9ce85d,#a6e752,#aee64a,#b6e542,#bce43c,#c1e337)"></i><i style="background:linear-gradient(90deg,#38a5e8,#38aae8,#39b0e7,#3ab6e6,#3abce5,#3bc2e4,#3cc8e3,#3dcde0,#3fd1dc,#41d4d7,#43d7d3,#46dbcd,#49e0c6,#52e3b9,#5fe6a9,#6ce899,#7ae887,#88e876,#94e867,#9fe859,#a9e74f,#b3e545,#bbe43d,#c1e337,#c6e332)"></i><i style="background:linear-gradient(90deg,#38a5e8,#38abe8,#39b0e7,#3ab6e6,#3abde5,#3bc3e4,#3cc9e2,#3dcee0,#3fd1db,#41d4d7,#43d8d2,#46dccc,#4ae1c5,#54e4b8,#60e6a7,#6ee896,#7de884,#8ae873,#97e863,#a2e856,#ade64b,#b7e541,#bfe439,#c6e332,#cbe22d)"></i><i style="background:linear-gradient(90deg,#38a5e8,#38abe7,#39b1e6,#3ab7e5,#3abee4,#3bc4e3,#3ccae2,#3dcedf,#40d2da,#42d5d6,#44d8d1,#47ddcb,#4ae2c4,#55e4b6,#62e6a5,#70e894,#7fe881,#8de870,#9ae860,#a6e752,#b1e647,#bbe43d,#c4e334,#cbe22d,#d0e128)"></i><i style="background:linear-gradient(90deg,#38a6e8,#38ace7,#39b2e6,#3ab8e5,#3abee4,#3bc5e3,#3ccbe2,#3ecfde,#40d2d9,#42d6d5,#44d9d0,#47ddca,#4be2c2,#56e4b4,#63e6a3,#72e891,#81e87e,#8fe86c,#9ce85c,#a9e74f,#b5e543,#bfe439,#c8e230,#d0e128,#d6e022)"></i><i style="background:linear-gradient(90deg,#38a6e8,#39ade7,#39b3e6,#3ab9e5,#3bbfe4,#3bc6e3,#3ccce2,#3ecfdd,#40d3d9,#42d6d4,#45dacf,#47deca,#4ce2c1,#58e4b2,#65e7a1,#74e88f,#83e87b,#92e869,#9fe859,#ace64c,#b8e540,#c3e335,#cce22c,#d4e124,#dade1e)"></i><i style="background:linear-gradient(90deg,#38a7e8,#39ade7,#39b4e6,#3abae5,#3bc0e4,#3bc7e3,#3ccce1,#3fd0dd,#41d3d8,#43d7d3,#45dacf,#48dfc9,#4ee3bf,#59e5b0,#66e79f,#76e88c,#86e879,#94e866,#a2e856,#afe649,#bce43c,#c7e231,#d1e127,#d9df1f,#ddda1a)"></i><i style="background:linear-gradient(90deg,#38a7e8,#39aee7,#39b4e6,#3abbe5,#3bc1e4,#3bc7e3,#3dcde1,#3fd0dc,#41d4d7,#43d7d3,#45dbce,#48dfc8,#4fe3be,#5ae5af,#68e79d,#78e88a,#88e876,#97e863,#a5e753,#b2e546,#bfe439,#cbe22d,#d5e023,#dcdb1b,#e0d616)"></i><i style="background:linear-gradient(90deg,#38a8e8,#39aee7,#39b5e6,#3abbe5,#3bc2e4,#3cc8e3,#3dcde0,#3fd1db,#41d4d6,#44d8d2,#46dbcd,#49e0c7,#50e3bc,#5ce5ad,#69e89b,#7ae887,#8ae873,#99e861,#a7e751,#b5e543,#c2e336,#cee12a,#d9df1f,#ded818,#e3d212)"></i><i style="background:linear-gradient(90deg,#38a8e8,#39afe7,#3ab6e6,#3abce5,#3bc3e4,#3cc9e3,#3dcedf,#40d2da,#42d5d6,#44d8d1,#46dccc,#49e1c6,#51e3bb,#5de5ab,#6be89a,#7be885,#8ce871,#9be85e,#aae74e,#b8e540,#c5e333,#d2e126,#dbdc1c,#e1d414,#e6ce0e)"></i><i style="background:linear-gradient(90deg,#38a9e8,#39afe7,#3ab6e6,#3abde5,#3bc3e3,#3ccae2,#3ecedf,#40d2da,#42d5d5,#44d9d0,#47ddcb,#4ae1c5,#52e3b9,#5ee6aa,#6ce898,#7de883,#8ee86e,#9de85b,#ace64c,#bbe43d,#c8e230,#d5e023,#ded919,#e4d010,#e9c909)"></i><i style="background:linear-gradient(90deg,#38a9e8,#39b0e7,#3ab7e6,#3abee4,#3bc4e3,#3ccae2,#3ecfde,#40d2d9,#42d6d4,#45d9d0,#47ddcb,#4ae2c4,#53e4b8,#60e6a8,#6ee896,#7fe881,#90e86c,#9fe859,#afe649,#bde43b,#cbe22d,#d8df1f,#e0d515,#e7cc0c,#ecc505)"></i><i style="background:linear-gradient(90deg,#38a9e8,#39b0e7,#3ab7e5,#3abee4,#3bc5e3,#3ccbe2,#3ecfde,#40d3d9,#43d6d4,#45dacf,#47deca,#4be2c3,#54e4b7,#61e6a7,#6fe894,#81e87f,#92e86a,#a1e857,#b1e647,#c0e338,#cee12a,#dadd1d,#e2d212,#eac808,#f0c000)"></i><i style="background:linear-gradient(90deg,#38aae8,#39b1e7,#3ab8e5,#3bbfe4,#3bc5e3,#3ccce2,#3ed0dd,#41d3d8,#43d7d3,#45dace,#48dec9,#4ce2c2,#55e4b5,#62e6a5,#71e892,#82e87d,#93e868,#a3e855,#b3e545,#c2e336,#d0e128,#dcdb1b,#e5cf0f,#edc404,#f0b900)"></i><i style="background:linear-gradient(90deg,#38aae8,#39b1e6,#3ab8e5,#3bbfe4,#3bc6e3,#3ccce2,#3fd0dc,#41d4d7,#43d7d3,#45dbce,#48dfc8,#4de2c1,#56e4b4,#63e6a4,#72e890,#84e87b,#95e865,#a5e753,#b5e543,#c4e334,#d3e125,#ded818,#e7cc0c,#f0c000,#f0b200)"></i><i style="background:linear-gradient(90deg,#38abe8,#39b2e6,#3ab9e5,#3bc0e4,#3bc6e3,#3ccde1,#3fd0dc,#41d4d7,#44d8d2,#46dbcd,#48dfc8,#4de3c0,#57e4b3,#64e7a2,#74e88f,#85e879,#97e864,#a7e751,#b7e541,#c6e332,#d5e023,#dfd616,#e9c909,#f0ba00,#f0aa00)"></i><i style="background:linear-gradient(90deg,#38abe8,#39b2e6,#3ab9e5,#3bc0e4,#3bc7e3,#3dcde1,#3fd1dc,#41d5d6,#44d8d1,#46dccc,#49e0c7,#4ee3bf,#58e4b2,#65e7a1,#75e88d,#87e877,#98e862,#a9e74f,#b8e540,#c7e231,#d6e022,#e1d515,#ebc707,#f0b400,#f0a200)"></i><i style="background:linear-gradient(90deg,#38abe7,#39b2e6,#3ab9e5,#3bc0e4,#3bc7e3,#3dcde1,#3fd1db,#42d5d6,#44d9d1,#46dccc,#49e0c6,#4fe3be,#59e5b1,#66e7a0,#76e88c,#88e875,#99e860,#aae74e,#bae43e,#c9e22f,#d8e020,#e2d313,#edc404,#f0ad00,#f09800)"></i><i style="background:linear-gradient(90deg,#38ace7,#39b3e6,#3abae5,#3bc0e4,#3bc7e3,#3dcde0,#3fd1db,#42d5d5,#44d9d0,#47ddcb,#49e1c6,#4fe3bd,#5ae5b0,#67e79f,#77e88a,#89e874,#9be85e,#abe64d,#bbe43d,#cae22e,#d9df1f,#e3d212,#efc101,#f0a600,#ef8d01)"></i><i style="background:linear-gradient(90deg,#38ace7,#39b3e6,#3abae5,#3bc1e4,#3cc8e3,#3dcde0,#40d2da,#42d6d5,#44d9d0,#47ddcb,#49e1c5,#50e3bc,#5ae5af,#67e79e,#78e889,#8ae873,#9ce85d,#ace64c,#bce43c,#cae22e,#d9de1e,#e4d111,#f0be00,#f09e00,#ee8005)"></i><i style="background:linear-gradient(90deg,#39ade7,#39b3e6,#3abae5,#3bc1e4,#3cc8e3,#3dcee0,#40d2da,#42d6d5,#45dacf,#47ddca,#4ae1c5,#51e3bc,#5be5ae,#68e79d,#79e888,#8be871,#9de85c,#ade64b,#bce43c,#cbe22d,#d9de1e,#e4d010,#f0bb00,#f09600,#ec710a)"></i><i style="background:linear-gradient(90deg,#39ade7,#39b3e6,#3abae5,#3bc1e4,#3cc8e3,#3dcee0,#40d2da,#42d6d4,#45dacf,#47deca,#4ae2c5,#51e3bb,#5be5ae,#69e79c,#7ae887,#8ce870,#9ee85b,#aee64a,#bde43b,#cbe22d,#dade1e,#e5cf0f,#f0b900,#f08e01,#ea600d)"></i><i style="background:linear-gradient(90deg,#39aee7,#39b3e6,#3abae5,#3bc1e4,#3cc8e3,#3dcee0,#40d2da,#43d6d4,#45dacf,#47deca,#4ae2c4,#51e3bb,#5ce5ad,#69e79c,#7be886,#8de86f,#9fe85a,#afe649,#bde43b,#cbe22d,#d9de1e,#e5cf0f,#f0b700,#ef8604,#e74e10)"></i><i style="background:linear-gradient(90deg,#39aee7,#39b4e6,#3abae5,#3bc0e4,#3cc8e3,#3dcee0,#40d2da,#43d6d4,#45dace,#47dec9,#4ae2c4,#52e3ba,#5ce5ad,#6ae89b,#7be885,#8ee86e,#9fe859,#afe649,#bde43b,#cbe22d,#d9df1f,#e4d010,#f0b700,#ee7f05,#e23e10)"></i><i style="background:linear-gradient(90deg,#39afe7,#39b4e6,#3abae5,#3bc0e4,#3bc7e3,#3dcee0,#40d2da,#43d7d4,#45dbce,#48dec9,#4ae2c4,#52e3ba,#5ce5ad,#6ae89b,#7ce885,#8fe86e,#a0e858,#afe649,#bde43b,#cae22e,#d8df1f,#e4d111,#f0b700,#ed7c06,#df3410)"></i></div>
<div class="hm" style="left:384px;top:163px"><i style="background:linear-gradient(90deg,#f09300,#f0a900,#e5cf0f,#cae22e,#ace64c,#93e868,#7ee882,#6de897,#60e6a7,#58e5b2,#53e4b9,#4ee3bf,#4ae2c4,#48dec9,#45dace,#43d7d3,#42d5d6,#41d5d6,#43d6d4,#45dacf,#49e0c7,#54e4b7,#67e79e,#87e877,#a8e750)"></i><i style="background:linear-gradient(90deg,#f09900,#f0b400,#e0d515,#c4e334,#a8e750,#90e86c,#7ce884,#6be899,#60e6a8,#58e4b2,#52e3b9,#4ee3bf,#4ae1c5,#47ddca,#44d9d0,#42d5d6,#40d2da,#3fd1db,#40d3d9,#43d6d4,#46dccc,#4de3c0,#60e6a8,#7de883,#9be85e)"></i><i style="background:linear-gradient(90deg,#f0a200,#f0bf00,#dbdc1c,#bee43a,#a3e855,#8de86f,#7ae887,#6ae89a,#5fe6a8,#58e4b2,#52e3b9,#4ee3bf,#49e1c6,#46dccc,#43d7d2,#40d3d9,#3ed0dd,#3ecfde,#3ed0dd,#40d3d9,#44d8d1,#49e0c7,#59e5b1,#72e890,#8de870)"></i><i style="background:linear-gradient(90deg,#f0ad00,#eac808,#d5e023,#b8e540,#9fe85a,#8ae873,#78e889,#69e89c,#5fe6a9,#57e4b3,#52e3ba,#4de3c0,#49e0c6,#46dccd,#42d6d4,#3fd1db,#3dcee0,#3ccce2,#3dcde1,#3ed0dd,#42d5d6,#46dccc,#52e3ba,#68e79d,#7fe881)"></i><i style="background:linear-gradient(90deg,#f0b900,#e4d010,#cde22b,#b2e546,#9be85f,#87e877,#76e88c,#68e79d,#5ee6aa,#57e4b3,#52e3ba,#4de2c0,#49e0c7,#45dbce,#42d5d6,#3ed0dd,#3ccbe2,#3cc8e3,#3cc9e2,#3ccde1,#40d2da,#44d9d1,#4be2c3,#5fe6a9,#71e891)"></i><i style="background:linear-gradient(90deg,#edc404,#ded818,#c6e332,#ace64c,#97e863,#84e87a,#74e88e,#67e79f,#5de5ab,#56e4b4,#51e3bb,#4ce2c1,#48dfc8,#45dacf,#41d4d7,#3dcedf,#3cc8e3,#3bc5e3,#3bc5e3,#3cc9e3,#3ecfde,#42d5d5,#48dfc9,#57e4b4,#66e7a0)"></i><i style="background:linear-gradient(90deg,#e7cc0c,#d9df1f,#bfe439,#a7e751,#93e868,#82e87d,#72e891,#66e7a0,#5de5ac,#56e4b5,#51e3bb,#4ce2c2,#48dfc8,#44d9d0,#40d3d9,#3dcde1,#3bc6e3,#3bc2e4,#3bc2e4,#3bc5e3,#3ccce2,#40d2da,#45dbce,#4fe3be,#5de5ac)"></i><i style="background:linear-gradient(90deg,#e1d414,#d1e127,#b8e540,#a2e856,#90e86c,#7fe881,#70e893,#65e7a2,#5ce5ad,#55e4b5,#50e3bc,#4be2c3,#48dec9,#44d9d1,#40d2da,#3ccce2,#3bc4e3,#3bbfe4,#3bbfe4,#3bc1e4,#3cc8e3,#3ecfdd,#43d7d3,#49e1c6,#54e4b7)"></i><i style="background:linear-gradient(90deg,#dbdc1c,#c9e22f,#b2e546,#9ee85b,#8ce870,#7ce884,#6ee895,#64e7a3,#5be5ae,#55e4b6,#50e3bd,#4be2c3,#47deca,#44d8d2,#3fd1db,#3ccae2,#3bc2e4,#3abde5,#3abce5,#3abee4,#3bc4e3,#3ccde1,#41d4d7,#46dccc,#4de3c0)"></i><i style="background:linear-gradient(90deg,#d5e023,#c2e336,#ace64c,#9ae860,#89e874,#7ae887,#6de897,#62e6a4,#5ae5af,#54e4b7,#4fe3bd,#4ae2c4,#47ddca,#43d7d2,#3fd1dc,#3cc9e3,#3bc0e4,#3abbe5,#3ab9e5,#3abce5,#3bc1e4,#3cc9e2,#3fd1db,#44d9d1,#49e0c7)"></i><i style="background:linear-gradient(90deg,#cce22c,#bbe43d,#a7e751,#96e865,#86e878,#78e88a,#6be899,#61e6a6,#59e5b0,#54e4b8,#4fe3be,#4ae2c5,#47ddcb,#43d7d3,#3fd0dd,#3bc7e3,#3bbfe4,#3ab9e5,#3ab7e5,#3ab9e5,#3abee4,#3bc6e3,#3ecedf,#42d6d5,#46dccc)"></i><i style="background:linear-gradient(90deg,#c5e333,#b5e543,#a3e855,#92e869,#83e87b,#76e88c,#6ae89b,#60e6a7,#59e5b1,#53e4b8,#4ee3bf,#49e1c5,#47ddcb,#43d6d4,#3ecfdd,#3bc6e3,#3abde4,#3ab8e5,#3ab6e6,#3ab7e5,#3abbe5,#3bc3e4,#3ccce2,#40d3d9,#44d9d0)"></i><i style="background:linear-gradient(90deg,#bfe439,#b0e648,#9ee85a,#8fe86d,#81e87f,#74e88f,#68e79d,#5fe6a8,#58e4b2,#52e3b9,#4de3c0,#49e1c6,#46dccc,#42d6d4,#3ecfde,#3bc6e3,#3abde5,#3ab7e6,#39b4e6,#39b5e6,#3ab9e5,#3bc0e4,#3cc9e3,#3fd0dc,#43d7d4)"></i><i style="background:linear-gradient(90deg,#b9e43f,#abe64d,#9be85f,#8ce871,#7ee882,#72e891,#67e79f,#5ee6aa,#57e4b3,#52e3ba,#4de2c1,#49e0c6,#46dccd,#42d6d5,#3ecfde,#3bc5e3,#3abce5,#3ab6e6,#39b3e6,#39b4e6,#3ab7e5,#3abde4,#3bc6e3,#3dcedf,#41d4d7)"></i><i style="background:linear-gradient(90deg,#b4e544,#a6e752,#97e863,#89e874,#7ce884,#70e893,#66e7a0,#5de5ab,#56e4b4,#51e3bb,#4ce2c1,#49e0c7,#46dbcd,#42d5d6,#3dcedf,#3bc5e3,#3abbe5,#39b5e6,#39b2e6,#39b3e6,#3ab6e6,#3abbe5,#3bc3e3,#3ccce2,#40d2d9)"></i><i style="background:linear-gradient(90deg,#afe649,#a2e856,#94e867,#86e877,#7ae887,#6ee896,#64e7a2,#5ce5ac,#56e4b5,#50e3bc,#4be2c2,#48dfc8,#45dbce,#42d5d6,#3dcedf,#3bc4e3,#3abbe5,#39b5e6,#39b2e6,#39b2e6,#39b4e6,#3abae5,#3bc1e4,#3ccae2,#3fd1db)"></i><i style="background:linear-gradient(90deg,#abe64d,#9fe85a,#91e86a,#84e87b,#78e88a,#6ce898,#63e6a3,#5be5ad,#55e4b6,#4fe3bd,#4be2c3,#48dfc8,#45dace,#41d5d6,#3dcedf,#3bc4e3,#3abbe5,#39b5e6,#39b2e6,#39b1e6,#39b3e6,#3ab8e5,#3bbfe4,#3cc8e3,#3ed0dd)"></i><i style="background:linear-gradient(90deg,#a8e750,#9ce85e,#8ee86e,#82e87d,#76e88c,#6be899,#62e6a5,#5be5af,#54e4b7,#4fe3be,#4ae2c4,#48dec9,#45dacf,#41d4d7,#3dcee0,#3bc4e3,#3abbe5,#39b5e6,#39b1e6,#39b1e7,#39b3e6,#3ab7e5,#3abee4,#3bc6e3,#3ecfde)"></i><i style="background:linear-gradient(90deg,#a4e754,#99e861,#8ce871,#80e880,#74e88e,#6ae89b,#61e6a6,#5ae5b0,#53e4b8,#4ee3bf,#4ae1c5,#47dec9,#45dacf,#41d4d7,#3dcee0,#3bc4e3,#3abce5,#39b5e6,#39b2e6,#39b1e7,#39b2e6,#3ab6e6,#3abde5,#3bc5e3,#3dcee0)"></i><i style="background:linear-gradient(90deg,#a1e857,#96e864,#8ae873,#7ee882,#72e890,#68e79d,#60e6a7,#59e5b1,#53e4b9,#4de3c0,#49e1c5,#47deca,#44d9d0,#41d4d7,#3dcee0,#3bc5e3,#3abce5,#3ab6e6,#39b2e6,#39b1e7,#39b2e6,#3ab6e6,#3abce5,#3bc4e3,#3dcde0)"></i><i style="background:linear-gradient(90deg,#9fe859,#94e867,#88e876,#7ce885,#71e892,#67e79e,#5fe6a9,#58e4b2,#52e3ba,#4de2c1,#49e1c6,#47ddcb,#44d9d0,#41d4d8,#3dcee0,#3bc5e3,#3abde5,#3ab6e6,#39b2e6,#39b1e7,#39b2e6,#39b5e6,#3abbe5,#3bc3e3,#3dcde1)"></i><i style="background:linear-gradient(90deg,#9de85c,#92e86a,#86e878,#7ae887,#6fe894,#66e7a0,#5ee6aa,#57e4b3,#51e3bb,#4ce2c2,#49e0c7,#47ddcb,#44d9d1,#41d3d8,#3dcee0,#3bc5e3,#3abde4,#3ab7e5,#39b3e6,#39b1e6,#39b2e6,#39b5e6,#3abbe5,#3bc3e4,#3ccde1)"></i><i style="background:linear-gradient(90deg,#9ae85f,#90e86c,#84e87b,#78e889,#6ee896,#65e7a1,#5de5ab,#56e4b4,#50e3bc,#4be2c2,#49e0c7,#46dccc,#44d8d1,#41d3d8,#3dcee0,#3bc6e3,#3abee4,#3ab8e5,#39b4e6,#39b2e6,#39b2e6,#39b5e6,#3abbe5,#3bc3e4,#3ccde1)"></i><i style="background:linear-gradient(90deg,#98e861,#8ee86e,#82e87d,#77e88a,#6ce897,#64e7a2,#5ce5ac,#55e4b5,#50e3bd,#4ae2c3,#48dfc8,#46dccc,#44d8d2,#41d3d8,#3dcedf,#3bc7e3,#3bbfe4,#3ab9e5,#39b5e6,#39b3e6,#39b3e6,#3ab6e6,#3abbe5,#3bc3e4,#3ccde1)"></i><i style="background:linear-gradient(90deg,#97e864,#8ce870,#81e87f,#76e88c,#6be899,#63e6a4,#5be5ad,#55e4b6,#4fe3be,#4ae2c4,#48dfc8,#46dccd,#43d8d2,#41d3d8,#3dcedf,#3bc7e3,#3bc0e4,#3abae5,#3ab6e6,#39b4e6,#39b4e6,#3ab6e6,#3abbe5,#3bc3e4,#3ccde1)"></i><i style="background:linear-gradient(90deg,#95e866,#8ae872,#7fe880,#74e88e,#6ae89a,#62e6a5,#5be5ae,#54e4b7,#4ee3bf,#4ae1c5,#48dec9,#46dbcd,#43d7d2,#41d3d8,#3dcedf,#3cc8e3,#3bc1e4,#3abbe5,#3ab7e6,#39b5e6,#39b4e6,#3ab7e6,#3abbe5,#3bc3e3,#3dcde1)"></i><i style="background:linear-gradient(90deg,#93e868,#89e874,#7ee882,#73e88f,#69e89b,#61e6a6,#5ae5af,#53e4b8,#4de3c0,#49e1c5,#47deca,#45dbce,#43d7d3,#40d3d8,#3ecfdf,#3cc9e3,#3bc2e4,#3abce5,#3ab8e5,#3ab6e6,#39b5e6,#3ab7e5,#3abce5,#3bc4e3,#3dcde0)"></i><i style="background:linear-gradient(90deg,#92e86a,#88e876,#7de884,#72e891,#68e79d,#60e6a7,#59e5b0,#53e4b9,#4de2c0,#49e1c6,#47ddca,#45dace,#43d7d3,#40d3d8,#3ecfde,#3cc9e2,#3bc3e4,#3abde4,#3ab9e5,#3ab7e6,#3ab6e6,#3ab8e5,#3abde5,#3bc4e3,#3dcee0)"></i><i style="background:linear-gradient(90deg,#90e86c,#86e878,#7be885,#71e892,#68e79e,#60e6a8,#58e5b1,#52e3ba,#4ce2c1,#49e0c7,#47ddcb,#45dacf,#43d7d3,#40d3d8,#3ecfde,#3ccae2,#3bc4e3,#3bbfe4,#3abbe5,#3ab8e5,#3ab7e5,#3ab9e5,#3abde4,#3bc5e3,#3dcedf)"></i><i style="background:linear-gradient(90deg,#8fe86d,#85e879,#7ae887,#70e893,#67e79f,#5fe6a9,#58e4b2,#51e3bb,#4be2c2,#49e0c7,#47ddcb,#45dacf,#43d7d4,#40d3d8,#3ecfde,#3ccbe2,#3bc5e3,#3bc0e4,#3abce5,#3ab9e5,#3ab9e5,#3abae5,#3abee4,#3bc5e3,#3dcedf)"></i><i style="background:linear-gradient(90deg,#8de86f,#84e87b,#79e888,#6fe894,#66e7a0,#5ee6aa,#57e4b3,#50e3bc,#4be2c3,#48dfc8,#46dccc,#45d9d0,#43d6d4,#40d3d8,#3ecfdd,#3ccce2,#3bc6e3,#3bc1e4,#3abde4,#3abbe5,#3abae5,#3abbe5,#3bbfe4,#3bc6e3,#3ecfde)"></i><i style="background:linear-gradient(90deg,#8be871,#82e87d,#78e889,#6ee896,#65e7a1,#5de5ab,#56e4b4,#50e3bc,#4ae2c4,#48dfc8,#46dccc,#44d9d0,#43d6d4,#41d3d8,#3ed0dd,#3ccce2,#3bc7e3,#3bc2e4,#3abee4,#3abce5,#3abbe5,#3abce5,#3bc0e4,#3bc7e3,#3ecfde)"></i><i style="background:linear-gradient(90deg,#8ae873,#81e87e,#77e88a,#6de897,#65e7a2,#5de5ac,#56e4b5,#4fe3bd,#4ae2c4,#48dec9,#46dccd,#44d9d0,#42d6d4,#41d3d8,#3ed0dd,#3ccde1,#3cc8e3,#3bc3e3,#3bc0e4,#3abde4,#3abce5,#3abde4,#3bc1e4,#3bc7e3,#3ecfde)"></i><i style="background:linear-gradient(90deg,#88e875,#80e880,#76e88c,#6ce898,#64e7a2,#5ce5ac,#55e4b6,#4fe3be,#4ae1c5,#48dec9,#46dbcd,#44d9d1,#42d6d4,#41d3d8,#3fd0dc,#3dcde1,#3cc9e3,#3bc4e3,#3bc1e4,#3abee4,#3abde4,#3abee4,#3bc2e4,#3cc8e3,#3ecfdd)"></i><i style="background:linear-gradient(90deg,#87e877,#7ee881,#75e88d,#6be899,#63e6a3,#5ce5ad,#54e4b6,#4ee3bf,#49e1c5,#47deca,#46dbcd,#44d9d1,#42d6d4,#41d3d8,#3fd0dc,#3dcde0,#3ccae2,#3bc5e3,#3bc2e4,#3bc0e4,#3bbfe4,#3bc0e4,#3bc3e4,#3cc9e3,#3ecfdd)"></i><i style="background:linear-gradient(90deg,#85e879,#7de883,#74e88e,#6be899,#63e6a4,#5be5ae,#54e4b7,#4de3c0,#49e1c6,#47ddca,#45dbce,#44d8d1,#42d6d4,#41d3d8,#3fd1dc,#3dcee0,#3ccbe2,#3bc6e3,#3bc3e3,#3bc1e4,#3bc0e4,#3bc1e4,#3bc4e3,#3cc9e2,#3ed0dd)"></i><i style="background:linear-gradient(90deg,#84e87b,#7ce884,#73e88f,#6ae89a,#62e6a5,#5be5af,#53e4b8,#4de3c0,#49e0c6,#47ddcb,#45dbce,#44d8d1,#42d6d5,#41d3d8,#3fd1dc,#3dcedf,#3ccbe2,#3bc7e3,#3bc4e3,#3bc2e4,#3bc1e4,#3bc2e4,#3bc5e3,#3ccae2,#3ed0dd)"></i><i style="background:linear-gradient(90deg,#82e87d,#7be885,#73e890,#6ae89b,#62e6a5,#5ae5af,#53e4b9,#4ce2c1,#49e0c7,#47ddcb,#45dace,#44d8d1,#42d6d5,#41d3d8,#3fd1db,#3ecedf,#3ccce2,#3cc8e3,#3bc5e3,#3bc3e3,#3bc2e4,#3bc3e4,#3bc6e3,#3ccbe2,#3ed0dd)"></i><i style="background:linear-gradient(90deg,#81e87e,#7ae886,#72e891,#69e89c,#61e6a6,#5ae5b0,#52e3b9,#4ce2c2,#48e0c7,#47ddcb,#45dacf,#44d8d2,#42d6d5,#41d4d8,#3fd1db,#3ecfde,#3ccce2,#3cc9e2,#3bc6e3,#3bc4e3,#3bc3e3,#3bc4e3,#3bc6e3,#3ccbe2,#3ed0dd)"></i><i style="background:linear-gradient(90deg,#80e87f,#7ae887,#71e891,#69e79c,#61e6a6,#59e5b0,#52e3ba,#4ce2c2,#48dfc8,#46dccc,#45dacf,#44d8d2,#42d6d5,#41d4d8,#3fd1db,#3ecfde,#3ccde1,#3ccae2,#3bc7e3,#3bc5e3,#3bc4e3,#3bc5e3,#3bc7e3,#3ccce2,#3ed0dd)"></i><i style="background:linear-gradient(90deg,#7fe880,#79e888,#71e892,#69e79d,#61e6a7,#59e5b1,#52e3ba,#4be2c2,#48dfc8,#46dccc,#45dacf,#44d8d2,#42d6d5,#41d4d7,#3fd1db,#3ecfde,#3dcde1,#3ccbe2,#3cc8e3,#3bc6e3,#3bc5e3,#3bc6e3,#3cc8e3,#3ccce2,#3ed0dd)"></i><i style="background:linear-gradient(90deg,#7fe881,#79e888,#71e892,#68e79d,#60e6a7,#59e5b1,#51e3ba,#4be2c3,#48dfc8,#46dccc,#45dacf,#44d8d2,#42d6d5,#41d4d7,#40d2da,#3ecfdd,#3dcde0,#3ccbe2,#3cc9e3,#3bc7e3,#3bc7e3,#3bc7e3,#3cc9e3,#3ccce2,#3ed0dd)"></i><i style="background:linear-gradient(90deg,#7fe881,#79e888,#70e893,#68e79d,#60e6a7,#59e5b1,#51e3bb,#4be2c3,#48dfc8,#46dccc,#45dacf,#44d8d2,#42d6d4,#41d4d7,#40d2da,#3ed0dd,#3dcee0,#3ccce2,#3ccae2,#3cc8e3,#3cc8e3,#3cc8e3,#3ccae2,#3ccde1,#3ecfdd)"></i><i style="background:linear-gradient(90deg,#7fe881,#79e888,#70e893,#68e79d,#60e6a7,#58e5b1,#51e3bb,#4be2c3,#48dfc8,#46dccc,#45dacf,#44d8d2,#42d6d4,#41d4d7,#40d2da,#3ed0dd,#3dcedf,#3ccce2,#3ccae2,#3cc9e2,#3cc9e3,#3cc9e3,#3ccae2,#3dcde1,#3ecfdd)"></i><i style="background:linear-gradient(90deg,#7fe880,#79e888,#71e892,#68e79d,#60e6a7,#58e5b1,#51e3bb,#4be2c3,#48dfc8,#46dccc,#45dacf,#44d8d2,#42d6d4,#41d4d7,#40d2da,#3fd0dc,#3dcedf,#3ccde1,#3ccbe2,#3ccae2,#3cc9e2,#3ccae2,#3ccbe2,#3dcde1,#3ecfde)"></i><i style="background:linear-gradient(90deg,#80e87f,#7ae887,#71e892,#68e79d,#60e6a7,#58e5b1,#51e3bb,#4be2c3,#48dfc8,#46dccc,#45dacf,#44d8d2,#42d6d4,#41d4d7,#40d2da,#3fd0dc,#3ecfdf,#3dcde1,#3ccce2,#3ccbe2,#3ccae2,#3ccbe2,#3ccce2,#3dcde0,#3ecfde)"></i><i style="background:linear-gradient(90deg,#82e87d,#7be886,#72e891,#69e79c,#60e6a7,#59e5b1,#51e3bb,#4be2c3,#48dfc8,#46dccc,#45dacf,#44d8d2,#42d6d4,#41d4d7,#40d2d9,#3fd0dc,#3ecfde,#3dcde0,#3ccce2,#3ccce2,#3ccbe2,#3ccce2,#3ccce2,#3dcde0,#3ecfde)"></i><i style="background:linear-gradient(90deg,#83e87b,#7ce885,#72e890,#69e79c,#61e6a7,#59e5b1,#51e3ba,#4be2c3,#48dfc8,#46dccc,#45dacf,#44d8d1,#43d6d4,#41d4d7,#40d2d9,#3fd1dc,#3ecfde,#3dcee0,#3ccde1,#3ccce2,#3ccce2,#3ccce2,#3ccde1,#3dcee0,#3ecfde)"></i><i style="background:linear-gradient(90deg,#86e878,#7de883,#73e88f,#6ae89b,#61e6a6,#59e5b1,#52e3ba,#4be2c2,#48dfc8,#46dccc,#45dacf,#44d8d1,#43d6d4,#41d4d7,#40d2d9,#3fd1dc,#3ecfde,#3dcedf,#3dcde1,#3ccde1,#3ccce1,#3ccde1,#3dcde1,#3dcee0,#3ecfde)"></i><i style="background:linear-gradient(90deg,#89e875,#7fe880,#75e88d,#6ae89a,#62e6a6,#59e5b0,#52e3ba,#4ce2c2,#48e0c7,#47ddcb,#45dace,#44d8d1,#43d6d4,#41d4d6,#40d3d9,#3fd1db,#3ecfde,#3dcedf,#3dcde0,#3dcde1,#3dcde1,#3dcde1,#3dcde0,#3dcedf,#3ecfde)"></i><i style="background:linear-gradient(90deg,#8ce871,#81e87e,#76e88c,#6be899,#62e6a5,#5ae5af,#53e4b9,#4ce2c1,#49e0c7,#47ddcb,#45dbce,#44d9d1,#43d7d4,#41d5d6,#40d3d9,#3fd1db,#3ecfdd,#3ecedf,#3dcee0,#3dcde0,#3dcde0,#3dcde0,#3dcee0,#3dcedf,#3ecfde)"></i><i style="background:linear-gradient(90deg,#90e86c,#84e87b,#78e88a,#6ce898,#63e6a4,#5ae5af,#53e4b8,#4de2c0,#49e0c6,#47ddca,#45dbce,#44d9d1,#43d7d4,#41d5d6,#40d3d9,#3fd1db,#3ed0dd,#3ecfde,#3dcedf,#3dcee0,#3dcee0,#3dcee0,#3dcedf,#3dcedf,#3ecfde)"></i><i style="background:linear-gradient(90deg,#94e867,#87e877,#79e887,#6de896,#64e7a3,#5be5ae,#54e4b7,#4de3c0,#49e1c6,#47deca,#46dbcd,#44d9d0,#43d7d3,#42d5d6,#40d3d9,#3fd1db,#3ed0dd,#3ecfde,#3dcedf,#3dcedf,#3dcedf,#3dcedf,#3dcedf,#3ecedf,#3ecfde)"></i><i style="background:linear-gradient(90deg,#98e862,#8ae874,#7be885,#6fe895,#64e7a2,#5ce5ad,#54e4b6,#4ee3bf,#49e1c5,#48dec9,#46dbcd,#44d9d0,#43d7d3,#42d5d6,#40d3d9,#3fd1db,#3ed0dd,#3ecfde,#3ecedf,#3dcedf,#3dcedf,#3dcedf,#3ecfdf,#3ecfde,#3ecfde)"></i><i style="background:linear-gradient(90deg,#9ce85c,#8de870,#7ee882,#70e893,#65e7a1,#5de5ac,#55e4b5,#4fe3be,#4ae2c5,#48dec9,#46dccd,#44d9d0,#43d7d3,#42d5d6,#40d3d9,#3fd1db,#3ed0dd,#3ecfde,#3ecfdf,#3ecedf,#3ecedf,#3ecfde,#3ecfde,#3ecfde,#3ecfde)"></i><i style="background:linear-gradient(90deg,#a1e857,#90e86b,#80e87f,#72e891,#67e79f,#5ee5ab,#56e4b4,#50e3bd,#4ae2c4,#48dfc8,#46dccc,#45d9d0,#43d7d3,#42d5d6,#40d3d9,#3fd1db,#3ed0dd,#3ecfde,#3ecfde,#3ecfdf,#3ecfde,#3ecfde,#3ecfde,#3ecfde,#3ecfde)"></i><i style="background:linear-gradient(90deg,#a7e751,#94e867,#82e87c,#74e88f,#68e79e,#5fe6a9,#57e4b3,#51e3bb,#4be2c3,#48dfc8,#46dccc,#45dacf,#43d7d3,#42d5d6,#40d3d9,#3fd1db,#3ed0dd,#3ecfde,#3ecfde,#3ecfde,#3ecfde,#3ecfde,#3ecfde,#3ecfdd,#3ecfde)"></i><i style="background:linear-gradient(90deg,#ace64c,#97e863,#85e879,#76e88c,#69e79c,#60e6a8,#58e4b2,#52e3ba,#4ce2c2,#49e0c7,#47ddcb,#45dacf,#43d7d3,#42d5d6,#40d3d9,#3fd1db,#3ed0dd,#3ecfde,#3ecfde,#3ecfde,#3ecfde,#3ecfde,#3ecfdd,#3ed0dd,#3ed0dd)"></i><i style="background:linear-gradient(90deg,#b2e546,#9be85e,#88e876,#78e88a,#6ae89a,#61e6a6,#59e5b0,#53e4b9,#4de2c0,#49e0c6,#47ddcb,#45dacf,#43d7d3,#42d5d6,#40d3d9,#3fd1db,#3ed0dd,#3ecfde,#3ecfde,#3ecfde,#3ecfde,#3ecfdd,#3ed0dd,#3fd0dd,#3fd0dd)"></i><i style="background:linear-gradient(90deg,#b7e541,#9fe859,#8be872,#7ae887,#6ce898,#62e6a5,#5ae5af,#54e4b8,#4ee3bf,#49e1c6,#47ddca,#45dacf,#43d7d2,#42d5d6,#40d3d9,#3fd1db,#3ed0dd,#3ecfde,#3ecfde,#3ecfde,#3ecfde,#3ed0dd,#3fd0dd,#3fd0dc,#3fd0dc)"></i><i style="background:linear-gradient(90deg,#bde43b,#a3e855,#8ee86e,#7ce884,#6ee896,#64e7a3,#5be5ae,#55e4b6,#4ee3be,#49e1c5,#47deca,#45dace,#43d7d2,#42d5d6,#40d3d9,#3fd1db,#3ed0dd,#3ecfde,#3ecfde,#3ecfde,#3ecfde,#3ed0dd,#3fd0dc,#3fd1dc,#3fd1db)"></i><i style="background:linear-gradient(90deg,#c3e335,#a8e750,#91e86a,#7fe881,#70e893,#65e7a1,#5de5ac,#56e4b5,#4fe3bd,#4ae2c5,#47dec9,#45dbce,#43d8d2,#42d5d6,#40d3d9,#3fd1dc,#3ecfdd,#3ecfde,#3ecedf,#3ecfde,#3ecfde,#3ed0dd,#3fd0dc,#3fd1db,#40d2da)"></i><i style="background:linear-gradient(90deg,#c8e230,#ace64c,#94e866,#81e87e,#72e891,#66e79f,#5ee5aa,#57e4b4,#50e3bc,#4ae2c4,#48dec9,#45dbce,#43d8d2,#42d5d6,#40d2d9,#3fd1dc,#3ecfde,#3ecedf,#3dcedf,#3ecedf,#3ecfde,#3ed0dd,#3fd1dc,#40d2da,#40d3d9)"></i><i style="background:linear-gradient(90deg,#cee12a,#b1e647,#98e862,#84e87a,#74e88e,#68e79d,#5fe6a9,#58e4b2,#51e3bb,#4be2c3,#48dfc9,#46dbce,#43d8d2,#42d5d6,#40d2d9,#3fd0dc,#3ecfde,#3dcedf,#3dcedf,#3dcedf,#3ecfde,#3ed0dd,#3fd1db,#40d2d9,#41d4d8)"></i><i style="background:linear-gradient(90deg,#d3e125,#b5e543,#9be85e,#87e877,#77e88b,#6ae89b,#60e6a7,#59e5b1,#52e3ba,#4be2c2,#48dfc8,#46dbcd,#44d8d2,#42d5d6,#40d2da,#3fd0dc,#3ecfde,#3dcee0,#3dcee0,#3dcedf,#3ecfde,#3fd0dd,#3fd1db,#40d3d9,#41d5d6)"></i><i style="background:linear-gradient(90deg,#d8e020,#bae43e,#9fe859,#8ae873,#79e888,#6be899,#62e6a5,#5ae5b0,#52e3b9,#4ce2c2,#48dfc8,#46dbcd,#44d8d2,#42d5d6,#40d2da,#3ed0dd,#3dcedf,#3dcde0,#3dcde0,#3dcee0,#3ecfde,#3fd0dd,#40d2da,#41d4d8,#42d6d5)"></i><i style="background:linear-gradient(90deg,#dbdc1c,#bfe439,#a3e855,#8de86f,#7ce885,#6de896,#63e6a3,#5be5ae,#53e4b8,#4ce2c1,#48dfc8,#46dccd,#44d8d2,#42d5d6,#40d2da,#3ed0dd,#3dcedf,#3dcde1,#3dcde1,#3dcde0,#3ecedf,#3fd0dc,#40d2da,#41d4d6,#43d7d3)"></i><i style="background:linear-gradient(90deg,#ded818,#c4e334,#a7e751,#91e86b,#7ee881,#70e893,#65e7a2,#5ce5ad,#54e4b7,#4de2c0,#48e0c7,#46dccd,#44d8d2,#42d5d6,#40d2da,#3ecfde,#3dcde0,#3ccde1,#3ccce1,#3dcde1,#3dcedf,#3fd0dc,#40d3d9,#42d5d5,#44d9d1)"></i><i style="background:linear-gradient(90deg,#e1d414,#c8e230,#abe64d,#94e867,#81e87e,#72e891,#66e7a0,#5de5ac,#55e4b6,#4de3c0,#49e0c7,#46dccc,#44d8d1,#42d5d6,#40d2da,#3ecfde,#3dcde1,#3ccce2,#3ccce2,#3ccde1,#3dcedf,#3fd0dc,#40d3d8,#43d6d4,#45dacf)"></i><i style="background:linear-gradient(90deg,#e4d010,#cde22b,#b0e648,#98e862,#84e87a,#74e88e,#68e79e,#5ee5aa,#55e4b5,#4ee3bf,#49e0c7,#46dccc,#44d8d1,#42d5d6,#3fd1db,#3ecfde,#3ccde1,#3ccbe2,#3ccbe2,#3ccce2,#3dcedf,#3fd0dc,#41d4d8,#43d7d2,#46dccc)"></i><i style="background:linear-gradient(90deg,#e7cc0c,#d2e126,#b5e543,#9be85e,#87e876,#77e88b,#69e89c,#5fe6a9,#56e4b4,#4ee3be,#49e0c6,#46dccc,#44d8d1,#42d5d6,#3fd1db,#3dcedf,#3ccce2,#3ccbe2,#3ccae2,#3ccce2,#3dcee0,#3fd1dc,#41d4d7,#44d9d1,#47deca)"></i><i style="background:linear-gradient(90deg,#eac808,#d8e020,#b9e43f,#9fe859,#8be872,#79e887,#6be899,#60e6a7,#57e4b3,#4fe3be,#49e1c6,#46dccc,#44d9d1,#42d5d6,#3fd1db,#3dcedf,#3ccce2,#3ccae2,#3ccae2,#3ccbe2,#3dcee0,#3fd1dc,#42d5d6,#45dacf,#48dfc8)"></i><i style="background:linear-gradient(90deg,#edc404,#dbdc1c,#bee43a,#a4e754,#8ee86e,#7ce884,#6de897,#61e6a6,#58e4b2,#4fe3bd,#49e1c5,#47ddcb,#44d9d1,#42d5d6,#3fd1db,#3dcee0,#3ccbe2,#3cc9e3,#3cc9e3,#3ccbe2,#3dcee0,#3fd1db,#42d6d5,#46dbcd,#4ae1c5)"></i><i style="background:linear-gradient(90deg,#f0bf00,#ded818,#c3e335,#a8e750,#92e86a,#7fe881,#6fe894,#63e6a4,#58e5b1,#50e3bc,#4ae1c5,#47ddcb,#44d9d0,#42d5d6,#3fd1db,#3dcde0,#3ccae2,#3cc8e3,#3cc8e3,#3ccae2,#3dcee0,#3fd1db,#43d6d4,#46dccc,#4ce2c1)"></i><i style="background:linear-gradient(90deg,#f0b800,#e2d313,#c9e22f,#ade64b,#95e865,#82e87d,#71e892,#64e7a2,#59e5b0,#51e3bb,#4ae2c5,#47ddca,#44d9d0,#42d5d6,#3fd1dc,#3dcde0,#3ccae2,#3bc7e3,#3cc8e3,#3ccae2,#3dcee0,#40d2da,#43d7d3,#47deca,#4fe3bd)"></i><i style="background:linear-gradient(90deg,#f0b100,#e5ce0e,#cee12a,#b1e647,#99e861,#85e879,#73e88f,#65e7a1,#5ae5af,#51e3ba,#4ae2c4,#47deca,#45d9d0,#42d5d6,#3fd1dc,#3dcde1,#3cc9e2,#3bc7e3,#3bc7e3,#3ccae2,#3dcee0,#40d2d9,#44d8d1,#48e0c7,#53e4b9)"></i><i style="background:linear-gradient(90deg,#f0a900,#e9c909,#d4e124,#b6e542,#9de85c,#88e876,#76e88c,#67e79f,#5be5ae,#52e3b9,#4be2c3,#47dec9,#45dacf,#42d5d6,#3fd1dc,#3ccde1,#3cc8e3,#3bc6e3,#3bc6e3,#3cc9e2,#3dcedf,#40d3d9,#45d9d0,#4ae1c5,#56e4b4)"></i><i style="background:linear-gradient(90deg,#f0a100,#edc404,#d9de1e,#bce43c,#a1e857,#8be872,#78e889,#68e79d,#5ce5ac,#53e4b8,#4be2c2,#48dec9,#45dacf,#42d5d5,#3fd1dc,#3ccde1,#3cc8e3,#3bc6e3,#3bc6e3,#3cc9e2,#3dcedf,#41d4d7,#45dbce,#4ce2c2,#5ae5af)"></i><i style="background:linear-gradient(90deg,#f09800,#f0be00,#ddda1a,#c1e337,#a5e753,#8ee86e,#7be886,#6ae89b,#5ee5ab,#54e4b7,#4ce2c1,#48dfc8,#45dace,#42d6d5,#3fd1dc,#3ccce2,#3bc7e3,#3bc5e3,#3bc6e3,#3cc9e2,#3ecfde,#41d5d6,#46dccc,#4fe3be,#5ee6aa)"></i><i style="background:linear-gradient(90deg,#f08e01,#f0b500,#e0d515,#c6e332,#aae74e,#92e869,#7de883,#6ce899,#5fe6a9,#55e4b6,#4de3c0,#48dfc8,#45dbce,#42d6d5,#3fd1dc,#3ccce2,#3bc7e3,#3bc5e3,#3bc6e3,#3ccae2,#3ecfde,#42d6d5,#47deca,#52e3ba,#62e6a5)"></i><i style="background:linear-gradient(90deg,#ee8304,#f0ad00,#e4d010,#cce22c,#afe649,#95e865,#80e87f,#6ee896,#60e6a7,#56e4b4,#4ee3bf,#49e0c7,#46dbcd,#42d6d4,#3fd1db,#3ccce2,#3bc7e3,#3bc5e3,#3bc6e3,#3ccae2,#3ed0dd,#43d7d3,#48dfc7,#56e4b5,#66e79f)"></i><i style="background:linear-gradient(90deg,#ed7708,#f0a300,#e8ca0a,#d2e126,#b3e545,#99e861,#83e87c,#70e893,#62e6a5,#57e4b3,#4fe3be,#49e1c6,#46dccc,#43d6d4,#3fd1db,#3ccce2,#3bc7e3,#3bc4e3,#3bc6e3,#3ccbe2,#3fd1dc,#44d8d2,#4ae1c5,#59e5b0,#6be89a)"></i><i style="background:linear-gradient(90deg,#eb6b0b,#f09900,#edc505,#d8e020,#b8e540,#9de85c,#86e878,#72e891,#63e6a3,#59e5b1,#50e3bc,#4ae1c5,#46dccc,#43d7d3,#3fd1db,#3ccce2,#3bc6e3,#3bc4e3,#3bc6e3,#3ccce2,#3fd1db,#45d9d0,#4ce2c1,#5ee5ab,#70e893)"></i><i style="background:linear-gradient(90deg,#ea5e0d,#f08e01,#f0be00,#dbdb1b,#bde43b,#a1e857,#89e874,#74e88e,#65e7a1,#5ae5af,#51e3ba,#4ae2c4,#47ddcb,#43d7d3,#3fd1db,#3ccce2,#3bc6e3,#3bc4e3,#3bc6e3,#3ccce2,#40d2d9,#46dbce,#50e3bd,#62e6a5,#75e88c)"></i><i style="background:linear-gradient(90deg,#e85010,#ee8205,#f0b600,#dfd616,#c3e335,#a5e753,#8ce870,#77e88a,#67e79f,#5ce5ad,#53e4b9,#4be2c2,#47deca,#44d8d2,#40d2da,#3ccce2,#3bc7e3,#3bc5e3,#3bc7e3,#3dcde1,#41d4d8,#47ddcb,#53e4b8,#67e79f,#7ce885)"></i><i style="background:linear-gradient(90deg,#e34210,#ed7508,#f0ac00,#e3d212,#c8e230,#a9e74f,#8fe86c,#7ae887,#69e79c,#5de5ab,#54e4b7,#4de2c1,#48dec9,#44d8d1,#40d2da,#3ccde1,#3bc7e3,#3bc5e3,#3cc8e3,#3dcedf,#42d5d6,#48dfc9,#57e4b3,#6ce898,#82e87d)"></i><i style="background:linear-gradient(90deg,#df3410,#eb680b,#f0a300,#e7cc0c,#cde22b,#aee64a,#93e868,#7de884,#6be89a,#5fe6a9,#56e4b4,#4ee3bf,#48dfc8,#44d9d0,#40d2d9,#3ccde1,#3bc7e3,#3bc6e3,#3cc9e3,#3ecfde,#43d6d4,#49e1c6,#5ce5ad,#73e890,#89e874)"></i><i style="background:linear-gradient(90deg,#d82a10,#e95b0e,#f09900,#ebc707,#d3e125,#b2e546,#96e864,#80e880,#6de897,#61e6a6,#58e4b2,#50e3bc,#49e0c6,#45dacf,#40d3d9,#3dcde0,#3cc8e3,#3bc6e3,#3ccae2,#3fd0dc,#44d8d2,#4be2c2,#60e6a7,#7ae887,#91e86a)"></i><i style="background:linear-gradient(90deg,#d12010,#e74d10,#f08f01,#efc202,#d8e020,#b7e541,#9ae85f,#83e87c,#70e893,#63e6a3,#5ae5af,#52e3ba,#49e1c5,#45dace,#41d3d8,#3dcee0,#3cc8e3,#3bc7e3,#3ccce2,#3fd1db,#45dacf,#4fe3be,#65e7a1,#82e87d,#9ae860)"></i><i style="background:linear-gradient(90deg,#c91910,#e23f10,#ee8304,#f0bb00,#dcdb1b,#bce43c,#9ee85b,#86e878,#73e890,#66e7a0,#5ce5ad,#53e4b8,#4ae2c4,#46dbcd,#41d4d7,#3dcedf,#3cc9e2,#3cc9e3,#3dcde1,#40d3d9,#46dccc,#53e4b9,#6ae89a,#8ae873,#a4e754)"></i><i style="background:linear-gradient(90deg,#c11410,#de3210,#ed7808,#f0b300,#dfd717,#c0e338,#a2e856,#89e874,#76e88c,#68e79d,#5ee6aa,#55e4b5,#4ce2c1,#46dccc,#42d5d6,#3ecfde,#3ccae2,#3ccae2,#3dcedf,#41d5d6,#47deca,#57e4b3,#70e893,#93e868,#afe649)"></i><i style="background:linear-gradient(90deg,#b7110f,#d72910,#ec6c0b,#f0ab00,#e2d313,#c5e333,#a6e752,#8de86f,#79e888,#6be89a,#61e6a7,#58e4b2,#4ee3bf,#47ddcb,#42d6d5,#3ecfde,#3ccbe2,#3ccce2,#3ecfdd,#43d6d4,#49e0c7,#5be5ae,#76e88c,#9ce85d,#bbe43d)"></i><i style="background:linear-gradient(90deg,#ac0f0e,#d12010,#ea610d,#f0a300,#e5ce0e,#cae22e,#aae74e,#91e86b,#7de883,#6ee896,#63e6a3,#5ae5af,#50e3bc,#48dec9,#43d6d4,#3fd0dd,#3ccce1,#3dcde1,#3fd1db,#44d8d1,#4be2c3,#5fe6a8,#7ce884,#a4e754,#c7e231)"></i><i style="background:linear-gradient(90deg,#a40d0d,#ca1a10,#e9560f,#f09b00,#e9ca0a,#cfe129,#afe649,#95e866,#80e87f,#71e892,#66e7a0,#5ce5ac,#52e3ba,#48dfc8,#43d7d3,#3fd1db,#3dcde0,#3dcedf,#40d3d9,#45dbce,#4fe3be,#64e7a3,#81e87e,#ace64c,#d1e127)"></i><i style="background:linear-gradient(90deg,#9f0c0c,#c31510,#e74c10,#f09400,#ecc606,#d4e124,#b3e545,#99e861,#84e87a,#75e88d,#69e79c,#5fe6a9,#54e4b7,#49e0c6,#44d8d1,#40d2da,#3ecedf,#3ecfdd,#41d5d6,#47ddcb,#53e4b8,#68e79d,#87e877,#b2e546,#d7e021)"></i></div>
<div class="hm" style="left:523px;top:163px"><i style="background:linear-gradient(90deg,#98e862,#a0e858,#abe64d,#b4e544,#bce43c,#c1e337,#c5e333,#c9e22f,#cce22c,#cfe129,#d0e128,#cfe129,#cae22e,#c0e338,#b2e546,#a2e856,#94e867,#88e876,#7de883,#74e88f,#6be89a,#63e6a4,#5be5ae,#54e4b8,#4ee3bf)"></i><i style="background:linear-gradient(90deg,#8fe86d,#98e862,#a4e754,#afe649,#b8e540,#bfe439,#c5e333,#c9e22f,#cce22c,#cee12a,#cee12a,#cce22c,#c7e231,#bde43b,#b0e648,#a2e856,#94e867,#87e877,#7be885,#70e893,#67e79f,#5fe6a9,#58e4b2,#53e4b8,#53e4b8)"></i><i style="background:linear-gradient(90deg,#83e87b,#8ee86f,#9be85f,#a7e751,#b1e647,#bae43e,#c0e338,#c4e334,#c7e231,#c9e22f,#c9e22f,#c6e332,#c0e338,#b7e541,#abe64d,#9ee85a,#91e86b,#84e87b,#77e88b,#6be899,#61e6a6,#59e5b1,#53e4b8,#51e3bb,#55e4b6)"></i><i style="background:linear-gradient(90deg,#76e88c,#81e87f,#8fe86d,#9ce85d,#a8e750,#b1e647,#b8e540,#bde43b,#c0e338,#c1e337,#c0e338,#bde43b,#b7e541,#aee64a,#a4e754,#98e862,#8be872,#7ee882,#70e893,#65e7a2,#5ae5af,#52e3ba,#4ce2c1,#4ce2c1,#54e4b7)"></i><i style="background:linear-gradient(90deg,#67e79f,#72e891,#82e87d,#90e86c,#9ce85d,#a6e752,#ade64b,#b3e545,#b6e542,#b7e541,#b5e543,#b1e647,#abe64d,#a3e855,#9ae85f,#90e86c,#84e87b,#76e88b,#69e79c,#5de5ab,#53e4b9,#4ae2c4,#48dfc9,#48dfc8,#51e3bb)"></i><i style="background:linear-gradient(90deg,#59e5b1,#64e7a3,#73e88f,#83e87c,#8fe86c,#9ae860,#a1e857,#a7e751,#aae74e,#abe64d,#a8e750,#a4e754,#9ee85a,#98e862,#90e86c,#87e877,#7be885,#6ee895,#62e6a6,#55e4b5,#4be2c3,#47ddcb,#44d9d0,#45dacf,#4ce2c2)"></i><i style="background:linear-gradient(90deg,#4ae2c4,#56e4b5,#66e7a0,#75e88d,#83e87c,#8de86f,#96e865,#9be85e,#9ee85a,#9ee85a,#9ce85d,#97e863,#92e869,#8ce870,#85e879,#7de883,#72e890,#66e79f,#5ae5af,#4ee3bf,#47ddcb,#43d7d3,#41d3d8,#41d4d7,#47dec9)"></i><i style="background:linear-gradient(90deg,#44d9d1,#49e1c6,#59e5b0,#69e79c,#76e88b,#82e87d,#8ae873,#90e86c,#93e868,#92e869,#90e86c,#8be871,#86e878,#81e87e,#7be886,#73e88f,#6ae89b,#5fe6a9,#53e4b9,#48dfc7,#44d8d2,#40d2da,#3dcde0,#3dcde0,#43d8d2)"></i><i style="background:linear-gradient(90deg,#3ecfdd,#44d9d1,#4ee3bf,#5ee6aa,#6be899,#76e88b,#7fe880,#85e879,#88e875,#88e876,#85e87a,#80e87f,#7be885,#76e88b,#71e892,#6be89a,#63e6a4,#58e5b2,#4ce2c2,#46dbcd,#41d3d8,#3ccde1,#3bc5e3,#3bc2e4,#3fd0dc)"></i><i style="background:linear-gradient(90deg,#3bc4e3,#3fd1db,#47deca,#55e4b6,#62e6a5,#6de897,#76e88c,#7ce884,#7fe881,#7ee882,#7be886,#76e88b,#71e891,#6de897,#69e79c,#64e7a2,#5de5ac,#52e3b9,#48dfc7,#43d7d3,#3ecfdd,#3bc6e3,#3abce5,#3ab6e6,#3bc4e3)"></i><i style="background:linear-gradient(90deg,#3ab6e6,#3cc9e3,#44d8d1,#4ce2c1,#5ae5af,#65e7a1,#6ee896,#74e88e,#77e88b,#76e88c,#73e890,#6ee896,#6ae89b,#66e7a0,#63e6a4,#5ee6aa,#57e4b3,#4de3c0,#46dccc,#41d4d7,#3ccce2,#3bbfe4,#39b3e6,#38a9e8,#39b3e6)"></i><i style="background:linear-gradient(90deg,#38aae8,#3bbfe4,#41d3d8,#48dfc8,#54e4b7,#5fe6a9,#67e79e,#6de897,#70e893,#6fe894,#6ce898,#68e79e,#64e7a3,#61e6a7,#5ee5ab,#5ae5b0,#53e4b8,#4ae2c4,#45dacf,#40d2da,#3cc8e3,#3abae5,#38abe7,#389ae7,#389fe8)"></i><i style="background:linear-gradient(90deg,#389de7,#3ab6e6,#3ecfde,#46dbcd,#4ee3be,#5ae5b0,#62e6a4,#68e79d,#6be89a,#6ae89b,#67e79f,#63e6a4,#5fe6a9,#5ce5ad,#59e5b0,#56e4b5,#50e3bc,#49e0c7,#44d8d1,#3ed0dd,#3bc5e3,#3ab6e6,#38a4e8,#388be7,#3886e6)"></i><i style="background:linear-gradient(90deg,#3890e7,#39aee7,#3ccbe2,#44d8d1,#4ae2c4,#56e4b5,#5fe6a9,#64e7a2,#67e79f,#66e7a0,#63e6a4,#5fe6a9,#5be5ae,#58e5b1,#56e4b4,#53e4b8,#4de3c0,#48dec9,#43d7d3,#3ecfde,#3bc2e4,#39b3e6,#389ee8,#387ce5,#396ae3)"></i><i style="background:linear-gradient(90deg,#3884e6,#38a7e8,#3bc6e3,#42d6d4,#49e0c7,#53e4b9,#5be5ae,#61e6a6,#64e7a3,#63e6a4,#60e6a8,#5ce5ad,#58e4b2,#56e4b5,#54e4b7,#51e3bb,#4ce2c2,#47ddca,#42d6d4,#3dcedf,#3bc1e4,#39b1e7,#3899e7,#396ee4,#3a53df)"></i><i style="background:linear-gradient(90deg,#3976e5,#38a0e8,#3bc2e4,#41d4d7,#48dec9,#50e3bc,#59e5b1,#5fe6a9,#61e6a6,#61e6a7,#5de5ab,#59e5b0,#56e4b5,#54e4b7,#52e3ba,#4fe3bd,#4ae2c4,#47ddcb,#42d6d5,#3dcee0,#3bc0e4,#39afe7,#3896e7,#3a64e2,#3946dc)"></i><i style="background:linear-gradient(90deg,#3a67e3,#3899e7,#3bbfe4,#40d2d9,#47ddcb,#4ee3bf,#57e4b4,#5de5ac,#5fe6a8,#5fe6a9,#5ce5ad,#58e4b2,#54e4b7,#52e3b9,#51e3bb,#4ee3bf,#4ae2c5,#46dccc,#42d6d5,#3dcee0,#3bc0e4,#39afe7,#3895e7,#3a61e2,#3842da)"></i><i style="background:linear-gradient(90deg,#3a5be1,#3894e7,#3abce5,#3fd1db,#46dbcd,#4ce2c2,#55e4b6,#5be5ae,#5ee5ab,#5de5ac,#5ae5af,#56e4b4,#53e4b8,#51e3bb,#50e3bd,#4de3c0,#49e1c5,#46dccc,#42d6d5,#3dcee0,#3bc0e4,#39afe7,#3895e7,#3a62e2,#3845dc)"></i><i style="background:linear-gradient(90deg,#3a51df,#388fe7,#3abae5,#3fd0dd,#45dace,#4ae2c4,#53e4b8,#59e5b0,#5ce5ad,#5be5ad,#59e5b1,#55e4b6,#52e3ba,#50e3bc,#4fe3be,#4de2c1,#49e1c6,#46dccc,#42d6d5,#3dcedf,#3bc1e4,#39b0e7,#3896e7,#3a68e3,#3a4ede)"></i><i style="background:linear-gradient(90deg,#3948dd,#388be7,#3ab8e5,#3ecfde,#45d9d0,#49e1c5,#52e3ba,#58e4b2,#5ae5af,#5ae5af,#57e4b3,#54e4b7,#51e3bb,#4fe3bd,#4ee3bf,#4ce2c2,#49e1c6,#46dccc,#42d6d4,#3ecfde,#3bc2e4,#39b2e6,#3899e7,#3972e4,#3a5ce1)"></i><i style="background:linear-gradient(90deg,#3842da,#3887e6,#3ab7e6,#3dcedf,#44d8d1,#49e0c6,#50e3bc,#56e4b4,#59e5b1,#59e5b1,#56e4b4,#53e4b8,#50e3bc,#4ee3be,#4de3c0,#4be2c2,#49e0c6,#46dccc,#43d6d4,#3ecfde,#3bc4e3,#39b3e6,#389ce7,#387ce5,#396ae3)"></i><i style="background:linear-gradient(90deg,#363ed9,#3885e6,#39b5e6,#3dcde0,#43d8d2,#48dfc8,#4fe3be,#55e4b6,#58e4b2,#57e4b3,#55e4b6,#52e3ba,#4fe3bd,#4ee3bf,#4de2c1,#4be2c3,#49e0c6,#46dccc,#43d7d3,#3fd0dd,#3bc5e3,#39b5e6,#38a0e8,#3885e6,#3879e5)"></i><i style="background:linear-gradient(90deg,#363cd8,#3884e6,#39b4e6,#3ccde1,#43d7d3,#48dec9,#4de3c0,#53e4b8,#56e4b4,#56e4b4,#54e4b7,#51e3bb,#4fe3be,#4de3c0,#4ce2c1,#4ae2c4,#49e0c7,#46dccc,#43d7d3,#3fd1dc,#3bc7e3,#3ab8e5,#38a4e8,#388de7,#3884e6)"></i><i style="background:linear-gradient(90deg,#363dd8,#3884e6,#39b4e6,#3ccce2,#42d6d4,#47ddca,#4ce2c2,#52e3ba,#55e4b6,#55e4b6,#53e4b8,#50e3bc,#4ee3bf,#4ce2c1,#4be2c2,#4ae2c4,#49e0c7,#46dccc,#43d8d2,#40d2da,#3cc9e2,#3abae5,#38a9e8,#3894e7,#388ce7)"></i><i style="background:linear-gradient(90deg,#3741da,#3884e6,#39b3e6,#3ccbe2,#42d5d5,#47ddcb,#4ae2c4,#50e3bc,#53e4b8,#54e4b8,#52e3ba,#50e3bd,#4de3c0,#4ce2c2,#4be2c3,#4ae2c5,#49e0c7,#47ddcb,#44d8d2,#40d2d9,#3ccbe2,#3abde5,#38ace7,#389ae7,#3892e7)"></i><i style="background:linear-gradient(90deg,#3946dc,#3886e6,#39b3e6,#3ccae2,#41d4d6,#46dccd,#49e1c5,#4ee3be,#52e3ba,#52e3b9,#51e3bb,#4fe3be,#4de2c0,#4be2c2,#4ae2c4,#4ae1c5,#48e0c7,#47ddcb,#44d9d1,#41d3d8,#3ccde1,#3bc0e4,#39b0e7,#38a0e8,#3897e7)"></i><i style="background:linear-gradient(90deg,#3a4cde,#3888e6,#39b2e6,#3cc9e2,#41d4d7,#45dbce,#49e0c7,#4de3c0,#50e3bc,#51e3bb,#50e3bc,#4ee3bf,#4ce2c1,#4be2c3,#4ae2c4,#49e1c5,#48dfc8,#47ddcb,#44d9d0,#41d4d7,#3dcee0,#3bc2e4,#39b3e6,#38a4e8,#389ae7)"></i><i style="background:linear-gradient(90deg,#3a56e0,#388be7,#39b3e6,#3cc8e3,#40d3d8,#45dacf,#48dfc8,#4be2c2,#4fe3be,#50e3bc,#4fe3bd,#4de3c0,#4ce2c2,#4ae2c3,#4ae2c5,#49e1c6,#48dfc8,#47ddcb,#45d9d0,#42d5d6,#3ecfde,#3bc5e3,#3ab7e6,#38a8e8,#389de7)"></i><i style="background:linear-gradient(90deg,#3a5fe1,#388ee7,#39b3e6,#3cc8e3,#40d2d9,#44d9d0,#48dec9,#4ae2c4,#4ee3bf,#4fe3be,#4ee3bf,#4de2c0,#4be2c3,#4ae2c4,#4ae1c5,#49e1c6,#48dfc8,#47ddcb,#45dacf,#42d6d5,#3fd0dc,#3bc7e3,#3abae5,#38ace7,#38a0e8)"></i><i style="background:linear-gradient(90deg,#3a69e3,#3892e7,#39b3e6,#3bc7e3,#40d2da,#44d8d1,#47ddca,#49e1c5,#4ce2c1,#4ee3bf,#4de3c0,#4ce2c1,#4be2c3,#4ae2c4,#49e1c5,#49e0c6,#48dfc8,#47ddcb,#45dace,#43d6d4,#3fd1db,#3ccae2,#3abde5,#39afe7,#38a2e8)"></i><i style="background:linear-gradient(90deg,#3974e4,#3895e7,#39b4e6,#3bc7e3,#3fd1db,#43d7d2,#47ddcb,#49e0c6,#4be2c2,#4de2c0,#4de2c1,#4ce2c2,#4ae2c4,#4ae2c5,#49e1c5,#49e0c6,#48dfc8,#47ddca,#45dbce,#43d7d3,#40d2da,#3ccce2,#3bbfe4,#39b2e6,#38a5e8)"></i><i style="background:linear-gradient(90deg,#387ee6,#3899e7,#39b4e6,#3bc6e3,#3fd0dc,#43d7d3,#46dccc,#48e0c7,#4ae2c4,#4ce2c2,#4ce2c1,#4be2c2,#4ae2c4,#4ae1c5,#49e1c6,#49e0c7,#48dfc8,#47ddca,#46dbcd,#43d8d2,#41d3d8,#3dcde0,#3bc2e4,#39b5e6,#38a8e8)"></i><i style="background:linear-gradient(90deg,#3887e6,#389de7,#39b5e6,#3bc6e3,#3fd0dd,#42d6d4,#46dbcd,#48dfc8,#4ae2c5,#4be2c3,#4be2c2,#4be2c3,#4ae2c4,#4ae1c5,#49e1c6,#49e0c7,#48dfc8,#47deca,#46dccd,#44d8d1,#41d4d7,#3ecedf,#3bc5e3,#3ab8e5,#38aae8)"></i><i style="background:linear-gradient(90deg,#388fe7,#38a1e8,#3ab6e6,#3bc6e3,#3ecfdd,#42d5d5,#45dace,#48dec9,#49e1c5,#4ae2c3,#4be2c3,#4ae2c3,#4ae2c4,#4ae1c5,#49e1c6,#49e0c7,#48dfc8,#47deca,#46dccc,#44d9d0,#42d5d6,#3ed0dd,#3bc7e3,#3abbe5,#39aee7)"></i><i style="background:linear-gradient(90deg,#3896e7,#38a4e8,#3ab7e6,#3bc5e3,#3ecfde,#42d5d6,#45dacf,#47deca,#49e1c6,#4ae2c4,#4be2c3,#4ae2c4,#4ae2c4,#49e1c5,#49e1c6,#49e0c7,#48dfc8,#47dec9,#46dccc,#45d9d0,#42d6d5,#3fd1dc,#3ccae2,#3abee4,#39b1e6)"></i><i style="background:linear-gradient(90deg,#389de7,#38a8e8,#3ab8e5,#3bc5e3,#3ecfde,#41d4d6,#44d9d0,#47ddca,#49e0c7,#4ae2c4,#4ae2c4,#4ae2c4,#4ae2c5,#49e1c5,#49e1c6,#49e0c6,#48dfc8,#48dec9,#46dccc,#45dacf,#43d6d4,#40d2da,#3ccce2,#3bc1e4,#39b5e6)"></i><i style="background:linear-gradient(90deg,#38a3e8,#38abe7,#3ab9e5,#3bc5e3,#3ecedf,#41d4d7,#44d9d0,#47ddcb,#49e0c7,#4ae1c5,#4ae2c4,#4ae2c4,#4ae2c5,#49e1c5,#49e1c6,#49e0c6,#48e0c7,#48dec9,#47ddcb,#45dacf,#43d7d3,#40d3d9,#3dcee0,#3bc5e3,#3ab9e5)"></i><i style="background:linear-gradient(90deg,#38a9e8,#39aee7,#3abae5,#3bc6e3,#3dcedf,#41d4d7,#44d9d1,#47ddcb,#48e0c7,#49e1c5,#4ae2c4,#4ae2c4,#4ae1c5,#49e1c5,#49e1c6,#49e0c6,#49e0c7,#48dfc9,#47ddcb,#45dbce,#43d8d2,#41d4d8,#3ecfde,#3cc8e3,#3abee4)"></i><i style="background:linear-gradient(90deg,#39aee7,#39b2e6,#3abce5,#3bc6e3,#3dcedf,#41d3d8,#44d8d1,#46dccc,#48dfc8,#49e1c5,#4ae2c4,#4ae2c4,#4ae1c5,#49e1c5,#49e1c5,#49e0c6,#49e0c7,#48dfc8,#47ddcb,#45dbce,#44d8d2,#41d4d6,#3fd0dc,#3ccbe2,#3bc2e4)"></i><i style="background:linear-gradient(90deg,#39b3e6,#39b5e6,#3abde4,#3bc7e3,#3dcedf,#41d3d8,#44d8d2,#46dccc,#48dfc8,#49e1c6,#4ae2c5,#4ae2c5,#4ae1c5,#49e1c5,#49e1c5,#49e1c6,#49e0c7,#48dfc8,#47ddca,#46dbcd,#44d8d1,#42d5d5,#40d2da,#3dcee0,#3bc7e3)"></i><i style="background:linear-gradient(90deg,#3ab8e5,#3ab8e5,#3bbfe4,#3bc7e3,#3dcedf,#41d3d8,#44d8d2,#46dccc,#48dfc8,#49e1c6,#4ae1c5,#4ae1c5,#4ae1c5,#49e1c5,#49e1c5,#49e1c6,#49e0c7,#48dfc8,#47ddca,#46dbcd,#44d9d0,#42d6d4,#40d3d9,#3ed0dd,#3ccce2)"></i><i style="background:linear-gradient(90deg,#3abde5,#3abce5,#3bc1e4,#3cc8e3,#3ecfde,#41d3d8,#44d8d2,#46dccc,#48dfc8,#49e1c6,#4ae1c5,#4ae1c5,#49e1c5,#49e1c5,#49e1c6,#49e1c6,#49e0c7,#48dfc8,#47ddca,#46dbcd,#44d9d0,#43d7d3,#41d4d7,#40d2da,#3ecfde)"></i><i style="background:linear-gradient(90deg,#3bc1e4,#3bbfe4,#3bc3e3,#3ccae2,#3ecfde,#41d4d8,#44d8d2,#46dccc,#48dfc8,#49e1c6,#49e1c5,#49e1c5,#49e1c5,#49e1c6,#49e1c6,#49e1c6,#49e0c7,#48dfc8,#47ddca,#46dccd,#45dad0,#43d7d2,#42d5d5,#41d4d8,#40d2da)"></i><i style="background:linear-gradient(90deg,#3bc6e3,#3bc3e4,#3bc5e3,#3ccbe2,#3ed0dd,#41d4d7,#44d8d1,#46dccc,#48dfc8,#49e0c6,#49e1c5,#49e1c5,#49e1c6,#49e1c6,#49e1c6,#49e1c6,#49e0c7,#48dfc8,#47ddca,#46dccd,#45dacf,#44d8d2,#43d7d4,#42d5d5,#42d5d6)"></i><i style="background:linear-gradient(90deg,#3ccae2,#3bc6e3,#3cc8e3,#3ccce1,#3fd0dc,#41d4d7,#44d8d1,#46dccc,#48dfc8,#49e0c6,#49e1c6,#49e1c6,#49e0c6,#49e0c6,#49e0c6,#49e0c6,#49e0c7,#48dfc8,#47ddca,#46dccd,#45dacf,#44d9d1,#43d8d2,#43d7d3,#43d8d2)"></i><i style="background:linear-gradient(90deg,#3dcee0,#3ccae2,#3ccbe2,#3dcee0,#3fd1db,#42d5d6,#44d9d0,#46dccc,#48dfc8,#49e0c6,#49e1c6,#49e0c6,#49e0c7,#49e0c7,#49e0c7,#49e0c7,#49e0c7,#48dfc8,#47ddca,#46dccd,#45dacf,#44d9d0,#44d9d1,#44d9d0,#45dace)"></i><i style="background:linear-gradient(90deg,#3fd1dc,#3dcde0,#3dcde0,#3ecfde,#40d2da,#42d6d5,#44d9d0,#47ddcb,#48dfc8,#49e0c7,#49e0c6,#49e0c7,#48e0c7,#48e0c7,#49e0c7,#49e0c7,#48dfc8,#48dec9,#47ddcb,#46dccd,#45dace,#45dacf,#45dacf,#45dbce,#47ddcb)"></i><i style="background:linear-gradient(90deg,#41d3d8,#3ed0dd,#3ecfde,#3fd1dc,#41d3d8,#43d7d4,#45dacf,#47ddcb,#48dfc8,#49e0c7,#49e0c7,#48dfc7,#48dfc8,#48dfc8,#48dfc8,#48dfc8,#48dfc8,#48dec9,#47ddcb,#46dccd,#45dbce,#45dacf,#45dbce,#46dccc,#48dfc8)"></i><i style="background:linear-gradient(90deg,#42d6d4,#40d2d9,#40d2da,#40d3d9,#42d5d6,#43d8d2,#45dbce,#47ddca,#48dfc8,#49e0c7,#48e0c7,#48dfc8,#48dec9,#48dec9,#48dfc9,#48dfc8,#48dfc9,#47deca,#47ddcb,#46dccd,#45dbce,#45dbce,#46dccd,#47deca,#49e1c5)"></i><i style="background:linear-gradient(90deg,#44d9d0,#42d5d6,#41d4d7,#41d5d6,#43d6d4,#44d9d1,#46dbcd,#47deca,#48dfc8,#48e0c7,#48dfc8,#48dec9,#47deca,#47deca,#47deca,#48dec9,#48dec9,#47ddca,#46dccc,#46dccd,#46dbce,#46dbcd,#46dccc,#48dfc8,#4be2c2)"></i><i style="background:linear-gradient(90deg,#46dccc,#44d8d2,#43d6d4,#43d7d3,#44d8d2,#45dacf,#46dccc,#48dec9,#48dfc8,#48dfc8,#48dfc9,#47deca,#47ddcb,#47ddcb,#47ddcb,#47ddca,#47ddca,#47ddcb,#46dccc,#46dbcd,#46dbcd,#46dccd,#47ddcb,#49e0c7,#4ee3bf)"></i><i style="background:linear-gradient(90deg,#48dfc9,#45dbce,#44d9d0,#44d9d0,#45dacf,#46dbcd,#47ddcb,#48dfc9,#48dfc8,#48dfc8,#48dec9,#47ddcb,#46dccc,#46dccc,#46dccc,#47ddcb,#47ddcb,#46dccc,#46dccc,#46dbcd,#46dbcd,#46dccc,#47deca,#49e1c5,#50e3bd)"></i><i style="background:linear-gradient(90deg,#4ae1c5,#47deca,#46dccc,#46dbcd,#46dccc,#47ddcb,#47dec9,#48dfc8,#48dfc8,#48dfc8,#47deca,#46dccc,#46dbcd,#46dbcd,#46dbcd,#46dccc,#46dccc,#46dccc,#46dbcd,#46dbcd,#46dbcd,#46dccc,#48dfc9,#4ae2c4,#52e3ba)"></i><i style="background:linear-gradient(90deg,#4ee3bf,#49e1c6,#48dfc8,#47deca,#47deca,#48dec9,#48dfc8,#48e0c7,#48dfc8,#48dec9,#47ddcb,#46dccd,#45dace,#45dacf,#45dace,#46dbce,#46dbcd,#46dbcd,#46dbce,#46dbce,#46dbcd,#47ddcb,#48dfc8,#4be2c2,#53e4b8)"></i><i style="background:linear-gradient(90deg,#52e3ba,#4de3c0,#4ae2c4,#49e0c6,#49e0c7,#49e0c7,#49e0c7,#49e0c7,#48dfc7,#48dec9,#46dccc,#45dbce,#45dad0,#44d9d0,#45d9d0,#45dacf,#45dace,#45dbce,#45dbce,#45dbce,#46dbcd,#47ddcb,#49e0c7,#4de2c1,#55e4b6)"></i><i style="background:linear-gradient(90deg,#56e4b4,#52e3ba,#4ee3bf,#4ce2c2,#4ae2c4,#4ae1c5,#49e1c5,#49e0c6,#48dfc7,#47deca,#46dccc,#45dacf,#44d9d1,#44d8d1,#44d9d1,#44d9d0,#45dacf,#45dacf,#45dacf,#45dbce,#46dccd,#47ddca,#49e0c6,#4ee3bf,#56e4b4)"></i><i style="background:linear-gradient(90deg,#5be5ae,#56e4b4,#53e4b9,#4fe3bd,#4de3c0,#4ce2c2,#4ae2c4,#49e1c5,#48e0c7,#47deca,#46dbcd,#44d9d0,#44d8d2,#43d7d3,#43d8d2,#44d8d1,#44d9d1,#44d9d0,#45dacf,#45dacf,#46dccd,#47deca,#49e1c6,#4fe3be,#57e4b3)"></i><i style="background:linear-gradient(90deg,#5fe6a9,#5be5ae,#57e4b3,#53e4b8,#50e3bc,#4ee3bf,#4ce2c2,#4ae1c5,#48e0c7,#47ddcb,#45dbce,#44d9d1,#43d7d3,#43d6d4,#43d7d4,#43d7d3,#44d8d2,#44d8d1,#44d9d0,#45dacf,#46dccd,#47deca,#4ae1c5,#50e3bc,#59e5b1)"></i><i style="background:linear-gradient(90deg,#63e6a3,#60e6a8,#5ce5ad,#57e4b3,#54e4b8,#50e3bc,#4de3c0,#4ae2c4,#48dfc7,#47ddcb,#45dacf,#44d8d2,#42d6d4,#42d6d5,#42d6d5,#43d6d4,#43d7d3,#43d8d2,#44d9d1,#45dacf,#46dbcd,#48dec9,#4ae2c4,#51e3bb,#5ae5b0)"></i><i style="background:linear-gradient(90deg,#68e79e,#65e7a2,#60e6a8,#5be5ae,#57e4b4,#52e3b9,#4ee3be,#4ae2c4,#48dfc7,#47ddcb,#45dacf,#43d7d3,#42d5d5,#42d5d6,#42d5d6,#42d5d5,#43d6d4,#43d7d3,#44d8d2,#45d9d0,#46dbcd,#48dec9,#4ae2c4,#52e3ba,#5be5ae)"></i><i style="background:linear-gradient(90deg,#6ce898,#69e79c,#64e7a2,#5fe6a9,#5ae5b0,#54e4b6,#50e3bd,#4be2c3,#48dfc8,#46dccc,#44d9d0,#43d7d4,#42d5d6,#41d4d7,#41d4d7,#41d5d6,#42d5d5,#43d6d4,#43d7d2,#44d9d0,#46dbcd,#48dec9,#4be2c3,#53e4b8,#5ce5ac)"></i><i style="background:linear-gradient(90deg,#70e892,#6ee896,#68e79d,#62e6a5,#5ce5ac,#56e4b4,#51e3bb,#4be2c2,#48dfc8,#46dccc,#44d9d1,#42d6d4,#41d4d7,#41d3d8,#41d3d8,#41d4d7,#42d5d6,#42d6d5,#43d7d3,#44d9d1,#46dbcd,#48dec9,#4be2c2,#54e4b7,#5ee5ab)"></i><i style="background:linear-gradient(90deg,#75e88d,#73e890,#6ce898,#66e7a0,#5fe6a9,#58e4b2,#52e3ba,#4ce2c2,#48dfc8,#46dccd,#44d8d1,#42d6d5,#41d4d8,#40d3d9,#40d3d9,#40d3d8,#41d4d7,#42d5d6,#43d6d4,#44d8d1,#45dbce,#48dfc9,#4ce2c1,#55e4b6,#5fe6a9)"></i><i style="background:linear-gradient(90deg,#7ae887,#77e88a,#71e892,#69e79c,#61e6a6,#5ae5b0,#53e4b9,#4ce2c2,#48dfc8,#46dbcd,#44d8d2,#42d5d5,#41d3d8,#40d2da,#40d2da,#40d2d9,#41d3d8,#41d4d7,#42d6d5,#44d8d2,#45dbce,#48dfc9,#4de2c1,#56e4b4,#61e6a6)"></i><i style="background:linear-gradient(90deg,#7ee882,#7ce884,#75e88d,#6be899,#63e6a4,#5be5ae,#53e4b8,#4ce2c2,#48dfc8,#46dbce,#43d8d2,#42d5d6,#40d3d9,#40d2da,#3fd1db,#40d2da,#40d3d9,#41d4d8,#42d5d5,#43d7d3,#45dace,#48dec9,#4de3c0,#57e4b3,#63e6a4)"></i><i style="background:linear-gradient(90deg,#83e87c,#80e87f,#78e889,#6ee895,#65e7a1,#5ce5ad,#54e4b8,#4ce2c2,#48dfc9,#45dbce,#43d7d2,#42d5d6,#40d3d9,#3fd1db,#3fd1db,#3fd1db,#40d2da,#40d3d8,#41d5d6,#43d7d3,#45dacf,#48dec9,#4de3bf,#59e5b1,#65e7a1)"></i><i style="background:linear-gradient(90deg,#87e877,#84e87a,#7ce885,#71e892,#66e79f,#5de5ac,#54e4b7,#4ce2c2,#48dec9,#45dace,#43d7d3,#41d5d6,#40d3d9,#3fd1db,#3fd1dc,#3fd1dc,#3fd1db,#40d2d9,#41d4d7,#43d6d4,#45dacf,#48dec9,#4ee3bf,#5ae5af,#67e79e)"></i><i style="background:linear-gradient(90deg,#8be871,#89e875,#7fe881,#73e88f,#68e79e,#5de5ab,#54e4b7,#4be2c2,#48dec9,#45dacf,#43d7d3,#41d4d7,#40d2d9,#3fd1db,#3fd0dc,#3fd0dc,#3fd1dc,#40d2da,#41d3d8,#42d6d5,#44d9d0,#48dec9,#4ee3be,#5be5ae,#6ae89b)"></i><i style="background:linear-gradient(90deg,#90e86c,#8ce870,#82e87d,#75e88d,#69e79c,#5ee6aa,#54e4b7,#4be2c2,#47deca,#45dacf,#43d7d3,#41d4d7,#40d2da,#3fd1dc,#3ed0dd,#3ed0dd,#3fd0dc,#3fd1db,#40d3d9,#42d5d6,#44d9d1,#47dec9,#4fe3be,#5de5ac,#6de897)"></i><i style="background:linear-gradient(90deg,#94e866,#90e86b,#85e87a,#77e88b,#6ae89b,#5ee6aa,#54e4b7,#4be2c3,#47deca,#45dacf,#43d7d3,#41d4d7,#40d2da,#3fd0dc,#3ecfde,#3ecfde,#3ecfdd,#3fd0dc,#40d2da,#41d5d6,#44d8d1,#47deca,#4fe3bd,#5ee6aa,#70e893)"></i><i style="background:linear-gradient(90deg,#99e861,#94e867,#87e876,#78e889,#6ae89a,#5ee6a9,#54e4b7,#4ae2c4,#47ddca,#45d9d0,#43d6d4,#41d4d7,#40d2da,#3fd0dd,#3ecfde,#3dcedf,#3ecfde,#3ed0dd,#3fd1db,#41d4d7,#44d8d2,#47deca,#50e3bd,#60e6a8,#73e88f)"></i><i style="background:linear-gradient(90deg,#9de85b,#98e862,#8ae873,#7ae887,#6be89a,#5fe6a9,#53e4b8,#4ae2c4,#47ddcb,#44d9d0,#43d6d4,#41d4d7,#40d2da,#3ed0dd,#3dcedf,#3dcee0,#3dcedf,#3ecfde,#3fd1dc,#41d3d8,#43d7d3,#47ddca,#50e3bc,#61e6a6,#77e88b)"></i><i style="background:linear-gradient(90deg,#a2e856,#9ce85d,#8ce870,#7be885,#6be899,#5fe6a9,#53e4b8,#4ae2c5,#47ddcb,#44d9d0,#42d6d4,#41d4d8,#3fd1db,#3ecfde,#3dcde0,#3ccde1,#3dcde1,#3dcedf,#3ed0dd,#40d3d9,#43d7d3,#47ddcb,#51e3bc,#63e6a4,#7ae887)"></i><i style="background:linear-gradient(90deg,#a8e750,#9fe859,#8ee86e,#7ce884,#6ce899,#5ee6aa,#53e4b9,#4ae1c5,#46dccc,#44d9d1,#42d6d5,#41d3d8,#3fd1db,#3ecedf,#3ccde1,#3ccce2,#3ccce2,#3dcde0,#3ecfde,#40d2da,#43d6d4,#47ddcb,#51e3bb,#65e7a2,#7ee882)"></i><i style="background:linear-gradient(90deg,#ade64b,#a3e855,#90e86b,#7de883,#6ce898,#5ee6aa,#52e3b9,#49e1c5,#46dccc,#44d8d1,#42d6d5,#40d3d8,#3fd0dc,#3dcee0,#3ccbe2,#3ccae2,#3ccae2,#3ccce2,#3dcedf,#3fd1db,#42d6d5,#47ddcb,#51e3ba,#66e79f,#81e87e)"></i><i style="background:linear-gradient(90deg,#b3e545,#a7e751,#93e869,#7ee882,#6ce898,#5ee6aa,#52e3ba,#49e1c6,#46dccd,#44d8d1,#42d5d5,#40d3d9,#3ed0dd,#3ccde1,#3cc9e2,#3cc8e3,#3cc9e3,#3ccbe2,#3dcde0,#3fd0dc,#42d5d5,#46dccc,#52e3ba,#68e79d,#85e879)"></i><i style="background:linear-gradient(90deg,#b9e43f,#abe64d,#95e866,#7fe881,#6ce898,#5ee5ab,#51e3ba,#49e0c6,#46dbcd,#44d8d2,#42d5d6,#40d2da,#3ecfde,#3ccbe2,#3bc7e3,#3bc6e3,#3bc6e3,#3cc9e3,#3ccce1,#3ed0dd,#42d5d6,#46dccc,#52e3b9,#6ae89b,#89e875)"></i><i style="background:linear-gradient(90deg,#bfe439,#b0e648,#97e864,#80e880,#6ce898,#5de5ab,#51e3bb,#49e0c7,#46dbcd,#43d8d2,#41d5d6,#3fd1db,#3dcedf,#3cc9e2,#3bc5e3,#3bc3e3,#3bc4e3,#3bc7e3,#3ccbe2,#3ecfde,#41d4d7,#46dccc,#53e4b9,#6be899,#8de870)"></i><i style="background:linear-gradient(90deg,#c5e333,#b4e544,#98e861,#80e87f,#6ce898,#5de5ab,#51e3bc,#49e0c7,#45dbce,#43d7d3,#41d4d7,#3fd1db,#3dcde1,#3bc7e3,#3bc2e4,#3bc0e4,#3bc2e4,#3bc5e3,#3ccae2,#3dcedf,#41d4d8,#46dccd,#53e4b8,#6de896,#90e86b)"></i><i style="background:linear-gradient(90deg,#cce22c,#b9e43f,#9ae85f,#81e87e,#6ce898,#5de5ac,#50e3bc,#48e0c7,#45dbce,#43d7d3,#41d4d7,#3fd0dd,#3ccbe2,#3bc4e3,#3bbfe4,#3abde4,#3bbfe4,#3bc3e4,#3cc8e3,#3dcee0,#41d3d8,#46dccd,#53e4b8,#6fe894,#94e866)"></i><i style="background:linear-gradient(90deg,#d4e124,#bde43b,#9ce85d,#82e87d,#6ce898,#5ce5ac,#50e3bc,#48dfc8,#45dace,#43d7d3,#41d3d8,#3ecfde,#3cc9e2,#3bc1e4,#3abce5,#3abae5,#3abce5,#3bc1e4,#3bc6e3,#3dcde1,#40d3d9,#46dbcd,#54e4b7,#71e891,#98e862)"></i><i style="background:linear-gradient(90deg,#dade1e,#c2e336,#9ee85a,#82e87d,#6ce898,#5ce5ac,#50e3bd,#48dfc8,#45dacf,#43d7d4,#40d3d9,#3dcedf,#3bc7e3,#3abee4,#3ab8e5,#3ab7e6,#3ab9e5,#3bbfe4,#3bc5e3,#3ccce2,#40d2d9,#46dbcd,#54e4b7,#73e88f,#9ce85d)"></i><i style="background:linear-gradient(90deg,#ded717,#c7e231,#a0e858,#83e87c,#6ce898,#5ce5ad,#4fe3bd,#48dfc8,#45dacf,#43d6d4,#40d2d9,#3dcde0,#3bc4e3,#3abbe5,#39b4e6,#39b3e6,#3ab7e6,#3abce5,#3bc3e3,#3ccbe2,#40d2da,#46dbcd,#55e4b6,#75e88d,#a0e858)"></i><i style="background:linear-gradient(90deg,#e3d111,#cce22c,#a2e856,#84e87b,#6ce898,#5ce5ad,#4fe3bd,#48dfc8,#45dacf,#42d6d4,#40d2da,#3ccce2,#3bc1e4,#3ab7e5,#39b1e7,#39b0e7,#39b4e6,#3abae5,#3bc2e4,#3ccae2,#40d2da,#46dbce,#55e4b5,#77e88a,#a4e754)"></i><i style="background:linear-gradient(90deg,#e8ca0a,#d1e127,#a4e754,#84e87a,#6ce898,#5ce5ac,#50e3bd,#48dfc8,#45dacf,#42d6d4,#3fd1db,#3ccae2,#3bbfe4,#39b4e6,#39ade7,#38ace7,#39b1e7,#3ab8e5,#3bc0e4,#3cc9e2,#3fd1db,#46dbce,#56e4b5,#79e888,#a8e750)"></i><i style="background:linear-gradient(90deg,#edc303,#d6e022,#a7e751,#85e879,#6de897,#5ce5ac,#50e3bd,#48dfc7,#45dace,#42d6d4,#3fd1dc,#3cc9e3,#3abce5,#39b0e7,#38a9e8,#38a8e8,#39aee7,#3ab6e6,#3bbfe4,#3cc9e3,#3fd1db,#46dbce,#56e4b4,#7be886,#ace64c)"></i><i style="background:linear-gradient(90deg,#f0bb00,#dadd1d,#a9e74f,#86e878,#6de897,#5de5ac,#50e3bc,#49e0c7,#45dbce,#42d6d4,#3fd0dc,#3bc7e3,#3ab9e5,#39ade7,#38a5e8,#38a5e8,#38abe8,#39b4e6,#3abee4,#3cc8e3,#3fd1db,#46dbce,#57e4b4,#7de884,#b0e648)"></i><i style="background:linear-gradient(90deg,#f0b000,#ddd919,#abe64d,#87e877,#6ee896,#5de5ab,#51e3bb,#49e0c6,#46dbcd,#42d6d4,#3ed0dd,#3bc5e3,#3ab7e6,#38a9e8,#38a1e8,#38a1e8,#38a8e8,#39b2e6,#3abde5,#3bc7e3,#3fd1dc,#46dbcd,#57e4b3,#7ee882,#b3e545)"></i><i style="background:linear-gradient(90deg,#f0a500,#e0d515,#aee64a,#88e875,#6fe895,#5ee5aa,#52e3ba,#49e1c6,#46dccd,#43d6d4,#3ed0dd,#3bc4e3,#39b4e6,#38a6e8,#389de7,#389de7,#38a5e8,#39b0e7,#3abce5,#3bc7e3,#3fd1dc,#46dbcd,#58e4b2,#7fe880,#b7e541)"></i><i style="background:linear-gradient(90deg,#f09a00,#e3d111,#b0e648,#8ae874,#6fe894,#5fe6a9,#52e3b9,#4ae1c5,#46dccc,#43d7d4,#3ecfde,#3bc2e4,#39b2e6,#38a2e8,#389ae7,#389ae7,#38a3e8,#39afe7,#3abbe5,#3bc7e3,#3fd1db,#46dbcd,#58e4b2,#81e87f,#bae43e)"></i><i style="background:linear-gradient(90deg,#f08f01,#e6cd0d,#b3e545,#8be872,#71e892,#60e6a8,#54e4b7,#4ae2c3,#47ddcb,#43d7d3,#3ecfde,#3bc1e4,#39afe7,#389fe8,#3896e7,#3897e7,#38a1e8,#39ade7,#3abae5,#3bc7e3,#3fd1db,#46dccc,#59e5b1,#82e87d,#bde43b)"></i><i style="background:linear-gradient(90deg,#ee8404,#eac909,#b6e542,#8de870,#72e891,#61e6a6,#55e4b6,#4ce2c1,#47deca,#43d7d2,#3ecfde,#3bc0e4,#39ade7,#389de7,#3893e7,#3895e7,#389fe8,#38ace7,#3abae5,#3bc7e3,#3fd1db,#46dccc,#59e5b1,#82e87d,#bfe439)"></i><i style="background:linear-gradient(90deg,#ed7808,#edc505,#b9e43f,#8fe86d,#74e88f,#62e6a4,#57e4b3,#4ee3bf,#48dfc8,#44d8d2,#3ecfde,#3bbfe4,#38ace7,#389ae7,#3891e7,#3893e7,#389de7,#38ace7,#3abae5,#3bc7e3,#40d2da,#47ddcb,#59e5b0,#82e87c,#c0e338)"></i><i style="background:linear-gradient(90deg,#ec6e0a,#f0c101,#bce43c,#91e86b,#76e88c,#64e7a2,#59e5b1,#50e3bd,#49e0c7,#44d9d1,#3ecfde,#3abee4,#38aae8,#3898e7,#388fe7,#3891e7,#389ce7,#38abe7,#3abae5,#3cc8e3,#40d2d9,#47ddcb,#5ae5af,#82e87c,#bfe439)"></i><i style="background:linear-gradient(90deg,#eb640c,#f0bb00,#bfe439,#93e868,#78e889,#66e79f,#5be5ae,#52e3b9,#4ae1c5,#45dacf,#3ecfdd,#3abde4,#38a9e8,#3896e7,#388de7,#388fe7,#389be7,#38abe8,#3abae5,#3cc9e3,#40d3d9,#47deca,#5ae5af,#82e87d,#bee43a)"></i></div>

<div class="axl" style="left:244px;top:16px;height:96px"></div>
<div class="axb" style="left:244px;top:111px;width:96px"></div>
<div class="a" style="left:240.8px;top:105.22px;width:3.2px;height:1px;background:#a8a8a8"></div>
<div class="a" style="left:249.78px;top:112.2px;width:1px;height:2.5px;background:#a8a8a8"></div>
<div class="tl" style="right:446.0px;top:102.32px">-4</div>
<div class="tl" style="right:432.47px;top:115.6px">-4</div>
<div class="a" style="left:240.8px;top:94.67px;width:3.2px;height:1px;background:#a8a8a8"></div>
<div class="a" style="left:260.33px;top:112.2px;width:1px;height:2.5px;background:#a8a8a8"></div>
<div class="tl" style="right:446.0px;top:91.77px">-3</div>
<div class="tl" style="right:421.92px;top:115.6px">-3</div>
<div class="a" style="left:240.8px;top:84.11px;width:3.2px;height:1px;background:#a8a8a8"></div>
<div class="a" style="left:270.89px;top:112.2px;width:1px;height:2.5px;background:#a8a8a8"></div>
<div class="tl" style="right:446.0px;top:81.21px">-2</div>
<div class="tl" style="right:411.36px;top:115.6px">-2</div>
<div class="a" style="left:240.8px;top:73.56px;width:3.2px;height:1px;background:#a8a8a8"></div>
<div class="a" style="left:281.44px;top:112.2px;width:1px;height:2.5px;background:#a8a8a8"></div>
<div class="tl" style="right:446.0px;top:70.66px">-1</div>
<div class="tl" style="right:400.81px;top:115.6px">-1</div>
<div class="a" style="left:240.8px;top:63.00px;width:3.2px;height:1px;background:#a8a8a8"></div>
<div class="a" style="left:292.00px;top:112.2px;width:1px;height:2.5px;background:#a8a8a8"></div>
<div class="tl" style="right:446.0px;top:60.10px">0</div>
<div class="tl" style="right:390.25px;top:115.6px">0</div>
<div class="a" style="left:240.8px;top:52.44px;width:3.2px;height:1px;background:#a8a8a8"></div>
<div class="a" style="left:302.56px;top:112.2px;width:1px;height:2.5px;background:#a8a8a8"></div>
<div class="tl" style="right:446.0px;top:49.54px">1</div>
<div class="tl" style="right:379.69px;top:115.6px">1</div>
<div class="a" style="left:240.8px;top:41.89px;width:3.2px;height:1px;background:#a8a8a8"></div>
<div class="a" style="left:313.11px;top:112.2px;width:1px;height:2.5px;background:#a8a8a8"></div>
<div class="tl" style="right:446.0px;top:38.99px">2</div>
<div class="tl" style="right:369.14px;top:115.6px">2</div>
<div class="a" style="left:240.8px;top:31.33px;width:3.2px;height:1px;background:#a8a8a8"></div>
<div class="a" style="left:323.67px;top:112.2px;width:1px;height:2.5px;background:#a8a8a8"></div>
<div class="tl" style="right:446.0px;top:28.43px">3</div>
<div class="tl" style="right:358.58px;top:115.6px">3</div>
<div class="a" style="left:240.8px;top:20.78px;width:3.2px;height:1px;background:#a8a8a8"></div>
<div class="a" style="left:334.22px;top:112.2px;width:1px;height:2.5px;background:#a8a8a8"></div>
<div class="tl" style="right:446.0px;top:17.88px">4</div>
<div class="tl" style="right:348.03px;top:115.6px">4</div>
<div class="tt" style="left:296.1px;top:125.5px;width:80px;margin-left:-40px;text-align:center">x-axis (mm)</div>
<div class="tv" style="left:191.5px;top:57.5px">y-axis (mm)</div>
<div class="axl" style="left:383px;top:16px;height:96px"></div>
<div class="axb" style="left:383px;top:111px;width:96px"></div>
<div class="a" style="left:379.8px;top:105.22px;width:3.2px;height:1px;background:#a8a8a8"></div>
<div class="a" style="left:388.78px;top:112.2px;width:1px;height:2.5px;background:#a8a8a8"></div>
<div class="tl" style="right:307.0px;top:102.32px">-4</div>
<div class="tl" style="right:293.47px;top:115.6px">-4</div>
<div class="a" style="left:379.8px;top:94.67px;width:3.2px;height:1px;background:#a8a8a8"></div>
<div class="a" style="left:399.33px;top:112.2px;width:1px;height:2.5px;background:#a8a8a8"></div>
<div class="tl" style="right:307.0px;top:91.77px">-3</div>
<div class="tl" style="right:282.92px;top:115.6px">-3</div>
<div class="a" style="left:379.8px;top:84.11px;width:3.2px;height:1px;background:#a8a8a8"></div>
<div class="a" style="left:409.89px;top:112.2px;width:1px;height:2.5px;background:#a8a8a8"></div>
<div class="tl" style="right:307.0px;top:81.21px">-2</div>
<div class="tl" style="right:272.36px;top:115.6px">-2</div>
<div class="a" style="left:379.8px;top:73.56px;width:3.2px;height:1px;background:#a8a8a8"></div>
<div class="a" style="left:420.44px;top:112.2px;width:1px;height:2.5px;background:#a8a8a8"></div>
<div class="tl" style="right:307.0px;top:70.66px">-1</div>
<div class="tl" style="right:261.81px;top:115.6px">-1</div>
<div class="a" style="left:379.8px;top:63.00px;width:3.2px;height:1px;background:#a8a8a8"></div>
<div class="a" style="left:431.00px;top:112.2px;width:1px;height:2.5px;background:#a8a8a8"></div>
<div class="tl" style="right:307.0px;top:60.10px">0</div>
<div class="tl" style="right:251.25px;top:115.6px">0</div>
<div class="a" style="left:379.8px;top:52.44px;width:3.2px;height:1px;background:#a8a8a8"></div>
<div class="a" style="left:441.56px;top:112.2px;width:1px;height:2.5px;background:#a8a8a8"></div>
<div class="tl" style="right:307.0px;top:49.54px">1</div>
<div class="tl" style="right:240.69px;top:115.6px">1</div>
<div class="a" style="left:379.8px;top:41.89px;width:3.2px;height:1px;background:#a8a8a8"></div>
<div class="a" style="left:452.11px;top:112.2px;width:1px;height:2.5px;background:#a8a8a8"></div>
<div class="tl" style="right:307.0px;top:38.99px">2</div>
<div class="tl" style="right:230.14px;top:115.6px">2</div>
<div class="a" style="left:379.8px;top:31.33px;width:3.2px;height:1px;background:#a8a8a8"></div>
<div class="a" style="left:462.67px;top:112.2px;width:1px;height:2.5px;background:#a8a8a8"></div>
<div class="tl" style="right:307.0px;top:28.43px">3</div>
<div class="tl" style="right:219.58px;top:115.6px">3</div>
<div class="a" style="left:379.8px;top:20.78px;width:3.2px;height:1px;background:#a8a8a8"></div>
<div class="a" style="left:473.22px;top:112.2px;width:1px;height:2.5px;background:#a8a8a8"></div>
<div class="tl" style="right:307.0px;top:17.88px">4</div>
<div class="tl" style="right:209.03px;top:115.6px">4</div>
<div class="tt" style="left:435.1px;top:125.5px;width:80px;margin-left:-40px;text-align:center">y-axis (mm)</div>
<div class="tv" style="left:330.5px;top:57.5px">z-axis (mm)</div>
<div class="axl" style="left:522px;top:16px;height:96px"></div>
<div class="axb" style="left:522px;top:111px;width:96px"></div>
<div class="a" style="left:518.8px;top:105.22px;width:3.2px;height:1px;background:#a8a8a8"></div>
<div class="a" style="left:527.78px;top:112.2px;width:1px;height:2.5px;background:#a8a8a8"></div>
<div class="tl" style="right:168.0px;top:102.32px">-4</div>
<div class="tl" style="right:154.47px;top:115.6px">-4</div>
<div class="a" style="left:518.8px;top:94.67px;width:3.2px;height:1px;background:#a8a8a8"></div>
<div class="a" style="left:538.33px;top:112.2px;width:1px;height:2.5px;background:#a8a8a8"></div>
<div class="tl" style="right:168.0px;top:91.77px">-3</div>
<div class="tl" style="right:143.92px;top:115.6px">-3</div>
<div class="a" style="left:518.8px;top:84.11px;width:3.2px;height:1px;background:#a8a8a8"></div>
<div class="a" style="left:548.89px;top:112.2px;width:1px;height:2.5px;background:#a8a8a8"></div>
<div class="tl" style="right:168.0px;top:81.21px">-2</div>
<div class="tl" style="right:133.36px;top:115.6px">-2</div>
<div class="a" style="left:518.8px;top:73.56px;width:3.2px;height:1px;background:#a8a8a8"></div>
<div class="a" style="left:559.44px;top:112.2px;width:1px;height:2.5px;background:#a8a8a8"></div>
<div class="tl" style="right:168.0px;top:70.66px">-1</div>
<div class="tl" style="right:122.81px;top:115.6px">-1</div>
<div class="a" style="left:518.8px;top:63.00px;width:3.2px;height:1px;background:#a8a8a8"></div>
<div class="a" style="left:570.00px;top:112.2px;width:1px;height:2.5px;background:#a8a8a8"></div>
<div class="tl" style="right:168.0px;top:60.10px">0</div>
<div class="tl" style="right:112.25px;top:115.6px">0</div>
<div class="a" style="left:518.8px;top:52.44px;width:3.2px;height:1px;background:#a8a8a8"></div>
<div class="a" style="left:580.56px;top:112.2px;width:1px;height:2.5px;background:#a8a8a8"></div>
<div class="tl" style="right:168.0px;top:49.54px">1</div>
<div class="tl" style="right:101.69px;top:115.6px">1</div>
<div class="a" style="left:518.8px;top:41.89px;width:3.2px;height:1px;background:#a8a8a8"></div>
<div class="a" style="left:591.11px;top:112.2px;width:1px;height:2.5px;background:#a8a8a8"></div>
<div class="tl" style="right:168.0px;top:38.99px">2</div>
<div class="tl" style="right:91.14px;top:115.6px">2</div>
<div class="a" style="left:518.8px;top:31.33px;width:3.2px;height:1px;background:#a8a8a8"></div>
<div class="a" style="left:601.67px;top:112.2px;width:1px;height:2.5px;background:#a8a8a8"></div>
<div class="tl" style="right:168.0px;top:28.43px">3</div>
<div class="tl" style="right:80.58px;top:115.6px">3</div>
<div class="a" style="left:518.8px;top:20.78px;width:3.2px;height:1px;background:#a8a8a8"></div>
<div class="a" style="left:612.22px;top:112.2px;width:1px;height:2.5px;background:#a8a8a8"></div>
<div class="tl" style="right:168.0px;top:17.88px">4</div>
<div class="tl" style="right:70.03px;top:115.6px">4</div>
<div class="tt" style="left:574.1px;top:125.5px;width:80px;margin-left:-40px;text-align:center">z-axis (mm)</div>
<div class="tv" style="left:469.5px;top:57.5px">x-axis (mm)</div>
<div class="axl" style="left:244px;top:163px;height:96px"></div>
<div class="axb" style="left:244px;top:258px;width:96px"></div>
<div class="a" style="left:240.8px;top:252.22px;width:3.2px;height:1px;background:#a8a8a8"></div>
<div class="a" style="left:249.78px;top:259.2px;width:1px;height:2.5px;background:#a8a8a8"></div>
<div class="tl" style="right:446.0px;top:249.32px">-4</div>
<div class="tl" style="right:432.47px;top:262.6px">-4</div>
<div class="a" style="left:240.8px;top:241.67px;width:3.2px;height:1px;background:#a8a8a8"></div>
<div class="a" style="left:260.33px;top:259.2px;width:1px;height:2.5px;background:#a8a8a8"></div>
<div class="tl" style="right:446.0px;top:238.77px">-3</div>
<div class="tl" style="right:421.92px;top:262.6px">-3</div>
<div class="a" style="left:240.8px;top:231.11px;width:3.2px;height:1px;background:#a8a8a8"></div>
<div class="a" style="left:270.89px;top:259.2px;width:1px;height:2.5px;background:#a8a8a8"></div>
<div class="tl" style="right:446.0px;top:228.21px">-2</div>
<div class="tl" style="right:411.36px;top:262.6px">-2</div>
<div class="a" style="left:240.8px;top:220.56px;width:3.2px;height:1px;background:#a8a8a8"></div>
<div class="a" style="left:281.44px;top:259.2px;width:1px;height:2.5px;background:#a8a8a8"></div>
<div class="tl" style="right:446.0px;top:217.66px">-1</div>
<div class="tl" style="right:400.81px;top:262.6px">-1</div>
<div class="a" style="left:240.8px;top:210.00px;width:3.2px;height:1px;background:#a8a8a8"></div>
<div class="a" style="left:292.00px;top:259.2px;width:1px;height:2.5px;background:#a8a8a8"></div>
<div class="tl" style="right:446.0px;top:207.10px">0</div>
<div class="tl" style="right:390.25px;top:262.6px">0</div>
<div class="a" style="left:240.8px;top:199.44px;width:3.2px;height:1px;background:#a8a8a8"></div>
<div class="a" style="left:302.56px;top:259.2px;width:1px;height:2.5px;background:#a8a8a8"></div>
<div class="tl" style="right:446.0px;top:196.54px">1</div>
<div class="tl" style="right:379.69px;top:262.6px">1</div>
<div class="a" style="left:240.8px;top:188.89px;width:3.2px;height:1px;background:#a8a8a8"></div>
<div class="a" style="left:313.11px;top:259.2px;width:1px;height:2.5px;background:#a8a8a8"></div>
<div class="tl" style="right:446.0px;top:185.99px">2</div>
<div class="tl" style="right:369.14px;top:262.6px">2</div>
<div class="a" style="left:240.8px;top:178.33px;width:3.2px;height:1px;background:#a8a8a8"></div>
<div class="a" style="left:323.67px;top:259.2px;width:1px;height:2.5px;background:#a8a8a8"></div>
<div class="tl" style="right:446.0px;top:175.43px">3</div>
<div class="tl" style="right:358.58px;top:262.6px">3</div>
<div class="a" style="left:240.8px;top:167.78px;width:3.2px;height:1px;background:#a8a8a8"></div>
<div class="a" style="left:334.22px;top:259.2px;width:1px;height:2.5px;background:#a8a8a8"></div>
<div class="tl" style="right:446.0px;top:164.88px">4</div>
<div class="tl" style="right:348.03px;top:262.6px">4</div>
<div class="tt" style="left:296.1px;top:272.5px;width:80px;margin-left:-40px;text-align:center">x-axis (mm)</div>
<div class="tv" style="left:191.5px;top:204.5px">y-axis (mm)</div>
<div class="axl" style="left:383px;top:163px;height:96px"></div>
<div class="axb" style="left:383px;top:258px;width:96px"></div>
<div class="a" style="left:379.8px;top:252.22px;width:3.2px;height:1px;background:#a8a8a8"></div>
<div class="a" style="left:388.78px;top:259.2px;width:1px;height:2.5px;background:#a8a8a8"></div>
<div class="tl" style="right:307.0px;top:249.32px">-4</div>
<div class="tl" style="right:293.47px;top:262.6px">-4</div>
<div class="a" style="left:379.8px;top:241.67px;width:3.2px;height:1px;background:#a8a8a8"></div>
<div class="a" style="left:399.33px;top:259.2px;width:1px;height:2.5px;background:#a8a8a8"></div>
<div class="tl" style="right:307.0px;top:238.77px">-3</div>
<div class="tl" style="right:282.92px;top:262.6px">-3</div>
<div class="a" style="left:379.8px;top:231.11px;width:3.2px;height:1px;background:#a8a8a8"></div>
<div class="a" style="left:409.89px;top:259.2px;width:1px;height:2.5px;background:#a8a8a8"></div>
<div class="tl" style="right:307.0px;top:228.21px">-2</div>
<div class="tl" style="right:272.36px;top:262.6px">-2</div>
<div class="a" style="left:379.8px;top:220.56px;width:3.2px;height:1px;background:#a8a8a8"></div>
<div class="a" style="left:420.44px;top:259.2px;width:1px;height:2.5px;background:#a8a8a8"></div>
<div class="tl" style="right:307.0px;top:217.66px">-1</div>
<div class="tl" style="right:261.81px;top:262.6px">-1</div>
<div class="a" style="left:379.8px;top:210.00px;width:3.2px;height:1px;background:#a8a8a8"></div>
<div class="a" style="left:431.00px;top:259.2px;width:1px;height:2.5px;background:#a8a8a8"></div>
<div class="tl" style="right:307.0px;top:207.10px">0</div>
<div class="tl" style="right:251.25px;top:262.6px">0</div>
<div class="a" style="left:379.8px;top:199.44px;width:3.2px;height:1px;background:#a8a8a8"></div>
<div class="a" style="left:441.56px;top:259.2px;width:1px;height:2.5px;background:#a8a8a8"></div>
<div class="tl" style="right:307.0px;top:196.54px">1</div>
<div class="tl" style="right:240.69px;top:262.6px">1</div>
<div class="a" style="left:379.8px;top:188.89px;width:3.2px;height:1px;background:#a8a8a8"></div>
<div class="a" style="left:452.11px;top:259.2px;width:1px;height:2.5px;background:#a8a8a8"></div>
<div class="tl" style="right:307.0px;top:185.99px">2</div>
<div class="tl" style="right:230.14px;top:262.6px">2</div>
<div class="a" style="left:379.8px;top:178.33px;width:3.2px;height:1px;background:#a8a8a8"></div>
<div class="a" style="left:462.67px;top:259.2px;width:1px;height:2.5px;background:#a8a8a8"></div>
<div class="tl" style="right:307.0px;top:175.43px">3</div>
<div class="tl" style="right:219.58px;top:262.6px">3</div>
<div class="a" style="left:379.8px;top:167.78px;width:3.2px;height:1px;background:#a8a8a8"></div>
<div class="a" style="left:473.22px;top:259.2px;width:1px;height:2.5px;background:#a8a8a8"></div>
<div class="tl" style="right:307.0px;top:164.88px">4</div>
<div class="tl" style="right:209.03px;top:262.6px">4</div>
<div class="tt" style="left:435.1px;top:272.5px;width:80px;margin-left:-40px;text-align:center">y-axis (mm)</div>
<div class="tv" style="left:330.5px;top:204.5px">z-axis (mm)</div>
<div class="axl" style="left:522px;top:163px;height:96px"></div>
<div class="axb" style="left:522px;top:258px;width:96px"></div>
<div class="a" style="left:518.8px;top:252.22px;width:3.2px;height:1px;background:#a8a8a8"></div>
<div class="a" style="left:527.78px;top:259.2px;width:1px;height:2.5px;background:#a8a8a8"></div>
<div class="tl" style="right:168.0px;top:249.32px">-4</div>
<div class="tl" style="right:154.47px;top:262.6px">-4</div>
<div class="a" style="left:518.8px;top:241.67px;width:3.2px;height:1px;background:#a8a8a8"></div>
<div class="a" style="left:538.33px;top:259.2px;width:1px;height:2.5px;background:#a8a8a8"></div>
<div class="tl" style="right:168.0px;top:238.77px">-3</div>
<div class="tl" style="right:143.92px;top:262.6px">-3</div>
<div class="a" style="left:518.8px;top:231.11px;width:3.2px;height:1px;background:#a8a8a8"></div>
<div class="a" style="left:548.89px;top:259.2px;width:1px;height:2.5px;background:#a8a8a8"></div>
<div class="tl" style="right:168.0px;top:228.21px">-2</div>
<div class="tl" style="right:133.36px;top:262.6px">-2</div>
<div class="a" style="left:518.8px;top:220.56px;width:3.2px;height:1px;background:#a8a8a8"></div>
<div class="a" style="left:559.44px;top:259.2px;width:1px;height:2.5px;background:#a8a8a8"></div>
<div class="tl" style="right:168.0px;top:217.66px">-1</div>
<div class="tl" style="right:122.81px;top:262.6px">-1</div>
<div class="a" style="left:518.8px;top:210.00px;width:3.2px;height:1px;background:#a8a8a8"></div>
<div class="a" style="left:570.00px;top:259.2px;width:1px;height:2.5px;background:#a8a8a8"></div>
<div class="tl" style="right:168.0px;top:207.10px">0</div>
<div class="tl" style="right:112.25px;top:262.6px">0</div>
<div class="a" style="left:518.8px;top:199.44px;width:3.2px;height:1px;background:#a8a8a8"></div>
<div class="a" style="left:580.56px;top:259.2px;width:1px;height:2.5px;background:#a8a8a8"></div>
<div class="tl" style="right:168.0px;top:196.54px">1</div>
<div class="tl" style="right:101.69px;top:262.6px">1</div>
<div class="a" style="left:518.8px;top:188.89px;width:3.2px;height:1px;background:#a8a8a8"></div>
<div class="a" style="left:591.11px;top:259.2px;width:1px;height:2.5px;background:#a8a8a8"></div>
<div class="tl" style="right:168.0px;top:185.99px">2</div>
<div class="tl" style="right:91.14px;top:262.6px">2</div>
<div class="a" style="left:518.8px;top:178.33px;width:3.2px;height:1px;background:#a8a8a8"></div>
<div class="a" style="left:601.67px;top:259.2px;width:1px;height:2.5px;background:#a8a8a8"></div>
<div class="tl" style="right:168.0px;top:175.43px">3</div>
<div class="tl" style="right:80.58px;top:262.6px">3</div>
<div class="a" style="left:518.8px;top:167.78px;width:3.2px;height:1px;background:#a8a8a8"></div>
<div class="a" style="left:612.22px;top:259.2px;width:1px;height:2.5px;background:#a8a8a8"></div>
<div class="tl" style="right:168.0px;top:164.88px">4</div>
<div class="tl" style="right:70.03px;top:262.6px">4</div>
<div class="tt" style="left:574.1px;top:272.5px;width:80px;margin-left:-40px;text-align:center">z-axis (mm)</div>
<div class="tv" style="left:469.5px;top:204.5px">x-axis (mm)</div>

<div class="cb" style="background:linear-gradient(180deg,#740808,#890a0a,#9e0c0c,#ae0f0e,#be1210,#c71810,#d01e10,#d72810,#de3210,#e34110,#e85010,#ea600d,#ec700a,#ee8105,#f09200,#f0a100,#f0b100,#f0c000,#e8cb0b,#e0d515,#d8e020,#cae22e,#bce43c,#aee64a,#a0e858,#93e868,#86e878,#79e888,#6ce898,#61e6a7,#55e4b5,#4ae2c4,#45dbce,#41d3d8,#3ccce2,#3bc0e4,#39b4e6,#38a8e8,#389be7,#388de7,#3880e6,#3971e4,#3a62e2,#3a57e0,#3a4cde,#3844db,#363cd8,#3235d2,#2e2ecc,#2b2bc3,#2727b9,#2424b0,#2121a4,#1f1f98,#1c1c8c)"></div>
<div class="cbl" style="left:654.4px;top:202.90px">5</div>
<div class="a" style="left:650px;top:206.90px;width:1px;height:1px;background:#555"></div>
<div class="a" style="left:645px;top:206.90px;width:1px;height:1px;background:#555"></div>
<div class="cbl" style="left:654.4px;top:162.10px">10</div>
<div class="a" style="left:650px;top:166.10px;width:1px;height:1px;background:#555"></div>
<div class="a" style="left:645px;top:166.10px;width:1px;height:1px;background:#555"></div>
<div class="cbl" style="left:654.4px;top:121.30px">15</div>
<div class="a" style="left:650px;top:125.30px;width:1px;height:1px;background:#555"></div>
<div class="a" style="left:645px;top:125.30px;width:1px;height:1px;background:#555"></div>
<div class="cbl" style="left:654.4px;top:80.50px">20</div>
<div class="a" style="left:650px;top:84.50px;width:1px;height:1px;background:#555"></div>
<div class="a" style="left:645px;top:84.50px;width:1px;height:1px;background:#555"></div>
<div class="cbl" style="left:654.4px;top:39.70px">25</div>
<div class="a" style="left:650px;top:43.70px;width:1px;height:1px;background:#555"></div>
<div class="a" style="left:645px;top:43.70px;width:1px;height:1px;background:#555"></div>
<div class="a tx" style="left:662.2px;top:238.7px;font-size:12.6px;line-height:12px;color:#222">(nT)</div>

<svg class="a" style="left:0;top:0" width="200" height="284" viewBox="0 0 200 284">
<polyline points="76.7,154 76.7,243.7 19.3,251.6" fill="none" stroke="#5e4e46" stroke-width="1.7"/>
<polyline points="76.7,154 76.7,243.7 19.3,251.6" fill="none" stroke="#d8c0b8" stroke-width="0.8" stroke-dasharray="1.1,1.7"/>
<polyline points="117.7,150 117.7,238.7 189.5,229" fill="none" stroke="#5e4e46" stroke-width="1.7"/>
<polyline points="117.7,150 117.7,238.7 189.5,229" fill="none" stroke="#d8c0b8" stroke-width="0.8" stroke-dasharray="1.1,1.7"/>
<polygon points="78,53 115.8,49.7 155.3,64.6 155,121.5 121,134 86,126 78,120" fill="#bbba93" stroke="#8a8966" stroke-width="0.7"/>
<polygon points="78,53 115.8,49.7 155.3,64.6 150.5,67.5 119,56.5 86,59.5" fill="#c8c7a1"/>
<polyline points="78,53 86,59.5 119,56.5 150.5,67.5" fill="none" stroke="#8a8966" stroke-width="0.5"/>
<polygon points="121,69 150.5,67.5 155.3,64.6 155,121.5 121,134" fill="#b5b48e"/>
<line x1="121" y1="69" x2="121" y2="134" stroke="#8a8966" stroke-width="0.5"/>
<rect x="122" y="70.0" width="30" height="5" fill="#c9c8a8" stroke="#8a8966" stroke-width="0.5"/>
<rect x="122" y="112.0" width="30" height="5" fill="#c9c8a8" stroke="#8a8966" stroke-width="0.5"/>
<rect x="120.0" y="55" width="4" height="15" fill="#bdbc96" stroke="#8a8966" stroke-width="0.4"/>
<rect x="129.7" y="55" width="4" height="15" fill="#bdbc96" stroke="#8a8966" stroke-width="0.4"/>
<ellipse cx="137" cy="89.4" rx="4" ry="6" fill="none" stroke="#8a8966" stroke-width="0.5"/>
<line x1="110.5" y1="60" x2="110.5" y2="130" stroke="#8a8966" stroke-width="0.5"/>
<polygon points="38.8,116.5 64.2,114.3 125,118 125,147 81,144.5 39.5,127.5" fill="#bbba93" stroke="#8a8966" stroke-width="0.6"/>
<polygon points="38.8,116.5 64.2,114.3 125,118 125,128 75,132 39.5,118.5" fill="#c8c7a1"/>
<polyline points="39.5,118.5 75,132 125,128" fill="none" stroke="#8a8966" stroke-width="0.5"/>
<rect x="58.0" y="122" width="6" height="12" fill="none" stroke="#a6a582" stroke-width="0.5"/>
<rect x="88.0" y="122" width="6" height="12" fill="none" stroke="#a6a582" stroke-width="0.5"/>
<rect x="100.0" y="122" width="6" height="12" fill="none" stroke="#a6a582" stroke-width="0.5"/>
<polygon points="62.9,61.9 109,59.5 111,62 111,124 88,126 64,116" fill="#e3e3e3" stroke="#a9a9a9" stroke-width="0.6"/>
<polygon points="62.9,61.9 109,59.5 111,62 85.4,67" fill="#efefef"/>
<polygon points="83.8,63.5 107.5,62.4 107.5,66 85,67" fill="none" stroke="#bdbdbd" stroke-width="0.5"/>
<polygon points="85.4,67 111,62 111,124 88,126" fill="#dedede"/>
<line x1="92.5" y1="66" x2="92.5" y2="124" stroke="#c4c4c4" stroke-width="0.6"/>
<line x1="102.0" y1="66" x2="102.0" y2="124" stroke="#c4c4c4" stroke-width="0.6"/>
<path d="M108 86 A10 11 0 0 1 108 108" fill="#e8e8e8" stroke="#b5b5b5" stroke-width="0.6"/>
<polygon points="87,87.5 117,88.3 117,90.8 87,90.5" fill="#e8a8a8" opacity="0.6"/>
<polygon points="62.9,62.8 85.8,70.5 86,119 62.9,113.8" fill="#a4a4a4"/>
<polygon points="64.8,65 85.4,73 85.4,118 64.8,113" fill="#3a3a3a"/>
<polygon points="64.8,65 85.4,73 85.4,77 64.8,70" fill="#2a2a2a"/>
<polygon points="67.5,71 82.5,76.5 82.5,114 67.5,110.5" fill="#474747"/>
<ellipse cx="75" cy="90.5" rx="5" ry="8.5" fill="#262626"/>
<ellipse cx="75" cy="90.5" rx="3.8" ry="7" fill="#6a6a6a"/>
<ellipse cx="75" cy="90.5" rx="2.4" ry="4.3" fill="#f2f2f2"/>
<polygon points="69.5,110 81.8,113 82,156.5 69.5,152.5" fill="#3a3a3a"/>
<polygon points="71,139 80.3,141 80.3,154.5 71,151.5" fill="#5c5c5c"/>
<polygon points="110,126 123,128.5 123,151 110,148.5" fill="#3e3e3e"/>
<polygon points="111.5,136 121.5,138 121.5,149.5 111.5,147.5" fill="#5e5e5e"/>
<line x1="74" y1="52.4" x2="74" y2="62" stroke="#d62222" stroke-width="1.8"/>
<line x1="74" y1="62" x2="74" y2="66.6" stroke="#d62222" stroke-width="1.5" opacity="0.4"/>
<line x1="120.1" y1="70.4" x2="120.1" y2="130.4" stroke="#d62222" stroke-width="1.8"/>
<line x1="69" y1="91.6" x2="79" y2="91.6" stroke="#d62222" stroke-width="2"/>
<line x1="103.8" y1="93.2" x2="109" y2="95.8" stroke="#d62222" stroke-width="2.2"/>
<line x1="64.8" y1="45.8" x2="69.6" y2="49.7" stroke="#e41e1e" stroke-width="1.30" stroke-dasharray="3.2,2.2"/><path d="M72.3 51.8L68.5 51.1L70.8 48.2Z" fill="#e41e1e"/>
<line x1="44.6" y1="78.5" x2="64.5" y2="89.7" stroke="#e41e1e" stroke-width="1.30" stroke-dasharray="3.2,2.2"/><path d="M67.5 91.4L63.6 91.4L65.5 88.1Z" fill="#e41e1e"/>
<line x1="122.0" y1="37.4" x2="106.5" y2="85.8" stroke="#e41e1e" stroke-width="1.30" stroke-dasharray="3.2,2.2"/><path d="M105.5 89.0L104.8 85.2L108.3 86.3Z" fill="#e41e1e"/>
<line x1="147.7" y1="148.8" x2="129.3" y2="131.9" stroke="#e41e1e" stroke-width="1.30" stroke-dasharray="3.2,2.2"/><path d="M126.8 129.6L130.6 130.5L128.0 133.3Z" fill="#e41e1e"/>
<line x1="97.5" y1="254.6" x2="84.3" y2="245.7" stroke="#e41e1e" stroke-width="1.30" stroke-dasharray="3.2,2.2"/><path d="M81.5 243.8L85.4 244.2L83.3 247.3Z" fill="#e41e1e"/>
<line x1="102.3" y1="253.8" x2="112.7" y2="243.0" stroke="#e41e1e" stroke-width="1.30" stroke-dasharray="3.2,2.2"/><path d="M115.0 240.5L114.0 244.3L111.3 241.7Z" fill="#e41e1e"/>
<line x1="31.7" y1="189.3" x2="31.7" y2="162" stroke="#8cc850" stroke-width="1.2"/>
<path d="M31.7 159.3 L29.5 164 L33.9 164Z" fill="#8cc850"/>
<line x1="31.7" y1="189.3" x2="15.5" y2="184" stroke="#e02020" stroke-width="1.3"/>
<path d="M13.1 183.3 L17 182.2 L16 186.3Z" fill="#e02020"/>
<line x1="31.7" y1="189.3" x2="47" y2="185.6" stroke="#3f78c0" stroke-width="1.3"/>
<path d="M49.7 185 L45.5 183.4 L46.4 187.5Z" fill="#3f78c0"/>
</svg>
<div class="tx" style="position:absolute;font-size:11.1px;line-height:11px;color:#222;white-space:nowrap;left:46.2px;top:29.2px"><i>y</i><span style="font-size:7.6px;vertical-align:-2.6px;margin-left:0.8px;margin-right:1.8px">2</span>-probe</div>
<div class="tx" style="position:absolute;font-size:11.1px;line-height:11px;color:#222;white-space:nowrap;left:105.4px;top:25.2px"><i style="margin-right:0.8px">x</i>-probe</div>
<div class="tx" style="position:absolute;font-size:11.1px;line-height:11px;color:#222;white-space:nowrap;left:12.9px;top:65.4px"><i style="margin-right:0.4px">z</i>-probe</div>
<div class="tx" style="position:absolute;font-size:11.1px;line-height:11px;color:#222;white-space:nowrap;left:139.5px;top:152.4px"><i>y</i><span style="font-size:7.6px;vertical-align:-2.6px;margin-left:0.8px;margin-right:1.8px">1</span>-probe</div>
<div class="tx" style="position:absolute;font-size:11.1px;line-height:11px;color:#222;white-space:nowrap;left:58.5px;top:257.8px">Twisted wire pair</div>
<div class="tx" style="position:absolute;font-size:11.1px;line-height:11px;color:#222;white-space:nowrap;left:29.8px;top:144.5px"><i>y</i></div>
<div class="tx" style="position:absolute;font-size:11.1px;line-height:11px;color:#222;white-space:nowrap;left:2px;top:172.5px"><i>x</i></div>
<div class="tx" style="position:absolute;font-size:11.1px;line-height:11px;color:#222;white-space:nowrap;left:55.8px;top:176.5px"><i>z</i></div>
</body></html>
